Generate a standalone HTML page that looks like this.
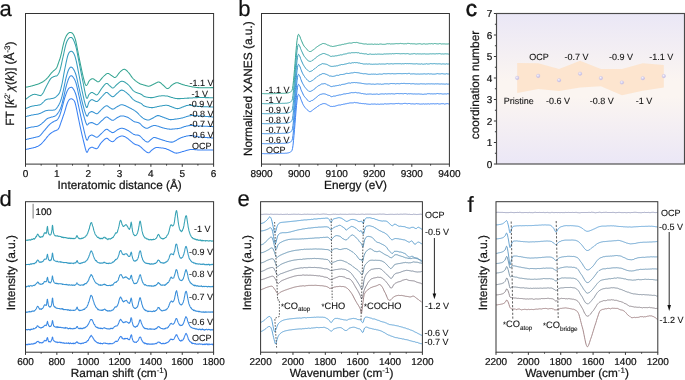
<!DOCTYPE html>
<html><head><meta charset="utf-8"><style>
html,body{margin:0;padding:0;background:#fff;overflow:hidden;}
svg{display:block;will-change:transform;filter:blur(0.3px);}
</style></head><body>
<svg width="685" height="380" viewBox="0 0 685 380" font-family='"Liberation Sans", sans-serif'>
<style>text{stroke:#111;stroke-width:0.22px;paint-order:stroke;text-rendering:geometricPrecision;} tspan[font-size]{stroke-width:0.12px;}</style>
<rect width="685" height="380" fill="#fff"/>
<polyline points="25.5,87.3 26.0,87.2 26.5,87.1 27.0,87.0 27.5,86.9 28.0,86.8 28.5,86.7 29.0,86.6 29.5,86.5 30.0,86.4 30.5,86.3 31.0,86.1 31.5,86.0 32.0,85.9 32.5,85.7 33.0,85.6 33.5,85.5 34.0,85.3 34.5,85.2 35.0,85.0 35.5,84.8 36.0,84.7 36.5,84.5 37.0,84.4 37.5,84.2 38.0,84.1 38.5,83.9 39.0,83.7 39.5,83.5 40.0,83.3 40.5,83.1 41.0,82.8 41.5,82.6 42.0,82.3 42.5,82.0 43.0,81.7 43.5,81.4 44.0,81.0 44.5,80.6 45.0,80.2 45.5,79.8 46.0,79.3 46.5,78.8 47.0,78.3 47.5,77.8 48.0,77.3 48.5,76.7 49.0,76.1 49.5,75.4 50.0,74.7 50.5,74.1 51.0,73.4 51.5,72.8 52.0,72.3 52.5,71.8 53.0,71.4 53.5,70.9 54.0,70.5 54.5,70.1 55.0,69.7 55.5,69.3 56.0,68.7 56.5,68.0 57.0,67.0 57.5,65.7 58.0,64.3 58.5,62.9 59.0,61.4 59.5,60.0 60.0,58.5 60.5,56.8 61.0,55.0 61.5,52.9 62.0,50.6 62.5,48.2 63.0,45.9 63.5,43.8 64.0,41.9 64.5,40.3 65.0,38.8 65.5,37.6 66.0,36.5 66.5,35.6 67.0,34.8 67.5,34.2 68.0,33.7 68.5,33.2 69.0,32.8 69.5,32.6 70.0,32.5 70.5,32.5 71.0,32.6 71.5,32.7 72.0,32.9 72.5,33.4 73.0,34.0 73.5,34.8 74.0,35.8 74.5,37.0 75.0,38.4 75.5,40.0 76.0,42.0 76.5,44.3 77.0,46.9 77.5,49.5 78.0,52.0 78.5,54.5 79.0,57.1 79.5,59.6 80.0,62.1 80.5,64.6 81.0,66.9 81.5,69.3 82.0,71.6 82.5,73.8 83.0,76.0 83.5,78.1 84.0,80.0 84.5,81.8 85.0,83.5 85.5,84.8 86.0,85.5 86.5,85.5 87.0,85.0 87.5,84.2 88.0,83.2 88.5,82.1 89.0,81.2 89.5,80.5 90.0,80.0 90.5,79.6 91.0,79.3 91.5,79.0 92.0,78.8 92.5,78.7 93.0,78.7 93.5,78.9 94.0,79.2 94.5,79.6 95.0,80.0 95.5,80.3 96.0,80.6 96.5,81.0 97.0,81.4 97.5,81.7 98.0,81.8 98.5,81.8 99.0,81.5 99.5,81.1 100.0,80.5 100.5,79.9 101.0,79.3 101.5,78.7 102.0,78.1 102.5,77.5 103.0,77.0 103.5,76.5 104.0,76.0 104.5,75.5 105.0,75.1 105.5,74.6 106.0,74.2 106.5,73.9 107.0,73.6 107.5,73.4 108.0,73.4 108.5,73.5 109.0,73.7 109.5,74.1 110.0,74.4 110.5,74.8 111.0,75.2 111.5,75.5 112.0,75.8 112.5,76.2 113.0,76.5 113.5,76.9 114.0,77.2 114.5,77.4 115.0,77.4 115.5,77.3 116.0,77.0 116.5,76.5 117.0,75.9 117.5,75.2 118.0,74.5 118.5,73.8 119.0,73.2 119.5,72.5 120.0,72.0 120.5,71.5 121.0,71.1 121.5,70.7 122.0,70.3 122.5,69.9 123.0,69.6 123.5,69.4 124.0,69.3 124.5,69.3 125.0,69.5 125.5,69.7 126.0,70.0 126.5,70.5 127.0,70.9 127.5,71.4 128.0,72.0 128.5,72.5 129.0,73.1 129.5,73.7 130.0,74.4 130.5,75.2 131.0,75.9 131.5,76.6 132.0,77.3 132.5,77.9 133.0,78.5 133.5,79.0 134.0,79.5 134.5,79.9 135.0,80.4 135.5,80.8 136.0,81.2 136.5,81.6 137.0,81.9 137.5,82.3 138.0,82.6 138.5,82.9 139.0,83.2 139.5,83.5 140.0,83.8 140.5,84.0 141.0,84.2 141.5,84.3 142.0,84.5 142.5,84.6 143.0,84.7 143.5,84.9 144.0,85.0 144.5,85.2 145.0,85.3 145.5,85.5 146.0,85.7 146.5,85.8 147.0,86.0 147.5,86.1 148.0,86.2 148.5,86.2 149.0,86.2 149.5,86.1 150.0,86.0 150.5,85.8 151.0,85.6 151.5,85.3 152.0,85.0 152.5,84.8 153.0,84.5 153.5,84.2 154.0,84.0 154.5,83.8 155.0,83.5 155.5,83.2 156.0,82.9 156.5,82.7 157.0,82.4 157.5,82.2 158.0,82.1 158.5,82.0 159.0,82.0 159.5,82.2 160.0,82.5 160.5,82.8 161.0,83.2 161.5,83.7 162.0,84.2 162.5,84.6 163.0,85.0 163.5,85.4 164.0,85.9 164.5,86.4 165.0,86.9 165.5,87.4 166.0,87.8 166.5,88.2 167.0,88.4 167.5,88.6 168.0,88.5 168.5,88.3 169.0,88.0 169.5,87.5 170.0,87.0 170.5,86.4 171.0,85.9 171.5,85.4 172.0,85.0 172.5,84.7 173.0,84.3 173.5,84.0 174.0,83.7 174.5,83.4 175.0,83.2 175.5,83.0 176.0,82.8 176.5,82.7 177.0,82.7 177.5,82.7 178.0,82.8 178.5,83.0 179.0,83.2 179.5,83.4 180.0,83.6 180.5,83.8 181.0,84.0 181.5,84.2 182.0,84.3 182.5,84.5 183.0,84.7 183.5,84.8 184.0,85.0 184.5,85.1 185.0,85.3 185.5,85.4 186.0,85.5 186.5,85.6 187.0,85.7 187.5,85.8 188.0,85.9 188.5,86.1 189.0,86.2 189.5,86.3 190.0,86.4 190.5,86.5 191.0,86.6 191.5,86.7 192.0,86.8 192.5,86.9 193.0,87.0 193.5,87.0 194.0,87.1 194.5,87.2 195.0,87.3 195.5,87.3 196.0,87.4 196.5,87.5 197.0,87.5 197.5,87.6 198.0,87.6 198.5,87.6 199.0,87.7 199.5,87.7 200.0,87.7 200.5,87.7 201.0,87.7 201.5,87.7 202.0,87.7 202.5,87.7 203.0,87.7 203.5,87.7 204.0,87.7 204.5,87.7 205.0,87.7 205.5,87.7 206.0,87.7 206.5,87.7 207.0,87.7 207.5,87.7 208.0,87.7 208.5,87.7 209.0,87.7 209.5,87.7 210.0,87.7 210.5,87.7 211.0,87.6 211.5,87.6 212.0,87.6 212.5,87.6 213.0,87.6 213.5,87.6" fill="none" stroke="#35a592" stroke-width="1.05" stroke-linejoin="round" />
<polyline points="25.5,99.4 26.0,99.0 26.5,98.6 27.0,98.2 27.5,97.9 28.0,97.5 28.5,97.1 29.0,96.7 29.5,96.4 30.0,96.1 30.5,95.8 31.0,95.5 31.5,95.3 32.0,95.0 32.5,94.8 33.0,94.6 33.5,94.5 34.0,94.4 34.5,94.3 35.0,94.3 35.5,94.4 36.0,94.4 36.5,94.6 37.0,94.7 37.5,94.9 38.0,95.0 38.5,95.2 39.0,95.3 39.5,95.4 40.0,95.6 40.5,95.6 41.0,95.4 41.5,95.0 42.0,94.5 42.5,93.8 43.0,93.1 43.5,92.2 44.0,91.2 44.5,90.0 45.0,89.0 45.5,88.0 46.0,87.0 46.5,86.0 47.0,85.1 47.5,84.1 48.0,83.2 48.5,82.3 49.0,81.3 49.5,80.4 50.0,79.6 50.5,78.9 51.0,78.3 51.5,77.9 52.0,77.5 52.5,77.3 53.0,77.0 53.5,76.8 54.0,76.6 54.5,76.4 55.0,76.2 55.5,76.0 56.0,75.9 56.5,75.9 57.0,75.7 57.5,75.2 58.0,74.5 58.5,73.7 59.0,72.8 59.5,71.5 60.0,70.0 60.5,68.2 61.0,66.1 61.5,63.8 62.0,61.5 62.5,59.2 63.0,57.0 63.5,54.8 64.0,52.5 64.5,50.2 65.0,47.9 65.5,45.8 66.0,44.0 66.5,42.5 67.0,41.3 67.5,40.3 68.0,39.5 68.5,38.8 69.0,38.2 69.5,37.8 70.0,37.6 70.5,37.5 71.0,37.5 71.5,37.6 72.0,37.8 72.5,38.3 73.0,39.0 73.5,40.0 74.0,41.1 74.5,42.3 75.0,43.7 75.5,45.2 76.0,47.0 76.5,49.1 77.0,51.5 77.5,54.1 78.0,56.8 78.5,59.4 79.0,62.0 79.5,64.5 80.0,67.0 80.5,69.6 81.0,72.1 81.5,74.6 82.0,77.1 82.5,79.6 83.0,82.0 83.5,84.5 84.0,87.1 84.5,89.7 85.0,92.2 85.5,94.6 86.0,96.5 86.5,98.0 87.0,98.5 87.5,98.0 88.0,96.8 88.5,95.4 89.0,94.5 89.5,94.0 90.0,93.5 90.5,93.1 91.0,92.7 91.5,92.5 92.0,92.4 92.5,92.5 93.0,92.8 93.5,93.2 94.0,93.5 94.5,93.8 95.0,94.1 95.5,94.5 96.0,94.8 96.5,94.9 97.0,94.8 97.5,94.5 98.0,94.0 98.5,93.3 99.0,92.6 99.5,91.8 100.0,91.0 100.5,90.2 101.0,89.4 101.5,88.7 102.0,88.0 102.5,87.4 103.0,86.7 103.5,86.1 104.0,85.4 104.5,84.9 105.0,84.3 105.5,83.9 106.0,83.6 106.5,83.4 107.0,83.4 107.5,83.7 108.0,84.0 108.5,84.5 109.0,85.1 109.5,85.6 110.0,86.0 110.5,86.4 111.0,86.9 111.5,87.4 112.0,87.7 112.5,87.9 113.0,87.9 113.5,87.7 114.0,87.4 114.5,87.0 115.0,86.5 115.5,85.9 116.0,85.4 116.5,84.9 117.0,84.4 117.5,84.0 118.0,83.6 118.5,83.2 119.0,82.7 119.5,82.3 120.0,81.9 120.5,81.6 121.0,81.4 121.5,81.2 122.0,81.2 122.5,81.3 123.0,81.4 123.5,81.6 124.0,81.8 124.5,82.0 125.0,82.3 125.5,82.6 126.0,83.0 126.5,83.3 127.0,83.7 127.5,84.1 128.0,84.5 128.5,85.0 129.0,85.5 129.5,86.0 130.0,86.7 130.5,87.3 131.0,87.9 131.5,88.6 132.0,89.2 132.5,89.8 133.0,90.3 133.5,90.8 134.0,91.2 134.5,91.6 135.0,91.9 135.5,92.1 136.0,92.4 136.5,92.6 137.0,92.8 137.5,93.0 138.0,93.1 138.5,93.3 139.0,93.4 139.5,93.6 140.0,93.8 140.5,94.0 141.0,94.2 141.5,94.5 142.0,94.8 142.5,95.2 143.0,95.7 143.5,96.0 144.0,96.3 144.5,96.5 145.0,96.7 145.5,96.8 146.0,96.9 146.5,97.1 147.0,97.2 147.5,97.2 148.0,97.3 148.5,97.4 149.0,97.5 149.5,97.5 150.0,97.6 150.5,97.6 151.0,97.6 151.5,97.6 152.0,97.6 152.5,97.6 153.0,97.5 153.5,97.4 154.0,97.3 154.5,97.2 155.0,97.1 155.5,96.9 156.0,96.8 156.5,96.7 157.0,96.5 157.5,96.4 158.0,96.3 158.5,96.2 159.0,96.1 159.5,96.0 160.0,96.0 160.5,95.9 161.0,95.9 161.5,95.8 162.0,95.8 162.5,95.8 163.0,95.8 163.5,95.8 164.0,95.8 164.5,95.8 165.0,95.9 165.5,95.9 166.0,95.9 166.5,96.0 167.0,96.0 167.5,96.1 168.0,96.2 168.5,96.4 169.0,96.5 169.5,96.7 170.0,96.9 170.5,97.0 171.0,97.2 171.5,97.4 172.0,97.5 172.5,97.6 173.0,97.8 173.5,97.9 174.0,98.0 174.5,98.2 175.0,98.3 175.5,98.4 176.0,98.5 176.5,98.5 177.0,98.6 177.5,98.6 178.0,98.6 178.5,98.6 179.0,98.6 179.5,98.6 180.0,98.6 180.5,98.6 181.0,98.5 181.5,98.5 182.0,98.5 182.5,98.5 183.0,98.4 183.5,98.4 184.0,98.4 184.5,98.3 185.0,98.3 185.5,98.3 186.0,98.2 186.5,98.2 187.0,98.2 187.5,98.1 188.0,98.1 188.5,98.1 189.0,98.1 189.5,98.0 190.0,98.0 190.5,98.0 191.0,97.9 191.5,97.9 192.0,97.9 192.5,97.9 193.0,97.8 193.5,97.8 194.0,97.8 194.5,97.7 195.0,97.7 195.5,97.7 196.0,97.6 196.5,97.6 197.0,97.6 197.5,97.6 198.0,97.5 198.5,97.5 199.0,97.5 199.5,97.5 200.0,97.5 200.5,97.5 201.0,97.5 201.5,97.5 202.0,97.5 202.5,97.5 203.0,97.5 203.5,97.5 204.0,97.5 204.5,97.5 205.0,97.6 205.5,97.6 206.0,97.6 206.5,97.6 207.0,97.6 207.5,97.6 208.0,97.6 208.5,97.6 209.0,97.7 209.5,97.7 210.0,97.7 210.5,97.7 211.0,97.7 211.5,97.7 212.0,97.8 212.5,97.8 213.0,97.8 213.5,97.8" fill="none" stroke="#36a2aa" stroke-width="1.05" stroke-linejoin="round" />
<polyline points="25.5,108.8 26.0,108.6 26.5,108.3 27.0,108.1 27.5,107.9 28.0,107.6 28.5,107.4 29.0,107.2 29.5,107.0 30.0,106.8 30.5,106.6 31.0,106.5 31.5,106.3 32.0,106.2 32.5,106.1 33.0,106.0 33.5,105.9 34.0,105.8 34.5,105.7 35.0,105.6 35.5,105.5 36.0,105.5 36.5,105.4 37.0,105.4 37.5,105.3 38.0,105.2 38.5,105.1 39.0,105.0 39.5,104.9 40.0,104.7 40.5,104.5 41.0,104.2 41.5,103.8 42.0,103.4 42.5,102.9 43.0,102.5 43.5,102.0 44.0,101.5 44.5,100.9 45.0,100.4 45.5,100.0 46.0,99.7 46.5,99.4 47.0,99.3 47.5,99.2 48.0,99.1 48.5,99.0 49.0,99.0 49.5,98.9 50.0,98.9 50.5,98.8 51.0,98.7 51.5,98.6 52.0,98.5 52.5,98.4 53.0,98.3 53.5,98.2 54.0,98.0 54.5,97.8 55.0,97.5 55.5,97.2 56.0,96.8 56.5,96.4 57.0,95.9 57.5,95.4 58.0,94.9 58.5,94.3 59.0,93.7 59.5,92.7 60.0,91.5 60.5,90.0 61.0,88.2 61.5,86.2 62.0,84.0 62.5,81.5 63.0,78.8 63.5,76.0 64.0,73.2 64.5,70.5 65.0,68.0 65.5,65.6 66.0,63.2 66.5,60.8 67.0,58.6 67.5,56.7 68.0,55.0 68.5,53.7 69.0,52.8 69.5,52.1 70.0,51.7 70.5,51.5 71.0,51.3 71.5,51.3 72.0,51.5 72.5,51.8 73.0,52.3 73.5,53.0 74.0,53.9 74.5,55.0 75.0,56.4 75.5,58.1 76.0,60.0 76.5,62.2 77.0,64.6 77.5,67.2 78.0,69.8 78.5,72.4 79.0,75.0 79.5,77.5 80.0,80.1 80.5,82.7 81.0,85.3 81.5,87.9 82.0,90.4 82.5,92.7 83.0,95.0 83.5,97.2 84.0,99.4 84.5,101.5 85.0,103.4 85.5,105.2 86.0,106.6 86.5,107.5 87.0,107.5 87.5,106.6 88.0,104.9 88.5,103.2 89.0,102.0 89.5,101.3 90.0,100.8 90.5,100.3 91.0,99.9 91.5,99.7 92.0,99.6 92.5,99.7 93.0,99.9 93.5,100.3 94.0,100.6 94.5,100.8 95.0,101.0 95.5,101.3 96.0,101.5 96.5,101.6 97.0,101.5 97.5,101.2 98.0,100.9 98.5,100.4 99.0,99.9 99.5,99.3 100.0,98.7 100.5,98.2 101.0,97.6 101.5,97.0 102.0,96.5 102.5,96.0 103.0,95.4 103.5,94.8 104.0,94.3 104.5,93.7 105.0,93.3 105.5,92.8 106.0,92.5 106.5,92.4 107.0,92.5 107.5,92.7 108.0,93.1 108.5,93.6 109.0,94.1 109.5,94.6 110.0,95.0 110.5,95.4 111.0,95.8 111.5,96.3 112.0,96.6 112.5,96.8 113.0,96.8 113.5,96.6 114.0,96.3 114.5,95.9 115.0,95.4 115.5,94.9 116.0,94.4 116.5,93.9 117.0,93.4 117.5,93.0 118.0,92.6 118.5,92.1 119.0,91.7 119.5,91.2 120.0,90.8 120.5,90.5 121.0,90.2 121.5,90.1 122.0,90.1 122.5,90.2 123.0,90.4 123.5,90.6 124.0,90.9 124.5,91.2 125.0,91.6 125.5,91.9 126.0,92.3 126.5,92.7 127.0,93.2 127.5,93.6 128.0,94.0 128.5,94.5 129.0,94.9 129.5,95.5 130.0,96.0 130.5,96.6 131.0,97.2 131.5,97.7 132.0,98.3 132.5,98.8 133.0,99.3 133.5,99.7 134.0,100.1 134.5,100.5 135.0,100.8 135.5,101.0 136.0,101.3 136.5,101.5 137.0,101.7 137.5,101.9 138.0,102.1 138.5,102.3 139.0,102.5 139.5,102.7 140.0,102.9 140.5,103.1 141.0,103.4 141.5,103.7 142.0,104.1 142.5,104.6 143.0,105.1 143.5,105.5 144.0,105.9 144.5,106.1 145.0,106.3 145.5,106.5 146.0,106.6 146.5,106.8 147.0,106.9 147.5,107.0 148.0,107.1 148.5,107.2 149.0,107.3 149.5,107.4 150.0,107.5 150.5,107.5 151.0,107.6 151.5,107.6 152.0,107.6 152.5,107.6 153.0,107.6 153.5,107.5 154.0,107.4 154.5,107.3 155.0,107.2 155.5,107.1 156.0,107.0 156.5,106.9 157.0,106.7 157.5,106.6 158.0,106.5 158.5,106.4 159.0,106.3 159.5,106.2 160.0,106.1 160.5,106.0 161.0,105.9 161.5,105.9 162.0,105.8 162.5,105.7 163.0,105.6 163.5,105.5 164.0,105.5 164.5,105.4 165.0,105.3 165.5,105.3 166.0,105.3 166.5,105.3 167.0,105.3 167.5,105.4 168.0,105.5 168.5,105.6 169.0,105.8 169.5,106.0 170.0,106.2 170.5,106.4 171.0,106.6 171.5,106.8 172.0,107.0 172.5,107.2 173.0,107.3 173.5,107.5 174.0,107.7 174.5,107.9 175.0,108.1 175.5,108.2 176.0,108.4 176.5,108.5 177.0,108.6 177.5,108.6 178.0,108.6 178.5,108.5 179.0,108.4 179.5,108.3 180.0,108.1 180.5,107.9 181.0,107.7 181.5,107.5 182.0,107.3 182.5,107.1 183.0,106.9 183.5,106.7 184.0,106.5 184.5,106.3 185.0,106.2 185.5,106.0 186.0,105.8 186.5,105.6 187.0,105.5 187.5,105.4 188.0,105.3 188.5,105.3 189.0,105.3 189.5,105.3 190.0,105.3 190.5,105.4 191.0,105.4 191.5,105.5 192.0,105.5 192.5,105.6 193.0,105.7 193.5,105.7 194.0,105.8 194.5,105.9 195.0,105.9 195.5,106.0 196.0,106.1 196.5,106.1 197.0,106.2 197.5,106.3 198.0,106.3 198.5,106.4 199.0,106.4 199.5,106.5 200.0,106.5 200.5,106.5 201.0,106.6 201.5,106.6 202.0,106.6 202.5,106.6 203.0,106.7 203.5,106.7 204.0,106.7 204.5,106.7 205.0,106.7 205.5,106.8 206.0,106.8 206.5,106.8 207.0,106.8 207.5,106.8 208.0,106.8 208.5,106.9 209.0,106.9 209.5,106.9 210.0,106.9 210.5,106.9 211.0,106.9 211.5,106.9 212.0,107.0 212.5,107.0 213.0,107.0 213.5,107.0" fill="none" stroke="#369cc0" stroke-width="1.05" stroke-linejoin="round" />
<polyline points="25.5,116.7 26.0,116.6 26.5,116.4 27.0,116.3 27.5,116.1 28.0,116.0 28.5,115.9 29.0,115.7 29.5,115.6 30.0,115.5 30.5,115.4 31.0,115.2 31.5,115.1 32.0,115.0 32.5,115.0 33.0,114.9 33.5,114.8 34.0,114.7 34.5,114.6 35.0,114.5 35.5,114.4 36.0,114.4 36.5,114.3 37.0,114.2 37.5,114.2 38.0,114.1 38.5,114.0 39.0,113.8 39.5,113.6 40.0,113.4 40.5,113.2 41.0,112.9 41.5,112.7 42.0,112.5 42.5,112.2 43.0,111.9 43.5,111.7 44.0,111.4 44.5,111.2 45.0,111.0 45.5,110.8 46.0,110.7 46.5,110.6 47.0,110.5 47.5,110.4 48.0,110.3 48.5,110.3 49.0,110.2 49.5,110.2 50.0,110.2 50.5,110.2 51.0,110.2 51.5,110.2 52.0,110.2 52.5,110.2 53.0,110.2 53.5,110.1 54.0,110.0 54.5,109.9 55.0,109.7 55.5,109.3 56.0,108.9 56.5,108.4 57.0,107.7 57.5,107.0 58.0,106.2 58.5,105.4 59.0,104.5 59.5,103.5 60.0,102.4 60.5,101.2 61.0,99.8 61.5,98.2 62.0,96.3 62.5,94.2 63.0,92.0 63.5,89.7 64.0,87.3 64.5,84.9 65.0,82.5 65.5,80.2 66.0,78.0 66.5,76.1 67.0,74.3 67.5,72.7 68.0,71.3 68.5,70.0 69.0,69.0 69.5,68.2 70.0,67.6 70.5,67.3 71.0,67.1 71.5,67.2 72.0,67.4 72.5,67.9 73.0,68.5 73.5,69.3 74.0,70.1 74.5,71.1 75.0,72.2 75.5,73.5 76.0,75.0 76.5,76.8 77.0,78.9 77.5,81.1 78.0,83.5 78.5,85.8 79.0,88.0 79.5,90.2 80.0,92.4 80.5,94.6 81.0,96.8 81.5,99.0 82.0,101.1 82.5,103.1 83.0,105.0 83.5,106.8 84.0,108.6 84.5,110.3 85.0,111.9 85.5,113.4 86.0,114.6 86.5,115.7 87.0,116.2 87.5,116.0 88.0,115.0 88.5,113.8 89.0,113.0 89.5,112.6 90.0,112.3 90.5,112.0 91.0,111.8 91.5,111.6 92.0,111.6 92.5,111.7 93.0,112.0 93.5,112.3 94.0,112.6 94.5,112.8 95.0,113.1 95.5,113.4 96.0,113.6 96.5,113.8 97.0,113.7 97.5,113.5 98.0,113.2 98.5,112.7 99.0,112.2 99.5,111.7 100.0,111.1 100.5,110.5 101.0,110.0 101.5,109.5 102.0,109.0 102.5,108.6 103.0,108.1 103.5,107.6 104.0,107.2 104.5,106.8 105.0,106.4 105.5,106.1 106.0,105.9 106.5,105.8 107.0,105.8 107.5,106.0 108.0,106.3 108.5,106.7 109.0,107.1 109.5,107.5 110.0,107.8 110.5,108.1 111.0,108.4 111.5,108.7 112.0,109.0 112.5,109.1 113.0,109.1 113.5,109.0 114.0,108.8 114.5,108.5 115.0,108.1 115.5,107.8 116.0,107.4 116.5,107.1 117.0,106.8 117.5,106.5 118.0,106.2 118.5,105.9 119.0,105.7 119.5,105.4 120.0,105.1 120.5,104.9 121.0,104.8 121.5,104.7 122.0,104.7 122.5,104.8 123.0,104.9 123.5,105.0 124.0,105.2 124.5,105.4 125.0,105.6 125.5,105.8 126.0,106.0 126.5,106.3 127.0,106.5 127.5,106.8 128.0,107.0 128.5,107.2 129.0,107.5 129.5,107.7 130.0,108.0 130.5,108.3 131.0,108.5 131.5,108.8 132.0,109.1 132.5,109.4 133.0,109.6 133.5,109.9 134.0,110.2 134.5,110.6 135.0,110.9 135.5,111.2 136.0,111.6 136.5,112.0 137.0,112.4 137.5,112.9 138.0,113.4 138.5,113.9 139.0,114.5 139.5,115.0 140.0,115.5 140.5,116.0 141.0,116.5 141.5,116.9 142.0,117.3 142.5,117.7 143.0,118.1 143.5,118.4 144.0,118.7 144.5,119.0 145.0,119.2 145.5,119.4 146.0,119.6 146.5,119.8 147.0,119.9 147.5,120.0 148.0,120.0 148.5,120.0 149.0,119.9 149.5,119.8 150.0,119.6 150.5,119.3 151.0,119.1 151.5,118.8 152.0,118.6 152.5,118.3 153.0,118.0 153.5,117.7 154.0,117.4 154.5,117.1 155.0,116.8 155.5,116.5 156.0,116.2 156.5,116.0 157.0,115.8 157.5,115.6 158.0,115.6 158.5,115.6 159.0,115.7 159.5,115.8 160.0,116.0 160.5,116.2 161.0,116.4 161.5,116.6 162.0,116.8 162.5,117.0 163.0,117.2 163.5,117.3 164.0,117.5 164.5,117.7 165.0,117.9 165.5,118.1 166.0,118.3 166.5,118.5 167.0,118.7 167.5,118.8 168.0,119.0 168.5,119.2 169.0,119.4 169.5,119.5 170.0,119.6 170.5,119.6 171.0,119.6 171.5,119.6 172.0,119.5 172.5,119.5 173.0,119.4 173.5,119.4 174.0,119.3 174.5,119.2 175.0,119.1 175.5,119.1 176.0,119.0 176.5,118.9 177.0,118.9 177.5,118.8 178.0,118.7 178.5,118.7 179.0,118.6 179.5,118.5 180.0,118.4 180.5,118.3 181.0,118.2 181.5,118.1 182.0,118.0 182.5,117.9 183.0,117.7 183.5,117.6 184.0,117.4 184.5,117.2 185.0,117.1 185.5,116.9 186.0,116.8 186.5,116.6 187.0,116.5 187.5,116.3 188.0,116.2 188.5,116.0 189.0,115.9 189.5,115.8 190.0,115.7 190.5,115.6 191.0,115.6 191.5,115.5 192.0,115.5 192.5,115.5 193.0,115.5 193.5,115.5 194.0,115.5 194.5,115.5 195.0,115.6 195.5,115.6 196.0,115.7 196.5,115.7 197.0,115.8 197.5,115.8 198.0,115.8 198.5,115.9 199.0,115.9 199.5,116.0 200.0,116.0 200.5,116.0 201.0,116.1 201.5,116.1 202.0,116.1 202.5,116.2 203.0,116.2 203.5,116.2 204.0,116.3 204.5,116.3 205.0,116.3 205.5,116.4 206.0,116.4 206.5,116.5 207.0,116.5 207.5,116.5 208.0,116.6 208.5,116.6 209.0,116.6 209.5,116.7 210.0,116.7 210.5,116.8 211.0,116.8 211.5,116.8 212.0,116.9 212.5,116.9 213.0,117.0 213.5,117.0" fill="none" stroke="#3794d3" stroke-width="1.05" stroke-linejoin="round" />
<polyline points="25.5,128.6 26.0,128.5 26.5,128.3 27.0,128.2 27.5,128.0 28.0,127.9 28.5,127.7 29.0,127.6 29.5,127.5 30.0,127.4 30.5,127.3 31.0,127.2 31.5,127.1 32.0,127.0 32.5,127.0 33.0,126.9 33.5,126.9 34.0,126.8 34.5,126.7 35.0,126.6 35.5,126.5 36.0,126.5 36.5,126.4 37.0,126.3 37.5,126.2 38.0,126.0 38.5,125.8 39.0,125.5 39.5,125.2 40.0,124.9 40.5,124.5 41.0,124.2 41.5,123.8 42.0,123.3 42.5,122.9 43.0,122.5 43.5,122.1 44.0,121.6 44.5,121.1 45.0,120.6 45.5,120.1 46.0,119.6 46.5,119.2 47.0,118.8 47.5,118.5 48.0,118.3 48.5,118.1 49.0,117.9 49.5,117.8 50.0,117.6 50.5,117.5 51.0,117.3 51.5,117.1 52.0,117.0 52.5,116.9 53.0,116.8 53.5,116.6 54.0,116.5 54.5,116.3 55.0,116.0 55.5,115.7 56.0,115.3 56.5,114.8 57.0,114.3 57.5,113.7 58.0,113.0 58.5,112.3 59.0,111.5 59.5,110.6 60.0,109.6 60.5,108.5 61.0,107.3 61.5,105.7 62.0,104.0 62.5,102.0 63.0,100.0 63.5,97.9 64.0,95.7 64.5,93.4 65.0,91.2 65.5,89.0 66.0,87.0 66.5,85.1 67.0,83.4 67.5,81.8 68.0,80.3 68.5,79.0 69.0,77.9 69.5,77.0 70.0,76.3 70.5,75.9 71.0,75.7 71.5,75.7 72.0,76.0 72.5,76.4 73.0,77.0 73.5,77.7 74.0,78.5 74.5,79.3 75.0,80.4 75.5,81.6 76.0,83.0 76.5,84.8 77.0,86.8 77.5,89.1 78.0,91.5 78.5,93.8 79.0,96.0 79.5,98.2 80.0,100.4 80.5,102.6 81.0,104.8 81.5,106.9 82.0,109.1 82.5,111.1 83.0,113.0 83.5,114.8 84.0,116.6 84.5,118.4 85.0,120.0 85.5,121.6 86.0,123.0 86.5,124.1 87.0,124.9 87.5,125.0 88.0,124.5 88.5,123.7 89.0,123.2 89.5,123.0 90.0,122.9 90.5,122.7 91.0,122.6 91.5,122.6 92.0,122.6 92.5,122.8 93.0,123.0 93.5,123.3 94.0,123.6 94.5,123.8 95.0,124.0 95.5,124.3 96.0,124.6 96.5,124.7 97.0,124.7 97.5,124.5 98.0,124.2 98.5,123.8 99.0,123.4 99.5,122.9 100.0,122.4 100.5,121.9 101.0,121.4 101.5,120.9 102.0,120.5 102.5,120.1 103.0,119.6 103.5,119.1 104.0,118.6 104.5,118.2 105.0,117.7 105.5,117.4 106.0,117.1 106.5,117.0 107.0,117.0 107.5,117.2 108.0,117.5 108.5,117.9 109.0,118.3 109.5,118.7 110.0,119.0 110.5,119.3 111.0,119.6 111.5,120.0 112.0,120.2 112.5,120.3 113.0,120.3 113.5,120.2 114.0,119.9 114.5,119.6 115.0,119.2 115.5,118.9 116.0,118.5 116.5,118.1 117.0,117.8 117.5,117.5 118.0,117.2 118.5,117.0 119.0,116.7 119.5,116.5 120.0,116.3 120.5,116.1 121.0,116.0 121.5,115.9 122.0,115.9 122.5,115.9 123.0,116.0 123.5,116.0 124.0,116.1 124.5,116.3 125.0,116.4 125.5,116.5 126.0,116.7 126.5,116.9 127.0,117.1 127.5,117.3 128.0,117.5 128.5,117.8 129.0,118.1 129.5,118.4 130.0,118.7 130.5,119.1 131.0,119.4 131.5,119.8 132.0,120.2 132.5,120.5 133.0,120.9 133.5,121.2 134.0,121.4 134.5,121.7 135.0,121.9 135.5,122.0 136.0,122.1 136.5,122.2 137.0,122.3 137.5,122.4 138.0,122.5 138.5,122.7 139.0,122.9 139.5,123.2 140.0,123.6 140.5,124.0 141.0,124.5 141.5,125.1 142.0,125.6 142.5,126.1 143.0,126.5 143.5,126.9 144.0,127.2 144.5,127.5 145.0,127.8 145.5,128.0 146.0,128.2 146.5,128.3 147.0,128.3 147.5,128.2 148.0,128.0 148.5,127.7 149.0,127.5 149.5,127.2 150.0,127.0 150.5,126.8 151.0,126.6 151.5,126.3 152.0,126.1 152.5,125.9 153.0,125.7 153.5,125.6 154.0,125.5 154.5,125.5 155.0,125.5 155.5,125.6 156.0,125.7 156.5,125.8 157.0,125.9 157.5,126.1 158.0,126.2 158.5,126.3 159.0,126.5 159.5,126.7 160.0,126.9 160.5,127.1 161.0,127.3 161.5,127.5 162.0,127.6 162.5,127.7 163.0,127.9 163.5,128.0 164.0,128.1 164.5,128.3 165.0,128.4 165.5,128.5 166.0,128.6 166.5,128.7 167.0,128.8 167.5,128.9 168.0,129.0 168.5,129.0 169.0,129.1 169.5,129.1 170.0,129.2 170.5,129.2 171.0,129.2 171.5,129.2 172.0,129.1 172.5,129.1 173.0,129.0 173.5,129.0 174.0,128.9 174.5,128.9 175.0,128.8 175.5,128.8 176.0,128.7 176.5,128.7 177.0,128.7 177.5,128.6 178.0,128.6 178.5,128.5 179.0,128.4 179.5,128.3 180.0,128.2 180.5,128.1 181.0,127.9 181.5,127.7 182.0,127.5 182.5,127.3 183.0,127.2 183.5,127.0 184.0,126.8 184.5,126.6 185.0,126.5 185.5,126.4 186.0,126.2 186.5,126.1 187.0,126.0 187.5,125.9 188.0,125.8 188.5,125.7 189.0,125.6 189.5,125.6 190.0,125.5 190.5,125.5 191.0,125.5 191.5,125.5 192.0,125.5 192.5,125.5 193.0,125.5 193.5,125.6 194.0,125.6 194.5,125.6 195.0,125.7 195.5,125.7 196.0,125.7 196.5,125.8 197.0,125.8 197.5,125.8 198.0,125.9 198.5,125.9 199.0,125.9 199.5,126.0 200.0,126.0 200.5,126.0 201.0,126.0 201.5,126.1 202.0,126.1 202.5,126.1 203.0,126.1 203.5,126.2 204.0,126.2 204.5,126.2 205.0,126.2 205.5,126.2 206.0,126.3 206.5,126.3 207.0,126.3 207.5,126.3 208.0,126.4 208.5,126.4 209.0,126.4 209.5,126.4 210.0,126.4 210.5,126.5 211.0,126.5 211.5,126.5 212.0,126.5 212.5,126.6 213.0,126.6 213.5,126.6" fill="none" stroke="#388ce2" stroke-width="1.05" stroke-linejoin="round" />
<polyline points="25.5,139.6 26.0,139.5 26.5,139.4 27.0,139.2 27.5,139.1 28.0,139.0 28.5,138.9 29.0,138.7 29.5,138.6 30.0,138.5 30.5,138.4 31.0,138.3 31.5,138.2 32.0,138.1 32.5,138.0 33.0,137.9 33.5,137.7 34.0,137.6 34.5,137.5 35.0,137.4 35.5,137.3 36.0,137.1 36.5,137.0 37.0,136.9 37.5,136.8 38.0,136.7 38.5,136.5 39.0,136.3 39.5,136.0 40.0,135.6 40.5,135.2 41.0,134.6 41.5,134.0 42.0,133.4 42.5,132.8 43.0,132.1 43.5,131.5 44.0,130.9 44.5,130.4 45.0,129.8 45.5,129.2 46.0,128.6 46.5,128.0 47.0,127.4 47.5,126.8 48.0,126.2 48.5,125.7 49.0,125.1 49.5,124.6 50.0,124.1 50.5,123.7 51.0,123.3 51.5,122.9 52.0,122.6 52.5,122.3 53.0,122.0 53.5,121.7 54.0,121.4 54.5,121.1 55.0,121.0 55.5,120.8 56.0,120.6 56.5,120.4 57.0,120.0 57.5,119.5 58.0,118.8 58.5,118.0 59.0,117.1 59.5,116.0 60.0,114.7 60.5,113.1 61.0,111.5 61.5,109.7 62.0,108.0 62.5,106.2 63.0,104.3 63.5,102.3 64.0,100.5 64.5,98.7 65.0,97.0 65.5,95.5 66.0,94.1 66.5,92.7 67.0,91.5 67.5,90.4 68.0,89.5 68.5,88.8 69.0,88.2 69.5,87.9 70.0,87.6 70.5,87.4 71.0,87.3 71.5,87.3 72.0,87.5 72.5,87.9 73.0,88.5 73.5,89.3 74.0,90.1 74.5,91.1 75.0,92.2 75.5,93.5 76.0,95.0 76.5,96.8 77.0,98.8 77.5,101.1 78.0,103.4 78.5,105.7 79.0,108.0 79.5,110.2 80.0,112.5 80.5,114.8 81.0,117.1 81.5,119.4 82.0,121.7 82.5,123.9 83.0,126.0 83.5,128.1 84.0,130.3 84.5,132.4 85.0,134.5 85.5,136.5 86.0,138.2 86.5,139.6 87.0,140.3 87.5,140.1 88.0,138.9 88.5,137.5 89.0,136.5 89.5,136.1 90.0,135.7 90.5,135.4 91.0,135.2 91.5,135.0 92.0,135.0 92.5,135.2 93.0,135.4 93.5,135.7 94.0,136.1 94.5,136.3 95.0,136.6 95.5,136.9 96.0,137.1 96.5,137.2 97.0,137.2 97.5,137.0 98.0,136.7 98.5,136.4 99.0,135.9 99.5,135.4 100.0,134.9 100.5,134.4 101.0,133.9 101.5,133.5 102.0,133.0 102.5,132.5 103.0,132.0 103.5,131.5 104.0,131.0 104.5,130.5 105.0,130.1 105.5,129.7 106.0,129.4 106.5,129.3 107.0,129.3 107.5,129.5 108.0,129.8 108.5,130.2 109.0,130.6 109.5,131.0 110.0,131.3 110.5,131.6 111.0,131.9 111.5,132.2 112.0,132.5 112.5,132.6 113.0,132.6 113.5,132.5 114.0,132.2 114.5,131.9 115.0,131.5 115.5,131.2 116.0,130.8 116.5,130.4 117.0,130.1 117.5,129.8 118.0,129.5 118.5,129.3 119.0,129.0 119.5,128.8 120.0,128.5 120.5,128.4 121.0,128.3 121.5,128.2 122.0,128.2 122.5,128.3 123.0,128.4 123.5,128.5 124.0,128.7 124.5,128.8 125.0,129.0 125.5,129.3 126.0,129.5 126.5,129.7 127.0,130.0 127.5,130.2 128.0,130.5 128.5,130.8 129.0,131.1 129.5,131.4 130.0,131.8 130.5,132.1 131.0,132.5 131.5,132.9 132.0,133.2 132.5,133.6 133.0,133.9 133.5,134.2 134.0,134.4 134.5,134.6 135.0,134.8 135.5,134.9 136.0,134.9 136.5,135.0 137.0,135.0 137.5,135.1 138.0,135.1 138.5,135.2 139.0,135.4 139.5,135.7 140.0,136.0 140.5,136.5 141.0,137.0 141.5,137.5 142.0,138.0 142.5,138.6 143.0,139.1 143.5,139.5 144.0,139.9 144.5,140.3 145.0,140.8 145.5,141.2 146.0,141.5 146.5,141.8 147.0,142.0 147.5,142.1 148.0,142.0 148.5,141.7 149.0,141.4 149.5,140.9 150.0,140.4 150.5,139.9 151.0,139.5 151.5,139.1 152.0,138.7 152.5,138.3 153.0,137.9 153.5,137.6 154.0,137.5 154.5,137.5 155.0,137.5 155.5,137.7 156.0,137.8 156.5,138.0 157.0,138.2 157.5,138.3 158.0,138.5 158.5,138.7 159.0,138.8 159.5,139.0 160.0,139.2 160.5,139.3 161.0,139.5 161.5,139.7 162.0,139.8 162.5,140.0 163.0,140.2 163.5,140.3 164.0,140.5 164.5,140.6 165.0,140.8 165.5,140.9 166.0,141.1 166.5,141.2 167.0,141.4 167.5,141.5 168.0,141.6 168.5,141.7 169.0,141.8 169.5,141.9 170.0,142.0 170.5,142.1 171.0,142.1 171.5,142.1 172.0,142.1 172.5,142.1 173.0,141.9 173.5,141.8 174.0,141.6 174.5,141.3 175.0,141.0 175.5,140.8 176.0,140.5 176.5,140.2 177.0,139.9 177.5,139.6 178.0,139.3 178.5,139.0 179.0,138.7 179.5,138.5 180.0,138.3 180.5,138.1 181.0,137.8 181.5,137.6 182.0,137.5 182.5,137.3 183.0,137.1 183.5,136.9 184.0,136.8 184.5,136.6 185.0,136.5 185.5,136.4 186.0,136.2 186.5,136.1 187.0,136.0 187.5,135.9 188.0,135.8 188.5,135.7 189.0,135.7 189.5,135.6 190.0,135.6 190.5,135.6 191.0,135.6 191.5,135.6 192.0,135.7 192.5,135.8 193.0,135.8 193.5,135.9 194.0,136.0 194.5,136.1 195.0,136.2 195.5,136.3 196.0,136.4 196.5,136.5 197.0,136.6 197.5,136.7 198.0,136.7 198.5,136.8 199.0,136.9 199.5,136.9 200.0,137.0 200.5,137.0 201.0,137.1 201.5,137.1 202.0,137.2 202.5,137.2 203.0,137.3 203.5,137.3 204.0,137.3 204.5,137.4 205.0,137.4 205.5,137.5 206.0,137.5 206.5,137.5 207.0,137.6 207.5,137.6 208.0,137.6 208.5,137.7 209.0,137.7 209.5,137.7 210.0,137.8 210.5,137.8 211.0,137.8 211.5,137.9 212.0,137.9 212.5,137.9 213.0,138.0 213.5,138.0" fill="none" stroke="#3986ec" stroke-width="1.05" stroke-linejoin="round" />
<polyline points="25.5,149.5 26.0,149.4 26.5,149.3 27.0,149.2 27.5,149.1 28.0,149.0 28.5,148.9 29.0,148.7 29.5,148.6 30.0,148.5 30.5,148.4 31.0,148.3 31.5,148.2 32.0,148.1 32.5,148.0 33.0,147.9 33.5,147.7 34.0,147.6 34.5,147.5 35.0,147.4 35.5,147.2 36.0,147.0 36.5,146.8 37.0,146.6 37.5,146.4 38.0,146.2 38.5,145.9 39.0,145.6 39.5,145.3 40.0,144.9 40.5,144.5 41.0,144.1 41.5,143.6 42.0,143.1 42.5,142.5 43.0,142.0 43.5,141.4 44.0,140.9 44.5,140.3 45.0,139.7 45.5,139.1 46.0,138.5 46.5,137.8 47.0,137.2 47.5,136.6 48.0,136.0 48.5,135.5 49.0,134.9 49.5,134.4 50.0,133.9 50.5,133.5 51.0,133.1 51.5,132.8 52.0,132.4 52.5,132.1 53.0,131.9 53.5,131.6 54.0,131.3 54.5,131.0 55.0,130.8 55.5,130.7 56.0,130.5 56.5,130.3 57.0,130.0 57.5,129.7 58.0,129.3 58.5,128.7 59.0,127.8 59.5,126.7 60.0,125.3 60.5,123.9 61.0,122.4 61.5,121.0 62.0,119.6 62.5,118.2 63.0,116.7 63.5,115.3 64.0,113.8 64.5,112.3 65.0,110.7 65.5,109.0 66.0,107.2 66.5,105.5 67.0,104.0 67.5,102.7 68.0,101.6 68.5,100.7 69.0,100.0 69.5,99.4 70.0,99.1 70.5,98.9 71.0,98.8 71.5,98.8 72.0,98.9 72.5,99.2 73.0,99.5 73.5,100.0 74.0,100.5 74.5,101.2 75.0,102.5 75.5,104.3 76.0,106.4 76.5,108.7 77.0,111.1 77.5,113.6 78.0,116.1 78.5,118.6 79.0,121.0 79.5,123.5 80.0,125.9 80.5,128.2 81.0,130.4 81.5,132.6 82.0,134.8 82.5,136.9 83.0,139.0 83.5,141.0 84.0,143.0 84.5,145.0 85.0,147.1 85.5,149.0 86.0,150.7 86.5,151.9 87.0,152.4 87.5,151.9 88.0,150.8 88.5,149.6 89.0,148.8 89.5,148.4 90.0,148.0 90.5,147.7 91.0,147.4 91.5,147.3 92.0,147.2 92.5,147.3 93.0,147.5 93.5,147.8 94.0,148.0 94.5,148.2 95.0,148.3 95.5,148.5 96.0,148.7 96.5,148.7 97.0,148.6 97.5,148.2 98.0,147.6 98.5,146.9 99.0,146.0 99.5,145.2 100.0,144.4 100.5,143.6 101.0,143.0 101.5,142.4 102.0,141.9 102.5,141.4 103.0,140.9 103.5,140.4 104.0,139.9 104.5,139.4 105.0,139.0 105.5,138.7 106.0,138.4 106.5,138.2 107.0,138.2 107.5,138.4 108.0,138.8 108.5,139.4 109.0,139.9 109.5,140.3 110.0,140.6 110.5,140.9 111.0,141.2 111.5,141.4 112.0,141.6 112.5,141.7 113.0,141.6 113.5,141.4 114.0,141.0 114.5,140.5 115.0,140.0 115.5,139.4 116.0,138.8 116.5,138.4 117.0,138.0 117.5,137.7 118.0,137.4 118.5,137.1 119.0,136.9 119.5,136.6 120.0,136.4 120.5,136.3 121.0,136.1 121.5,136.0 122.0,136.0 122.5,136.0 123.0,136.1 123.5,136.2 124.0,136.4 124.5,136.6 125.0,136.8 125.5,137.1 126.0,137.4 126.5,137.7 127.0,138.0 127.5,138.4 128.0,138.7 128.5,139.1 129.0,139.6 129.5,140.0 130.0,140.4 130.5,140.9 131.0,141.3 131.5,141.7 132.0,142.2 132.5,142.6 133.0,143.0 133.5,143.4 134.0,143.7 134.5,144.0 135.0,144.3 135.5,144.5 136.0,144.7 136.5,144.8 137.0,145.0 137.5,145.1 138.0,145.2 138.5,145.4 139.0,145.7 139.5,146.0 140.0,146.4 140.5,146.8 141.0,147.2 141.5,147.7 142.0,148.2 142.5,148.7 143.0,149.1 143.5,149.6 144.0,150.0 144.5,150.4 145.0,150.8 145.5,151.2 146.0,151.6 146.5,152.0 147.0,152.3 147.5,152.6 148.0,152.7 148.5,152.8 149.0,152.7 149.5,152.4 150.0,152.0 150.5,151.4 151.0,150.9 151.5,150.4 152.0,150.0 152.5,149.6 153.0,149.3 153.5,148.9 154.0,148.5 154.5,148.2 155.0,147.9 155.5,147.7 156.0,147.6 156.5,147.5 157.0,147.5 157.5,147.5 158.0,147.5 158.5,147.6 159.0,147.7 159.5,147.7 160.0,147.8 160.5,147.8 161.0,147.9 161.5,147.9 162.0,148.0 162.5,148.0 163.0,148.1 163.5,148.2 164.0,148.3 164.5,148.4 165.0,148.5 165.5,148.6 166.0,148.8 166.5,149.0 167.0,149.2 167.5,149.4 168.0,149.6 168.5,149.8 169.0,150.1 169.5,150.3 170.0,150.5 170.5,150.7 171.0,151.0 171.5,151.3 172.0,151.5 172.5,151.8 173.0,152.1 173.5,152.3 174.0,152.6 174.5,152.8 175.0,152.9 175.5,153.0 176.0,153.1 176.5,153.1 177.0,153.1 177.5,153.0 178.0,152.9 178.5,152.8 179.0,152.7 179.5,152.6 180.0,152.4 180.5,152.2 181.0,152.1 181.5,151.9 182.0,151.8 182.5,151.6 183.0,151.5 183.5,151.4 184.0,151.2 184.5,151.1 185.0,150.9 185.5,150.8 186.0,150.6 186.5,150.5 187.0,150.3 187.5,150.2 188.0,150.0 188.5,149.9 189.0,149.8 189.5,149.7 190.0,149.6 190.5,149.5 191.0,149.5 191.5,149.5 192.0,149.4 192.5,149.5 193.0,149.5 193.5,149.5 194.0,149.5 194.5,149.6 195.0,149.6 195.5,149.7 196.0,149.7 196.5,149.8 197.0,149.8 197.5,149.9 198.0,149.9 198.5,149.9 199.0,150.0 199.5,150.0 200.0,150.0 200.5,150.0 201.0,150.0 201.5,150.0 202.0,150.0 202.5,150.0 203.0,150.0 203.5,150.0 204.0,150.0 204.5,150.0 205.0,150.0 205.5,150.0 206.0,150.0 206.5,150.0 207.0,150.0 207.5,150.0 208.0,150.0 208.5,150.0 209.0,150.0 209.5,150.0 210.0,150.0 210.5,150.0 211.0,150.0 211.5,150.0 212.0,150.0 212.5,150.0 213.0,150.0 213.5,150.0" fill="none" stroke="#3a82f4" stroke-width="1.05" stroke-linejoin="round" />
<rect x="25.5" y="13.5" width="188.1" height="150.6" fill="none" stroke="#333" stroke-width="1.0"/>
<line x1="25.50" y1="164.1" x2="25.50" y2="166.79999999999998" stroke="#333" stroke-width="1"/>
<text x="25.50" y="176.8" font-size="10" text-anchor="middle" fill="#111" >0</text>
<line x1="41.17" y1="164.1" x2="41.17" y2="165.6" stroke="#333" stroke-width="1"/>
<line x1="56.85" y1="164.1" x2="56.85" y2="166.79999999999998" stroke="#333" stroke-width="1"/>
<text x="56.85" y="176.8" font-size="10" text-anchor="middle" fill="#111" >1</text>
<line x1="72.53" y1="164.1" x2="72.53" y2="165.6" stroke="#333" stroke-width="1"/>
<line x1="88.20" y1="164.1" x2="88.20" y2="166.79999999999998" stroke="#333" stroke-width="1"/>
<text x="88.20" y="176.8" font-size="10" text-anchor="middle" fill="#111" >2</text>
<line x1="103.88" y1="164.1" x2="103.88" y2="165.6" stroke="#333" stroke-width="1"/>
<line x1="119.55" y1="164.1" x2="119.55" y2="166.79999999999998" stroke="#333" stroke-width="1"/>
<text x="119.55" y="176.8" font-size="10" text-anchor="middle" fill="#111" >3</text>
<line x1="135.23" y1="164.1" x2="135.23" y2="165.6" stroke="#333" stroke-width="1"/>
<line x1="150.90" y1="164.1" x2="150.90" y2="166.79999999999998" stroke="#333" stroke-width="1"/>
<text x="150.90" y="176.8" font-size="10" text-anchor="middle" fill="#111" >4</text>
<line x1="166.57" y1="164.1" x2="166.57" y2="165.6" stroke="#333" stroke-width="1"/>
<line x1="182.25" y1="164.1" x2="182.25" y2="166.79999999999998" stroke="#333" stroke-width="1"/>
<text x="182.25" y="176.8" font-size="10" text-anchor="middle" fill="#111" >5</text>
<line x1="197.92" y1="164.1" x2="197.92" y2="165.6" stroke="#333" stroke-width="1"/>
<line x1="213.60" y1="164.1" x2="213.60" y2="166.79999999999998" stroke="#333" stroke-width="1"/>
<text x="213.60" y="176.8" font-size="10" text-anchor="middle" fill="#111" >6</text>
<text x="189.5" y="86.2" font-size="9" text-anchor="start" fill="#111"  style="stroke-width:0.1px">-1.1 V</text>
<text x="191.6" y="97.2" font-size="9" text-anchor="start" fill="#111"  style="stroke-width:0.1px">-1 V</text>
<text x="188.8" y="106.60000000000001" font-size="9" text-anchor="start" fill="#111"  style="stroke-width:0.1px">-0.9 V</text>
<text x="189.5" y="116.5" font-size="9" text-anchor="start" fill="#111"  style="stroke-width:0.1px">-0.8 V</text>
<text x="189.5" y="127.0" font-size="9" text-anchor="start" fill="#111"  style="stroke-width:0.1px">-0.7 V</text>
<text x="189.5" y="137.79999999999998" font-size="9" text-anchor="start" fill="#111"  style="stroke-width:0.1px">-0.6 V</text>
<text x="192.0" y="149.39999999999998" font-size="9" text-anchor="start" fill="#111"  style="stroke-width:0.1px">OCP</text>
<text x="57.6" y="188.6" font-size="11.75" text-anchor="start" fill="#111" >Interatomic distance (Å)</text>
<text transform="translate(14.4,83.6) rotate(-90)" font-size="11.9" text-anchor="middle" fill="#111">FT [<tspan font-style="italic">k</tspan><tspan font-size="8" dy="-4.6">2</tspan><tspan font-size="6" dy="-1">&#8217;</tspan><tspan dy="5.6" dx="1.6" font-style="italic">χ</tspan><tspan>(</tspan><tspan font-style="italic">k</tspan>)] (Å<tspan font-size="8" dy="-4.6">-3</tspan><tspan dy="4.6">)</tspan></text>
<text x="-0.5" y="15.9" font-size="22" text-anchor="start" fill="#111" >a</text>
<text x="238.3" y="15.6" font-size="22" text-anchor="start" fill="#111" >b</text>
<polyline points="261.5,93.6 262.0,93.6 262.5,93.6 263.0,93.6 263.5,93.6 264.0,93.6 264.5,93.7 265.0,93.7 265.5,93.7 266.0,93.7 266.5,93.7 267.0,93.7 267.5,93.7 268.0,93.7 268.5,93.7 269.0,93.7 269.5,93.7 270.0,93.7 270.5,93.7 271.0,93.7 271.5,93.7 272.0,93.7 272.5,93.7 273.0,93.6 273.5,93.6 274.0,93.6 274.5,93.6 275.0,93.6 275.5,93.6 276.0,93.5 276.5,93.5 277.0,93.5 277.5,93.5 278.0,93.5 278.5,93.5 279.0,93.4 279.5,93.4 280.0,93.4 280.5,93.4 281.0,93.4 281.5,93.4 282.0,93.3 282.5,93.3 283.0,93.3 283.5,93.3 284.0,93.3 284.5,93.3 285.0,93.3 285.5,93.2 286.0,93.2 286.5,93.2 287.0,93.1 287.5,93.0 288.0,93.0 288.5,92.8 289.0,92.7 289.5,92.5 290.0,92.3 290.5,92.1 291.0,91.6 291.5,91.1 292.0,90.3 292.5,88.6 293.0,85.3 293.5,80.6 294.0,75.4 294.5,69.6 295.0,63.6 295.5,57.4 296.0,51.1 296.5,45.5 297.0,40.8 297.5,37.4 298.0,35.1 298.5,34.3 299.0,34.7 299.5,35.6 300.0,36.8 300.5,38.3 301.0,39.5 301.5,40.8 302.0,41.9 302.5,43.1 303.0,44.2 303.5,45.1 304.0,46.0 304.5,46.7 305.0,47.1 305.5,47.6 306.0,48.2 306.5,48.9 307.0,49.5 307.5,50.1 308.0,50.5 308.5,51.0 309.0,51.3 309.5,51.5 310.0,51.5 310.5,51.5 311.0,51.5 311.5,51.1 312.0,50.7 312.5,50.3 313.0,50.2 313.5,49.8 314.0,49.3 314.5,48.8 315.0,48.4 315.5,48.0 316.0,47.6 316.5,47.2 317.0,46.8 317.5,46.5 318.0,46.0 318.5,45.8 319.0,45.4 319.5,45.2 320.0,44.8 320.5,44.6 321.0,44.3 321.5,44.2 322.0,43.9 322.5,43.6 323.0,43.5 323.5,43.5 324.0,43.6 324.5,43.7 325.0,43.7 325.5,43.9 326.0,44.0 326.5,44.4 327.0,44.8 327.5,45.0 328.0,45.1 328.5,45.2 329.0,45.4 329.5,45.7 330.0,46.0 330.5,46.1 331.0,46.1 331.5,46.2 332.0,46.3 332.5,46.5 333.0,46.4 333.5,46.4 334.0,46.2 334.5,46.2 335.0,46.1 335.5,46.0 336.0,45.9 336.5,45.8 337.0,45.6 337.5,45.5 338.0,45.3 338.5,45.3 339.0,45.2 339.5,45.1 340.0,44.9 340.5,45.0 341.0,44.8 341.5,44.7 342.0,44.5 342.5,44.4 343.0,44.5 343.5,44.4 344.0,44.2 344.5,44.0 345.0,43.9 345.5,43.9 346.0,43.8 346.5,43.7 347.0,43.5 347.5,43.4 348.0,43.3 348.5,43.2 349.0,43.0 349.5,43.0 350.0,43.1 350.5,43.1 351.0,43.2 351.5,43.1 352.0,43.0 352.5,42.8 353.0,42.5 353.5,42.5 354.0,42.3 354.5,42.5 355.0,42.6 355.5,42.6 356.0,42.6 356.5,42.4 357.0,42.5 357.5,42.6 358.0,42.8 358.5,42.9 359.0,43.1 359.5,43.2 360.0,43.4 360.5,43.3 361.0,43.3 361.5,43.4 362.0,43.5 362.5,43.7 363.0,43.8 363.5,43.9 364.0,44.0 364.5,44.0 365.0,44.0 365.5,43.9 366.0,43.9 366.5,44.0 367.0,44.1 367.5,44.3 368.0,44.1 368.5,44.2 369.0,44.2 369.5,44.2 370.0,44.2 370.5,44.2 371.0,44.1 371.5,44.1 372.0,44.1 372.5,44.2 373.0,44.2 373.5,44.4 374.0,44.1 374.5,44.1 375.0,44.0 375.5,44.2 376.0,44.3 376.5,44.3 377.0,44.3 377.5,44.2 378.0,44.4 378.5,44.4 379.0,44.4 379.5,44.1 380.0,44.1 380.5,44.0 381.0,44.0 381.5,44.1 382.0,44.3 382.5,44.3 383.0,44.2 383.5,44.3 384.0,44.2 384.5,44.3 385.0,44.2 385.5,44.2 386.0,44.1 386.5,43.9 387.0,43.8 387.5,43.7 388.0,43.8 388.5,43.8 389.0,43.7 389.5,43.7 390.0,43.9 390.5,44.0 391.0,44.0 391.5,43.9 392.0,43.8 392.5,43.9 393.0,43.8 393.5,43.9 394.0,43.8 394.5,43.8 395.0,43.7 395.5,43.7 396.0,43.7 396.5,43.6 397.0,43.8 397.5,43.7 398.0,43.8 398.5,43.7 399.0,43.8 399.5,43.6 400.0,43.6 400.5,43.4 401.0,43.6 401.5,43.6 402.0,43.7 402.5,43.6 403.0,43.7 403.5,43.8 404.0,43.9 404.5,43.8 405.0,43.6 405.5,43.7 406.0,43.9 406.5,43.8 407.0,43.6 407.5,43.4 408.0,43.4 408.5,43.4 409.0,43.5 409.5,43.5 410.0,43.8 410.5,43.8 411.0,43.8 411.5,43.7 412.0,43.6 412.5,43.8 413.0,43.8 413.5,43.8 414.0,43.7 414.5,43.8 415.0,43.9 415.5,44.0 416.0,44.0 416.5,44.1 417.0,43.9 417.5,43.9 418.0,43.9 418.5,43.8 419.0,43.8 419.5,43.7 420.0,43.9 420.5,43.8 421.0,44.0 421.5,44.1 422.0,44.2 422.5,44.1 423.0,44.0 423.5,43.8 424.0,43.7 424.5,43.8 425.0,44.0 425.5,44.1 426.0,44.1 426.5,44.0 427.0,43.9 427.5,44.0 428.0,44.0 428.5,43.8 429.0,43.7 429.5,43.7 430.0,43.8 430.5,43.8 431.0,43.8 431.5,43.6 432.0,43.7 432.5,43.8 433.0,44.1 433.5,43.9 434.0,43.8 434.5,43.5 435.0,43.6 435.5,43.6 436.0,43.7 436.5,43.8 437.0,43.8 437.5,43.9 438.0,43.9 438.5,43.9 439.0,43.7 439.5,43.6 440.0,43.6 440.5,43.7 441.0,43.8 441.5,44.0 442.0,43.9 442.5,43.9 443.0,43.8 443.5,43.9 444.0,43.9 444.5,43.9 445.0,44.0 445.5,44.0 446.0,44.1 446.5,44.0 447.0,44.1 447.5,44.0 448.0,44.0 448.5,43.9 449.0,44.0" fill="none" stroke="#35a592" stroke-width="1.0" stroke-linejoin="round" />
<polyline points="261.5,103.6 262.0,103.6 262.5,103.6 263.0,103.6 263.5,103.6 264.0,103.6 264.5,103.7 265.0,103.7 265.5,103.7 266.0,103.7 266.5,103.7 267.0,103.7 267.5,103.7 268.0,103.7 268.5,103.7 269.0,103.7 269.5,103.7 270.0,103.7 270.5,103.7 271.0,103.7 271.5,103.7 272.0,103.7 272.5,103.7 273.0,103.6 273.5,103.6 274.0,103.6 274.5,103.6 275.0,103.6 275.5,103.6 276.0,103.5 276.5,103.5 277.0,103.5 277.5,103.5 278.0,103.5 278.5,103.5 279.0,103.4 279.5,103.4 280.0,103.4 280.5,103.4 281.0,103.4 281.5,103.4 282.0,103.3 282.5,103.3 283.0,103.3 283.5,103.3 284.0,103.3 284.5,103.3 285.0,103.3 285.5,103.2 286.0,103.2 286.5,103.2 287.0,103.1 287.5,103.0 288.0,103.0 288.5,102.8 289.0,102.7 289.5,102.5 290.0,102.3 290.5,102.1 291.0,101.6 291.5,101.1 292.0,100.3 292.5,98.6 293.0,95.3 293.5,90.6 294.0,85.4 294.5,79.6 295.0,73.6 295.5,67.4 296.0,61.1 296.5,55.5 297.0,50.8 297.5,47.4 298.0,45.1 298.5,44.3 299.0,44.7 299.5,45.6 300.0,46.9 300.5,48.4 301.0,49.6 301.5,50.8 302.0,51.9 302.5,52.9 303.0,54.0 303.5,55.1 304.0,55.9 304.5,56.7 305.0,57.2 305.5,57.8 306.0,58.5 306.5,59.2 307.0,59.8 307.5,60.2 308.0,60.5 308.5,60.9 309.0,61.1 309.5,61.3 310.0,61.4 310.5,61.4 311.0,61.4 311.5,61.1 312.0,60.6 312.5,60.3 313.0,59.9 313.5,59.7 314.0,59.3 314.5,59.0 315.0,58.5 315.5,57.9 316.0,57.5 316.5,57.2 317.0,56.9 317.5,56.4 318.0,56.1 318.5,55.7 319.0,55.5 319.5,55.1 320.0,54.8 320.5,54.6 321.0,54.4 321.5,54.2 322.0,54.0 322.5,53.7 323.0,53.7 323.5,53.5 324.0,53.7 324.5,53.6 325.0,53.8 325.5,54.0 326.0,54.2 326.5,54.4 327.0,54.6 327.5,54.8 328.0,54.9 328.5,55.1 329.0,55.3 329.5,55.7 330.0,56.0 330.5,56.3 331.0,56.4 331.5,56.4 332.0,56.2 332.5,56.1 333.0,56.2 333.5,56.2 334.0,56.2 334.5,56.1 335.0,55.9 335.5,55.8 336.0,55.6 336.5,55.8 337.0,55.8 337.5,55.6 338.0,55.4 338.5,55.3 339.0,55.4 339.5,55.2 340.0,55.0 340.5,54.8 341.0,54.8 341.5,54.9 342.0,54.9 342.5,54.7 343.0,54.4 343.5,54.2 344.0,54.1 344.5,54.1 345.0,54.0 345.5,53.9 346.0,53.9 346.5,53.8 347.0,53.6 347.5,53.3 348.0,53.1 348.5,53.1 349.0,53.0 349.5,53.0 350.0,53.0 350.5,53.1 351.0,52.9 351.5,52.7 352.0,52.6 352.5,52.7 353.0,52.6 353.5,52.7 354.0,52.5 354.5,52.7 355.0,52.6 355.5,52.6 356.0,52.6 356.5,52.6 357.0,52.7 357.5,52.8 358.0,52.8 358.5,52.7 359.0,53.0 359.5,53.2 360.0,53.4 360.5,53.4 361.0,53.3 361.5,53.3 362.0,53.5 362.5,53.6 363.0,53.6 363.5,53.7 364.0,53.9 364.5,53.9 365.0,53.9 365.5,53.8 366.0,53.9 366.5,53.9 367.0,54.1 367.5,54.4 368.0,54.4 368.5,54.4 369.0,54.2 369.5,54.1 370.0,54.2 370.5,54.0 371.0,54.2 371.5,54.3 372.0,54.4 372.5,54.3 373.0,54.3 373.5,54.3 374.0,54.3 374.5,54.3 375.0,54.1 375.5,54.1 376.0,54.2 376.5,54.3 377.0,54.3 377.5,54.1 378.0,54.1 378.5,54.1 379.0,54.2 379.5,54.1 380.0,54.1 380.5,54.2 381.0,54.3 381.5,54.2 382.0,54.2 382.5,54.3 383.0,54.2 383.5,54.1 384.0,53.9 384.5,53.9 385.0,54.0 385.5,54.0 386.0,54.0 386.5,53.9 387.0,53.8 387.5,53.9 388.0,53.8 388.5,53.9 389.0,53.8 389.5,53.8 390.0,53.7 390.5,53.8 391.0,53.9 391.5,53.9 392.0,53.7 392.5,53.6 393.0,53.7 393.5,53.8 394.0,53.8 394.5,53.7 395.0,53.5 395.5,53.6 396.0,53.5 396.5,53.5 397.0,53.6 397.5,53.6 398.0,53.6 398.5,53.6 399.0,53.8 399.5,53.7 400.0,53.8 400.5,53.8 401.0,53.8 401.5,53.7 402.0,53.5 402.5,53.7 403.0,53.5 403.5,53.6 404.0,53.5 404.5,53.7 405.0,53.7 405.5,53.8 406.0,53.7 406.5,53.7 407.0,53.6 407.5,53.6 408.0,53.6 408.5,53.8 409.0,53.8 409.5,54.1 410.0,54.1 410.5,54.1 411.0,53.8 411.5,53.9 412.0,53.8 412.5,53.9 413.0,53.7 413.5,53.7 414.0,53.6 414.5,53.6 415.0,53.8 415.5,53.9 416.0,54.0 416.5,54.0 417.0,54.0 417.5,53.8 418.0,53.8 418.5,53.9 419.0,54.1 419.5,53.9 420.0,53.7 420.5,53.9 421.0,54.0 421.5,54.0 422.0,53.8 422.5,53.9 423.0,53.9 423.5,53.9 424.0,53.8 424.5,53.8 425.0,53.9 425.5,54.0 426.0,54.1 426.5,54.0 427.0,54.0 427.5,54.0 428.0,53.9 428.5,54.0 429.0,54.0 429.5,53.9 430.0,53.9 430.5,53.8 431.0,53.9 431.5,53.9 432.0,53.9 432.5,53.8 433.0,53.8 433.5,53.8 434.0,53.8 434.5,53.9 435.0,53.8 435.5,53.9 436.0,53.7 436.5,53.7 437.0,53.7 437.5,53.8 438.0,53.7 438.5,53.7 439.0,53.7 439.5,53.6 440.0,53.7 440.5,53.8 441.0,53.9 441.5,54.0 442.0,53.9 442.5,53.9 443.0,53.8 443.5,54.0 444.0,54.0 444.5,53.9 445.0,53.7 445.5,53.8 446.0,53.9 446.5,53.9 447.0,53.9 447.5,53.9 448.0,54.0 448.5,54.1 449.0,54.2" fill="none" stroke="#36a2aa" stroke-width="1.0" stroke-linejoin="round" />
<polyline points="261.5,113.6 262.0,113.6 262.5,113.6 263.0,113.6 263.5,113.6 264.0,113.6 264.5,113.7 265.0,113.7 265.5,113.7 266.0,113.7 266.5,113.7 267.0,113.7 267.5,113.7 268.0,113.7 268.5,113.7 269.0,113.7 269.5,113.7 270.0,113.7 270.5,113.7 271.0,113.7 271.5,113.7 272.0,113.7 272.5,113.7 273.0,113.6 273.5,113.6 274.0,113.6 274.5,113.6 275.0,113.6 275.5,113.6 276.0,113.5 276.5,113.5 277.0,113.5 277.5,113.5 278.0,113.5 278.5,113.5 279.0,113.4 279.5,113.4 280.0,113.4 280.5,113.4 281.0,113.4 281.5,113.4 282.0,113.3 282.5,113.3 283.0,113.3 283.5,113.3 284.0,113.3 284.5,113.3 285.0,113.3 285.5,113.2 286.0,113.2 286.5,113.2 287.0,113.1 287.5,113.0 288.0,113.0 288.5,112.8 289.0,112.7 289.5,112.5 290.0,112.3 290.5,112.1 291.0,111.6 291.5,111.1 292.0,110.3 292.5,108.6 293.0,105.3 293.5,100.6 294.0,95.4 294.5,89.6 295.0,83.6 295.5,77.4 296.0,71.1 296.5,65.5 297.0,60.8 297.5,57.4 298.0,55.1 298.5,54.3 299.0,54.7 299.5,55.6 300.0,56.8 300.5,58.4 301.0,59.7 301.5,60.9 302.0,62.0 302.5,63.1 303.0,64.2 303.5,65.1 304.0,65.9 304.5,66.7 305.0,67.4 305.5,68.3 306.0,68.7 306.5,69.2 307.0,69.6 307.5,70.1 308.0,70.5 308.5,71.0 309.0,71.3 309.5,71.6 310.0,71.5 310.5,71.4 311.0,71.0 311.5,71.0 312.0,70.7 312.5,70.5 313.0,70.0 313.5,69.5 314.0,69.0 314.5,68.8 315.0,68.4 315.5,68.2 316.0,67.7 316.5,67.4 317.0,66.9 317.5,66.4 318.0,65.8 318.5,65.6 319.0,65.4 319.5,65.1 320.0,64.8 320.5,64.6 321.0,64.4 321.5,64.1 322.0,63.7 322.5,63.6 323.0,63.6 323.5,63.8 324.0,63.8 324.5,63.9 325.0,63.9 325.5,64.1 326.0,64.1 326.5,64.3 327.0,64.5 327.5,64.7 328.0,65.0 328.5,65.3 329.0,65.6 329.5,65.8 330.0,65.9 330.5,66.2 331.0,66.3 331.5,66.4 332.0,66.3 332.5,66.4 333.0,66.4 333.5,66.3 334.0,66.1 334.5,66.1 335.0,66.1 335.5,66.1 336.0,65.9 336.5,65.8 337.0,65.8 337.5,65.8 338.0,65.6 338.5,65.4 339.0,65.2 339.5,65.1 340.0,65.1 340.5,64.9 341.0,64.6 341.5,64.5 342.0,64.5 342.5,64.6 343.0,64.6 343.5,64.5 344.0,64.3 344.5,64.2 345.0,64.0 345.5,64.0 346.0,63.9 346.5,63.8 347.0,63.6 347.5,63.5 348.0,63.3 348.5,63.2 349.0,63.0 349.5,63.0 350.0,63.0 350.5,63.3 351.0,63.2 351.5,63.0 352.0,62.7 352.5,62.7 353.0,62.6 353.5,62.8 354.0,62.4 354.5,62.5 355.0,62.5 355.5,62.7 356.0,62.7 356.5,62.6 357.0,62.5 357.5,62.7 358.0,62.8 358.5,63.0 359.0,63.0 359.5,63.0 360.0,63.2 360.5,63.4 361.0,63.5 361.5,63.5 362.0,63.6 362.5,63.7 363.0,63.9 363.5,64.0 364.0,64.0 364.5,64.0 365.0,64.1 365.5,64.0 366.0,64.0 366.5,63.9 367.0,64.0 367.5,64.1 368.0,64.1 368.5,64.0 369.0,63.9 369.5,63.9 370.0,64.1 370.5,64.2 371.0,64.2 371.5,64.2 372.0,64.3 372.5,64.3 373.0,64.3 373.5,64.2 374.0,64.2 374.5,64.2 375.0,64.2 375.5,64.1 376.0,64.1 376.5,64.2 377.0,64.0 377.5,64.2 378.0,64.1 378.5,64.1 379.0,64.0 379.5,63.9 380.0,64.0 380.5,64.1 381.0,64.1 381.5,64.0 382.0,64.0 382.5,64.0 383.0,64.0 383.5,64.0 384.0,64.1 384.5,64.1 385.0,64.0 385.5,64.0 386.0,63.8 386.5,63.8 387.0,63.5 387.5,63.6 388.0,63.7 388.5,63.9 389.0,64.1 389.5,63.9 390.0,63.9 390.5,63.8 391.0,63.7 391.5,63.7 392.0,63.7 392.5,63.9 393.0,63.8 393.5,63.9 394.0,63.7 394.5,63.7 395.0,63.6 395.5,63.7 396.0,63.6 396.5,63.7 397.0,63.6 397.5,63.7 398.0,63.7 398.5,63.7 399.0,63.7 399.5,63.7 400.0,63.7 400.5,63.7 401.0,63.8 401.5,63.9 402.0,63.9 402.5,63.7 403.0,63.7 403.5,63.8 404.0,63.9 404.5,63.7 405.0,63.4 405.5,63.5 406.0,63.4 406.5,63.7 407.0,63.5 407.5,63.6 408.0,63.5 408.5,63.7 409.0,63.6 409.5,63.6 410.0,63.6 410.5,63.7 411.0,63.7 411.5,63.7 412.0,63.7 412.5,63.8 413.0,63.8 413.5,63.9 414.0,63.8 414.5,63.9 415.0,63.8 415.5,63.9 416.0,63.7 416.5,63.7 417.0,63.5 417.5,63.9 418.0,63.9 418.5,64.0 419.0,63.9 419.5,64.0 420.0,64.1 420.5,64.1 421.0,63.9 421.5,63.8 422.0,63.8 422.5,64.1 423.0,64.2 423.5,64.2 424.0,63.9 424.5,64.0 425.0,63.9 425.5,64.0 426.0,63.7 426.5,63.7 427.0,63.8 427.5,64.0 428.0,63.9 428.5,64.0 429.0,63.8 429.5,63.9 430.0,63.7 430.5,63.6 431.0,63.6 431.5,63.7 432.0,63.8 432.5,63.8 433.0,63.8 433.5,63.7 434.0,63.8 434.5,63.6 435.0,63.8 435.5,63.8 436.0,63.9 436.5,63.8 437.0,63.8 437.5,63.9 438.0,63.9 438.5,63.8 439.0,63.6 439.5,63.8 440.0,63.7 440.5,63.9 441.0,63.9 441.5,64.1 442.0,64.0 442.5,63.9 443.0,63.8 443.5,63.9 444.0,63.9 444.5,64.0 445.0,64.1 445.5,64.1 446.0,64.0 446.5,63.8 447.0,63.9 447.5,64.0 448.0,64.0 448.5,64.0 449.0,64.0" fill="none" stroke="#369cc0" stroke-width="1.0" stroke-linejoin="round" />
<polyline points="261.5,123.6 262.0,123.6 262.5,123.6 263.0,123.6 263.5,123.6 264.0,123.6 264.5,123.7 265.0,123.7 265.5,123.7 266.0,123.7 266.5,123.7 267.0,123.7 267.5,123.7 268.0,123.7 268.5,123.7 269.0,123.7 269.5,123.7 270.0,123.7 270.5,123.7 271.0,123.7 271.5,123.7 272.0,123.7 272.5,123.7 273.0,123.6 273.5,123.6 274.0,123.6 274.5,123.6 275.0,123.6 275.5,123.6 276.0,123.5 276.5,123.5 277.0,123.5 277.5,123.5 278.0,123.5 278.5,123.5 279.0,123.4 279.5,123.4 280.0,123.4 280.5,123.4 281.0,123.4 281.5,123.4 282.0,123.3 282.5,123.3 283.0,123.3 283.5,123.3 284.0,123.3 284.5,123.3 285.0,123.3 285.5,123.2 286.0,123.2 286.5,123.2 287.0,123.1 287.5,123.0 288.0,123.0 288.5,122.8 289.0,122.7 289.5,122.5 290.0,122.3 290.5,122.1 291.0,121.6 291.5,121.1 292.0,120.3 292.5,118.6 293.0,115.3 293.5,110.6 294.0,105.4 294.5,99.6 295.0,93.6 295.5,87.4 296.0,81.1 296.5,75.5 297.0,70.8 297.5,67.4 298.0,65.1 298.5,64.3 299.0,64.7 299.5,65.6 300.0,66.8 300.5,68.2 301.0,69.6 301.5,70.9 302.0,72.1 302.5,73.2 303.0,74.2 303.5,75.0 304.0,75.8 304.5,76.5 305.0,77.3 305.5,77.9 306.0,78.6 306.5,79.0 307.0,79.6 307.5,80.2 308.0,80.7 308.5,81.0 309.0,81.3 309.5,81.6 310.0,81.6 310.5,81.5 311.0,81.2 311.5,80.9 312.0,80.6 312.5,80.4 313.0,80.0 313.5,79.8 314.0,79.3 314.5,78.9 315.0,78.4 315.5,77.9 316.0,77.5 316.5,77.0 317.0,76.7 317.5,76.4 318.0,76.2 318.5,75.9 319.0,75.4 319.5,75.0 320.0,74.8 320.5,74.6 321.0,74.6 321.5,74.2 322.0,74.0 322.5,73.6 323.0,73.5 323.5,73.6 324.0,73.6 324.5,73.7 325.0,73.8 325.5,74.1 326.0,74.2 326.5,74.4 327.0,74.7 327.5,74.9 328.0,75.1 328.5,75.3 329.0,75.7 329.5,76.0 330.0,75.9 330.5,76.0 331.0,76.0 331.5,76.2 332.0,76.3 332.5,76.4 333.0,76.3 333.5,76.3 334.0,76.1 334.5,76.1 335.0,75.9 335.5,75.8 336.0,75.5 336.5,75.3 337.0,75.3 337.5,75.3 338.0,75.4 338.5,75.4 339.0,75.2 339.5,74.9 340.0,74.7 340.5,74.6 341.0,74.6 341.5,74.5 342.0,74.7 342.5,74.5 343.0,74.4 343.5,74.3 344.0,74.3 344.5,74.1 345.0,74.0 345.5,73.7 346.0,73.6 346.5,73.3 347.0,73.3 347.5,73.4 348.0,73.4 348.5,73.5 349.0,73.4 349.5,73.3 350.0,73.0 350.5,73.1 351.0,73.0 351.5,72.9 352.0,72.9 352.5,72.9 353.0,73.0 353.5,72.7 354.0,72.5 354.5,72.4 355.0,72.5 355.5,72.5 356.0,72.5 356.5,72.6 357.0,72.6 357.5,72.7 358.0,72.7 358.5,72.8 359.0,72.9 359.5,73.0 360.0,73.2 360.5,73.3 361.0,73.3 361.5,73.4 362.0,73.6 362.5,73.6 363.0,73.8 363.5,73.8 364.0,73.8 364.5,73.7 365.0,73.6 365.5,73.7 366.0,73.8 366.5,73.9 367.0,73.9 367.5,74.1 368.0,74.3 368.5,74.3 369.0,74.4 369.5,74.3 370.0,74.4 370.5,74.3 371.0,74.1 371.5,74.1 372.0,74.2 372.5,74.2 373.0,74.2 373.5,74.1 374.0,74.3 374.5,74.2 375.0,74.1 375.5,74.1 376.0,74.4 376.5,74.4 377.0,74.4 377.5,74.3 378.0,74.3 378.5,74.2 379.0,74.1 379.5,74.0 380.0,74.1 380.5,74.1 381.0,74.2 381.5,74.2 382.0,74.1 382.5,74.1 383.0,73.8 383.5,73.7 384.0,73.6 384.5,73.7 385.0,73.8 385.5,73.8 386.0,73.9 386.5,73.8 387.0,73.7 387.5,73.7 388.0,73.6 388.5,73.6 389.0,73.8 389.5,73.7 390.0,73.9 390.5,73.8 391.0,73.9 391.5,73.7 392.0,73.7 392.5,73.6 393.0,73.7 393.5,73.8 394.0,73.8 394.5,73.8 395.0,73.7 395.5,73.8 396.0,73.8 396.5,73.7 397.0,73.6 397.5,73.6 398.0,73.6 398.5,73.6 399.0,73.6 399.5,73.6 400.0,73.6 400.5,73.6 401.0,73.6 401.5,73.7 402.0,73.7 402.5,73.7 403.0,73.7 403.5,73.6 404.0,73.6 404.5,73.6 405.0,73.5 405.5,73.5 406.0,73.5 406.5,73.7 407.0,73.7 407.5,73.7 408.0,73.5 408.5,73.4 409.0,73.2 409.5,73.4 410.0,73.6 410.5,74.0 411.0,73.9 411.5,73.9 412.0,73.8 412.5,73.9 413.0,73.7 413.5,73.8 414.0,73.8 414.5,73.9 415.0,74.0 415.5,74.0 416.0,74.1 416.5,74.1 417.0,74.1 417.5,74.0 418.0,73.9 418.5,74.0 419.0,74.1 419.5,74.1 420.0,74.0 420.5,74.0 421.0,73.9 421.5,74.0 422.0,74.0 422.5,74.0 423.0,74.0 423.5,73.9 424.0,74.0 424.5,73.8 425.0,74.1 425.5,74.0 426.0,74.1 426.5,74.0 427.0,74.0 427.5,73.9 428.0,73.7 428.5,73.7 429.0,73.8 429.5,74.0 430.0,74.0 430.5,73.9 431.0,73.9 431.5,73.9 432.0,73.9 432.5,74.1 433.0,74.0 433.5,74.1 434.0,74.0 434.5,74.1 435.0,74.0 435.5,74.0 436.0,74.0 436.5,73.8 437.0,73.8 437.5,73.6 438.0,73.8 438.5,73.8 439.0,73.8 439.5,73.9 440.0,73.9 440.5,73.9 441.0,73.7 441.5,73.7 442.0,73.6 442.5,73.7 443.0,73.8 443.5,73.9 444.0,73.9 444.5,74.0 445.0,74.0 445.5,74.0 446.0,73.8 446.5,73.7 447.0,73.6 447.5,73.9 448.0,74.0 448.5,74.0 449.0,74.0" fill="none" stroke="#3794d3" stroke-width="1.0" stroke-linejoin="round" />
<polyline points="261.5,133.6 262.0,133.6 262.5,133.6 263.0,133.6 263.5,133.6 264.0,133.6 264.5,133.7 265.0,133.7 265.5,133.7 266.0,133.7 266.5,133.7 267.0,133.7 267.5,133.7 268.0,133.7 268.5,133.7 269.0,133.7 269.5,133.7 270.0,133.7 270.5,133.7 271.0,133.7 271.5,133.7 272.0,133.7 272.5,133.7 273.0,133.6 273.5,133.6 274.0,133.6 274.5,133.6 275.0,133.6 275.5,133.6 276.0,133.5 276.5,133.5 277.0,133.5 277.5,133.5 278.0,133.5 278.5,133.5 279.0,133.4 279.5,133.4 280.0,133.4 280.5,133.4 281.0,133.4 281.5,133.4 282.0,133.3 282.5,133.3 283.0,133.3 283.5,133.3 284.0,133.3 284.5,133.3 285.0,133.3 285.5,133.2 286.0,133.2 286.5,133.2 287.0,133.1 287.5,133.0 288.0,133.0 288.5,132.8 289.0,132.7 289.5,132.5 290.0,132.3 290.5,132.1 291.0,131.6 291.5,131.1 292.0,130.3 292.5,128.6 293.0,125.3 293.5,120.6 294.0,115.4 294.5,109.6 295.0,103.6 295.5,97.4 296.0,91.1 296.5,85.5 297.0,80.8 297.5,77.4 298.0,75.1 298.5,74.3 299.0,74.7 299.5,75.6 300.0,76.7 300.5,78.3 301.0,79.7 301.5,81.0 302.0,82.1 302.5,83.2 303.0,84.1 303.5,84.9 304.0,85.8 304.5,86.7 305.0,87.3 305.5,88.0 306.0,88.5 306.5,89.2 307.0,89.7 307.5,90.2 308.0,90.6 308.5,91.1 309.0,91.2 309.5,91.4 310.0,91.5 310.5,91.4 311.0,91.3 311.5,90.9 312.0,90.8 312.5,90.4 313.0,90.2 313.5,89.8 314.0,89.3 314.5,88.9 315.0,88.5 315.5,88.1 316.0,87.7 316.5,87.2 317.0,86.9 317.5,86.4 318.0,86.1 318.5,85.7 319.0,85.5 319.5,85.3 320.0,85.1 320.5,84.7 321.0,84.4 321.5,84.0 322.0,83.9 322.5,83.9 323.0,83.8 323.5,83.8 324.0,83.5 324.5,83.6 325.0,83.7 325.5,83.8 326.0,83.9 326.5,84.2 327.0,84.7 327.5,85.0 328.0,85.0 328.5,85.2 329.0,85.4 329.5,85.7 330.0,85.9 330.5,86.3 331.0,86.4 331.5,86.6 332.0,86.4 332.5,86.4 333.0,86.2 333.5,86.1 334.0,86.1 334.5,86.1 335.0,86.0 335.5,85.8 336.0,85.8 336.5,85.7 337.0,85.6 337.5,85.5 338.0,85.5 338.5,85.4 339.0,85.2 339.5,85.0 340.0,85.1 340.5,85.2 341.0,85.0 341.5,84.6 342.0,84.5 342.5,84.4 343.0,84.5 343.5,84.3 344.0,84.3 344.5,84.2 345.0,84.1 345.5,83.9 346.0,83.7 346.5,83.6 347.0,83.5 347.5,83.3 348.0,83.2 348.5,83.0 349.0,83.0 349.5,83.0 350.0,83.1 350.5,83.2 351.0,83.0 351.5,82.7 352.0,82.6 352.5,82.7 353.0,82.7 353.5,82.6 354.0,82.4 354.5,82.5 355.0,82.6 355.5,82.7 356.0,82.5 356.5,82.6 357.0,82.7 357.5,82.8 358.0,82.8 358.5,82.9 359.0,83.1 359.5,83.0 360.0,83.2 360.5,83.1 361.0,83.3 361.5,83.3 362.0,83.5 362.5,83.5 363.0,83.6 363.5,83.6 364.0,83.8 364.5,83.8 365.0,83.8 365.5,83.9 366.0,83.9 366.5,84.0 367.0,83.9 367.5,84.0 368.0,84.0 368.5,83.9 369.0,83.9 369.5,83.9 370.0,84.0 370.5,84.0 371.0,84.1 371.5,84.2 372.0,84.2 372.5,84.1 373.0,84.1 373.5,84.1 374.0,84.2 374.5,84.3 375.0,84.3 375.5,84.2 376.0,84.1 376.5,84.0 377.0,84.0 377.5,83.9 378.0,83.9 378.5,84.0 379.0,84.1 379.5,84.1 380.0,84.1 380.5,84.0 381.0,84.1 381.5,84.3 382.0,84.4 382.5,84.2 383.0,84.0 383.5,84.1 384.0,84.0 384.5,83.8 385.0,83.8 385.5,83.8 386.0,83.9 386.5,83.8 387.0,83.8 387.5,83.8 388.0,84.0 388.5,84.0 389.0,83.9 389.5,83.8 390.0,83.7 390.5,83.6 391.0,83.6 391.5,83.5 392.0,83.6 392.5,83.6 393.0,83.7 393.5,83.6 394.0,83.6 394.5,83.6 395.0,83.8 395.5,83.9 396.0,83.9 396.5,83.7 397.0,83.6 397.5,83.6 398.0,83.7 398.5,83.7 399.0,83.6 399.5,83.8 400.0,83.6 400.5,83.6 401.0,83.5 401.5,83.4 402.0,83.4 402.5,83.5 403.0,83.4 403.5,83.4 404.0,83.3 404.5,83.4 405.0,83.5 405.5,83.6 406.0,83.6 406.5,83.6 407.0,83.5 407.5,83.6 408.0,83.5 408.5,83.6 409.0,83.5 409.5,83.5 410.0,83.6 410.5,83.8 411.0,83.9 411.5,83.8 412.0,83.7 412.5,83.7 413.0,83.6 413.5,83.7 414.0,83.8 414.5,83.9 415.0,83.9 415.5,84.0 416.0,84.0 416.5,83.9 417.0,83.9 417.5,84.0 418.0,83.9 418.5,84.0 419.0,84.1 419.5,84.0 420.0,83.8 420.5,83.8 421.0,83.8 421.5,83.8 422.0,84.0 422.5,83.9 423.0,84.0 423.5,83.9 424.0,83.8 424.5,83.9 425.0,83.9 425.5,84.1 426.0,84.0 426.5,83.9 427.0,83.8 427.5,83.9 428.0,83.8 428.5,83.8 429.0,83.8 429.5,83.9 430.0,83.8 430.5,83.9 431.0,83.8 431.5,83.8 432.0,83.8 432.5,83.9 433.0,83.9 433.5,83.9 434.0,83.9 434.5,84.0 435.0,83.8 435.5,83.8 436.0,83.8 436.5,83.9 437.0,83.9 437.5,83.8 438.0,83.9 438.5,83.9 439.0,83.9 439.5,84.0 440.0,83.9 440.5,84.0 441.0,83.9 441.5,83.9 442.0,83.9 442.5,84.0 443.0,83.9 443.5,84.0 444.0,83.9 444.5,84.1 445.0,84.0 445.5,84.1 446.0,83.9 446.5,83.9 447.0,84.0 447.5,84.1 448.0,84.2 448.5,84.1 449.0,84.1" fill="none" stroke="#388ce2" stroke-width="1.0" stroke-linejoin="round" />
<polyline points="261.5,143.6 262.0,143.6 262.5,143.6 263.0,143.6 263.5,143.6 264.0,143.6 264.5,143.7 265.0,143.7 265.5,143.7 266.0,143.7 266.5,143.7 267.0,143.7 267.5,143.7 268.0,143.7 268.5,143.7 269.0,143.7 269.5,143.7 270.0,143.7 270.5,143.7 271.0,143.7 271.5,143.7 272.0,143.7 272.5,143.7 273.0,143.6 273.5,143.6 274.0,143.6 274.5,143.6 275.0,143.6 275.5,143.6 276.0,143.5 276.5,143.5 277.0,143.5 277.5,143.5 278.0,143.5 278.5,143.5 279.0,143.4 279.5,143.4 280.0,143.4 280.5,143.4 281.0,143.4 281.5,143.4 282.0,143.3 282.5,143.3 283.0,143.3 283.5,143.3 284.0,143.3 284.5,143.3 285.0,143.3 285.5,143.2 286.0,143.2 286.5,143.2 287.0,143.1 287.5,143.0 288.0,143.0 288.5,142.8 289.0,142.7 289.5,142.5 290.0,142.3 290.5,142.1 291.0,141.6 291.5,141.1 292.0,140.3 292.5,138.6 293.0,135.3 293.5,130.6 294.0,125.4 294.5,119.6 295.0,113.6 295.5,107.4 296.0,101.1 296.5,95.5 297.0,90.8 297.5,87.4 298.0,85.1 298.5,84.3 299.0,84.7 299.5,85.6 300.0,86.5 300.5,88.1 301.0,89.7 301.5,90.9 302.0,91.9 302.5,92.9 303.0,94.0 303.5,95.2 304.0,95.9 304.5,96.7 305.0,97.1 305.5,97.7 306.0,98.3 306.5,98.9 307.0,99.6 307.5,100.2 308.0,100.6 308.5,101.1 309.0,101.3 309.5,101.5 310.0,101.5 310.5,101.3 311.0,101.1 311.5,100.6 312.0,100.5 312.5,100.4 313.0,100.2 313.5,99.8 314.0,99.3 314.5,98.8 315.0,98.5 315.5,98.0 316.0,97.8 316.5,97.2 317.0,96.9 317.5,96.3 318.0,96.0 318.5,95.5 319.0,95.3 319.5,94.9 320.0,94.7 320.5,94.4 321.0,94.3 321.5,94.2 322.0,94.0 322.5,93.9 323.0,93.8 323.5,93.8 324.0,93.8 324.5,93.9 325.0,93.9 325.5,94.1 326.0,94.1 326.5,94.5 327.0,94.7 327.5,95.0 328.0,95.1 328.5,95.3 329.0,95.5 329.5,95.5 330.0,95.8 330.5,96.2 331.0,96.4 331.5,96.7 332.0,96.6 332.5,96.5 333.0,96.3 333.5,96.1 334.0,96.1 334.5,96.1 335.0,96.1 335.5,96.0 336.0,95.9 336.5,95.6 337.0,95.5 337.5,95.4 338.0,95.4 338.5,95.2 339.0,95.0 339.5,94.9 340.0,94.9 340.5,94.9 341.0,94.7 341.5,94.6 342.0,94.4 342.5,94.4 343.0,94.1 343.5,94.0 344.0,93.9 344.5,93.9 345.0,93.9 345.5,93.9 346.0,93.8 346.5,93.6 347.0,93.5 347.5,93.5 348.0,93.6 348.5,93.4 349.0,93.2 349.5,93.1 350.0,92.9 350.5,92.9 351.0,92.7 351.5,92.6 352.0,92.6 352.5,92.7 353.0,92.8 353.5,92.7 354.0,92.7 354.5,92.6 355.0,92.6 355.5,92.4 356.0,92.6 356.5,92.7 357.0,93.0 357.5,92.9 358.0,92.8 358.5,92.8 359.0,92.9 359.5,93.0 360.0,93.0 360.5,93.2 361.0,93.5 361.5,93.6 362.0,93.7 362.5,93.5 363.0,93.7 363.5,93.8 364.0,94.0 364.5,93.9 365.0,93.8 365.5,94.0 366.0,94.1 366.5,94.3 367.0,94.1 367.5,94.1 368.0,94.1 368.5,94.1 369.0,94.1 369.5,94.0 370.0,93.9 370.5,94.0 371.0,94.1 371.5,94.1 372.0,94.2 372.5,94.3 373.0,94.5 373.5,94.2 374.0,94.2 374.5,94.2 375.0,94.2 375.5,94.2 376.0,94.0 376.5,94.0 377.0,94.0 377.5,94.1 378.0,94.3 378.5,94.4 379.0,94.3 379.5,94.2 380.0,94.1 380.5,94.0 381.0,93.9 381.5,93.9 382.0,93.9 382.5,93.9 383.0,94.0 383.5,94.0 384.0,94.0 384.5,94.0 385.0,93.8 385.5,93.7 386.0,93.8 386.5,94.0 387.0,94.0 387.5,93.9 388.0,93.8 388.5,93.8 389.0,93.8 389.5,93.8 390.0,94.0 390.5,93.9 391.0,93.8 391.5,93.7 392.0,93.7 392.5,93.8 393.0,93.8 393.5,93.9 394.0,93.9 394.5,94.0 395.0,93.8 395.5,93.7 396.0,93.5 396.5,93.6 397.0,93.5 397.5,93.5 398.0,93.4 398.5,93.6 399.0,93.6 399.5,93.7 400.0,93.7 400.5,93.6 401.0,93.6 401.5,93.6 402.0,93.7 402.5,93.7 403.0,93.8 403.5,93.8 404.0,93.7 404.5,93.5 405.0,93.4 405.5,93.5 406.0,93.5 406.5,93.7 407.0,93.8 407.5,94.0 408.0,93.7 408.5,93.7 409.0,93.7 409.5,93.8 410.0,93.8 410.5,93.7 411.0,93.8 411.5,93.8 412.0,93.8 412.5,93.9 413.0,93.9 413.5,94.0 414.0,93.9 414.5,93.9 415.0,93.9 415.5,94.0 416.0,93.9 416.5,94.0 417.0,94.0 417.5,94.0 418.0,93.9 418.5,93.9 419.0,94.0 419.5,94.0 420.0,94.1 420.5,94.1 421.0,94.1 421.5,94.1 422.0,94.1 422.5,94.3 423.0,94.3 423.5,94.3 424.0,94.1 424.5,94.1 425.0,94.0 425.5,94.1 426.0,94.1 426.5,94.1 427.0,93.9 427.5,93.7 428.0,93.7 428.5,93.7 429.0,93.8 429.5,93.7 430.0,93.8 430.5,93.9 431.0,93.8 431.5,93.8 432.0,93.7 432.5,93.9 433.0,93.9 433.5,93.9 434.0,93.7 434.5,93.8 435.0,93.8 435.5,93.9 436.0,93.8 436.5,93.7 437.0,93.7 437.5,93.5 438.0,93.5 438.5,93.7 439.0,93.8 439.5,93.8 440.0,93.8 440.5,93.7 441.0,93.8 441.5,93.8 442.0,94.0 442.5,94.0 443.0,94.0 443.5,94.0 444.0,94.0 444.5,93.9 445.0,93.9 445.5,93.9 446.0,94.0 446.5,94.0 447.0,94.0 447.5,93.7 448.0,93.7 448.5,93.8 449.0,93.9" fill="none" stroke="#3986ec" stroke-width="1.0" stroke-linejoin="round" />
<polyline points="261.5,153.6 262.0,153.6 262.5,153.6 263.0,153.6 263.5,153.6 264.0,153.6 264.5,153.7 265.0,153.7 265.5,153.7 266.0,153.7 266.5,153.7 267.0,153.7 267.5,153.7 268.0,153.7 268.5,153.7 269.0,153.7 269.5,153.7 270.0,153.7 270.5,153.7 271.0,153.7 271.5,153.7 272.0,153.7 272.5,153.7 273.0,153.6 273.5,153.6 274.0,153.6 274.5,153.6 275.0,153.6 275.5,153.6 276.0,153.5 276.5,153.5 277.0,153.5 277.5,153.5 278.0,153.5 278.5,153.5 279.0,153.4 279.5,153.4 280.0,153.4 280.5,153.4 281.0,153.4 281.5,153.4 282.0,153.3 282.5,153.3 283.0,153.3 283.5,153.3 284.0,153.3 284.5,153.3 285.0,153.3 285.5,153.2 286.0,153.2 286.5,153.2 287.0,153.1 287.5,153.0 288.0,153.0 288.5,152.8 289.0,152.7 289.5,152.5 290.0,152.3 290.5,152.1 291.0,151.6 291.5,151.1 292.0,150.3 292.5,148.6 293.0,145.3 293.5,140.6 294.0,135.4 294.5,129.6 295.0,123.6 295.5,117.4 296.0,111.1 296.5,105.5 297.0,100.8 297.5,97.4 298.0,95.1 298.5,94.3 299.0,94.7 299.5,95.6 300.0,96.6 300.5,98.2 301.0,99.5 301.5,100.8 302.0,101.9 302.5,103.3 303.0,104.3 303.5,105.3 304.0,106.0 304.5,106.8 305.0,107.5 305.5,108.0 306.0,108.6 306.5,109.1 307.0,109.7 307.5,110.1 308.0,110.5 308.5,110.9 309.0,111.2 309.5,111.6 310.0,111.7 310.5,111.6 311.0,111.3 311.5,111.0 312.0,110.6 312.5,110.3 313.0,109.7 313.5,109.4 314.0,108.9 314.5,108.7 315.0,108.4 315.5,108.0 316.0,107.7 316.5,107.4 317.0,107.0 317.5,106.5 318.0,106.2 318.5,105.9 319.0,105.6 319.5,105.1 320.0,104.8 320.5,104.6 321.0,104.4 321.5,104.3 322.0,103.9 322.5,103.8 323.0,103.7 323.5,103.6 324.0,103.6 324.5,103.6 325.0,103.8 325.5,103.8 326.0,104.0 326.5,104.2 327.0,104.6 327.5,104.9 328.0,105.1 328.5,105.3 329.0,105.5 329.5,105.8 330.0,106.2 330.5,106.4 331.0,106.4 331.5,106.4 332.0,106.5 332.5,106.5 333.0,106.5 333.5,106.3 334.0,106.3 334.5,106.3 335.0,106.1 335.5,106.0 336.0,105.7 336.5,105.7 337.0,105.6 337.5,105.4 338.0,105.3 338.5,105.1 339.0,105.0 339.5,105.0 340.0,105.1 340.5,105.0 341.0,104.9 341.5,104.6 342.0,104.7 342.5,104.5 343.0,104.5 343.5,104.2 344.0,104.2 344.5,104.1 345.0,103.8 345.5,103.8 346.0,103.7 346.5,103.7 347.0,103.5 347.5,103.4 348.0,103.4 348.5,103.3 349.0,103.1 349.5,103.0 350.0,103.0 350.5,102.9 351.0,102.9 351.5,102.9 352.0,102.9 352.5,102.9 353.0,102.9 353.5,102.8 354.0,102.5 354.5,102.4 355.0,102.5 355.5,102.7 356.0,102.6 356.5,102.7 357.0,102.6 357.5,102.8 358.0,102.8 358.5,103.0 359.0,103.2 359.5,103.3 360.0,103.3 360.5,103.3 361.0,103.4 361.5,103.5 362.0,103.7 362.5,103.6 363.0,103.6 363.5,103.6 364.0,103.7 364.5,103.8 365.0,103.7 365.5,103.7 366.0,103.9 366.5,104.0 367.0,104.1 367.5,104.1 368.0,104.1 368.5,104.2 369.0,104.2 369.5,104.3 370.0,104.2 370.5,104.3 371.0,104.0 371.5,104.0 372.0,104.0 372.5,104.1 373.0,104.1 373.5,104.1 374.0,104.2 374.5,104.0 375.0,104.0 375.5,104.1 376.0,104.3 376.5,104.3 377.0,104.2 377.5,104.1 378.0,104.1 378.5,104.2 379.0,104.4 379.5,104.3 380.0,104.3 380.5,104.1 381.0,104.2 381.5,104.1 382.0,104.1 382.5,104.1 383.0,104.1 383.5,104.2 384.0,103.9 384.5,103.8 385.0,103.7 385.5,103.8 386.0,104.0 386.5,104.0 387.0,104.0 387.5,103.9 388.0,103.9 388.5,103.9 389.0,103.8 389.5,103.8 390.0,103.8 390.5,103.7 391.0,103.6 391.5,103.7 392.0,103.7 392.5,103.8 393.0,103.7 393.5,103.8 394.0,103.8 394.5,103.8 395.0,103.8 395.5,103.6 396.0,103.6 396.5,103.5 397.0,103.6 397.5,103.6 398.0,103.6 398.5,103.4 399.0,103.5 399.5,103.7 400.0,103.9 400.5,103.8 401.0,103.8 401.5,103.8 402.0,103.9 402.5,103.8 403.0,103.7 403.5,103.5 404.0,103.6 404.5,103.4 405.0,103.5 405.5,103.4 406.0,103.5 406.5,103.6 407.0,103.8 407.5,103.8 408.0,103.6 408.5,103.5 409.0,103.4 409.5,103.5 410.0,103.5 410.5,103.8 411.0,103.9 411.5,103.9 412.0,103.9 412.5,103.8 413.0,103.8 413.5,103.9 414.0,104.0 414.5,104.0 415.0,103.9 415.5,103.9 416.0,103.8 416.5,103.6 417.0,103.8 417.5,103.8 418.0,103.9 418.5,103.8 419.0,103.9 419.5,104.0 420.0,104.1 420.5,104.1 421.0,104.1 421.5,104.0 422.0,104.1 422.5,104.0 423.0,103.9 423.5,103.8 424.0,103.9 424.5,104.1 425.0,104.0 425.5,103.9 426.0,103.8 426.5,104.0 427.0,104.0 427.5,103.9 428.0,103.8 428.5,103.8 429.0,104.1 429.5,104.1 430.0,104.0 430.5,103.8 431.0,103.8 431.5,103.8 432.0,103.9 432.5,103.8 433.0,103.7 433.5,103.7 434.0,103.8 434.5,103.9 435.0,103.9 435.5,103.8 436.0,103.9 436.5,103.8 437.0,103.7 437.5,103.6 438.0,103.6 438.5,103.9 439.0,104.0 439.5,104.0 440.0,104.0 440.5,103.9 441.0,103.8 441.5,103.7 442.0,103.7 442.5,103.7 443.0,103.7 443.5,103.7 444.0,104.0 444.5,104.1 445.0,104.1 445.5,103.9 446.0,103.8 446.5,103.7 447.0,103.7 447.5,103.6 448.0,103.8 448.5,103.9 449.0,104.1" fill="none" stroke="#3a82f4" stroke-width="1.0" stroke-linejoin="round" />
<text x="265.4" y="92.69999999999999" font-size="9" text-anchor="start" fill="#111"  style="stroke-width:0.1px">-1.1 V</text>
<text x="265.4" y="102.69999999999999" font-size="9" text-anchor="start" fill="#111"  style="stroke-width:0.1px">-1 V</text>
<text x="265.4" y="112.69999999999999" font-size="9" text-anchor="start" fill="#111"  style="stroke-width:0.1px">-0.9 V</text>
<text x="265.4" y="122.69999999999999" font-size="9" text-anchor="start" fill="#111"  style="stroke-width:0.1px">-0.8 V</text>
<text x="265.4" y="132.7" font-size="9" text-anchor="start" fill="#111"  style="stroke-width:0.1px">-0.7 V</text>
<text x="265.4" y="142.7" font-size="9" text-anchor="start" fill="#111"  style="stroke-width:0.1px">-0.6 V</text>
<text x="266" y="152.7" font-size="9" text-anchor="start" fill="#111"  style="stroke-width:0.1px">OCP</text>
<rect x="261.5" y="13.5" width="187.89999999999998" height="150.6" fill="none" stroke="#333" stroke-width="1.0"/>
<line x1="261.50" y1="164.1" x2="261.50" y2="166.79999999999998" stroke="#333" stroke-width="1"/>
<text x="261.50" y="176.8" font-size="10" text-anchor="middle" fill="#111" >8900</text>
<line x1="280.29" y1="164.1" x2="280.29" y2="165.6" stroke="#333" stroke-width="1"/>
<line x1="299.08" y1="164.1" x2="299.08" y2="166.79999999999998" stroke="#333" stroke-width="1"/>
<text x="299.08" y="176.8" font-size="10" text-anchor="middle" fill="#111" >9000</text>
<line x1="317.87" y1="164.1" x2="317.87" y2="165.6" stroke="#333" stroke-width="1"/>
<line x1="336.66" y1="164.1" x2="336.66" y2="166.79999999999998" stroke="#333" stroke-width="1"/>
<text x="336.66" y="176.8" font-size="10" text-anchor="middle" fill="#111" >9100</text>
<line x1="355.45" y1="164.1" x2="355.45" y2="165.6" stroke="#333" stroke-width="1"/>
<line x1="374.24" y1="164.1" x2="374.24" y2="166.79999999999998" stroke="#333" stroke-width="1"/>
<text x="374.24" y="176.8" font-size="10" text-anchor="middle" fill="#111" >9200</text>
<line x1="393.03" y1="164.1" x2="393.03" y2="165.6" stroke="#333" stroke-width="1"/>
<line x1="411.82" y1="164.1" x2="411.82" y2="166.79999999999998" stroke="#333" stroke-width="1"/>
<text x="411.82" y="176.8" font-size="10" text-anchor="middle" fill="#111" >9300</text>
<line x1="430.61" y1="164.1" x2="430.61" y2="165.6" stroke="#333" stroke-width="1"/>
<line x1="449.40" y1="164.1" x2="449.40" y2="166.79999999999998" stroke="#333" stroke-width="1"/>
<text x="449.40" y="176.8" font-size="10" text-anchor="middle" fill="#111" >9400</text>
<text x="355.6" y="188.6" font-size="11.8" text-anchor="middle" fill="#111" >Energy (eV)</text>
<text transform="translate(251.5,88.7) rotate(-90)" font-size="11.9" text-anchor="middle" fill="#111">Normalized XANES (a.u.)</text>
<text x="465.7" y="15.9" font-size="22.5" text-anchor="start" fill="#111" style="stroke-width:0.55px">c</text>
<defs><linearGradient id="cbg" x1="0" y1="0" x2="0" y2="1"><stop offset="0" stop-color="#eae7f6"/><stop offset="0.45" stop-color="#fbf5f1"/><stop offset="0.55" stop-color="#fbf5f1"/><stop offset="1" stop-color="#ebe7f6"/></linearGradient><radialGradient id="dot" cx="0.4" cy="0.35" r="0.65"><stop offset="0" stop-color="#f6f5fd"/><stop offset="1" stop-color="#bdb5e2"/></radialGradient></defs>
<rect x="496.5" y="13.5" width="188.0" height="150.5" fill="url(#cbg)"/>
<polygon points="517.2,63 538.2,63.3 559.1,69.1 580.1,60.8 600.9,68.9 621.9,68.9 642.8,63.3 663.8,65 663.8,87.6 642.8,90.8 621.9,95.2 600.9,86.2 580.1,87.6 559.1,91 538.2,89 517.2,93.1" fill="#fde3cb" fill-opacity="0.9"/>
<circle cx="517.2" cy="77.9" r="1.8" fill="url(#dot)" stroke="#c8c1e8" stroke-width="0.3"/>
<circle cx="538.2" cy="75.9" r="1.8" fill="url(#dot)" stroke="#c8c1e8" stroke-width="0.3"/>
<circle cx="559.1" cy="80.2" r="1.8" fill="url(#dot)" stroke="#c8c1e8" stroke-width="0.3"/>
<circle cx="580.1" cy="73.7" r="1.8" fill="url(#dot)" stroke="#c8c1e8" stroke-width="0.3"/>
<circle cx="600.9" cy="78.1" r="1.8" fill="url(#dot)" stroke="#c8c1e8" stroke-width="0.3"/>
<circle cx="621.9" cy="82.5" r="1.8" fill="url(#dot)" stroke="#c8c1e8" stroke-width="0.3"/>
<circle cx="642.8" cy="78.2" r="1.8" fill="url(#dot)" stroke="#c8c1e8" stroke-width="0.3"/>
<circle cx="663.8" cy="76.1" r="1.8" fill="url(#dot)" stroke="#c8c1e8" stroke-width="0.3"/>
<line x1="493.90" y1="164.00" x2="496.5" y2="164.00" stroke="#333" stroke-width="1"/>
<text x="492.3" y="167.60" font-size="10" text-anchor="end" fill="#111" >0</text>
<line x1="494.90" y1="153.25" x2="496.5" y2="153.25" stroke="#333" stroke-width="1"/>
<line x1="493.90" y1="142.50" x2="496.5" y2="142.50" stroke="#333" stroke-width="1"/>
<text x="492.3" y="146.10" font-size="10" text-anchor="end" fill="#111" >1</text>
<line x1="494.90" y1="131.75" x2="496.5" y2="131.75" stroke="#333" stroke-width="1"/>
<line x1="493.90" y1="121.00" x2="496.5" y2="121.00" stroke="#333" stroke-width="1"/>
<text x="492.3" y="124.60" font-size="10" text-anchor="end" fill="#111" >2</text>
<line x1="494.90" y1="110.25" x2="496.5" y2="110.25" stroke="#333" stroke-width="1"/>
<line x1="493.90" y1="99.50" x2="496.5" y2="99.50" stroke="#333" stroke-width="1"/>
<text x="492.3" y="103.10" font-size="10" text-anchor="end" fill="#111" >3</text>
<line x1="494.90" y1="88.75" x2="496.5" y2="88.75" stroke="#333" stroke-width="1"/>
<line x1="493.90" y1="78.00" x2="496.5" y2="78.00" stroke="#333" stroke-width="1"/>
<text x="492.3" y="81.60" font-size="10" text-anchor="end" fill="#111" >4</text>
<line x1="494.90" y1="67.25" x2="496.5" y2="67.25" stroke="#333" stroke-width="1"/>
<line x1="493.90" y1="56.50" x2="496.5" y2="56.50" stroke="#333" stroke-width="1"/>
<text x="492.3" y="60.10" font-size="10" text-anchor="end" fill="#111" >5</text>
<line x1="494.90" y1="45.75" x2="496.5" y2="45.75" stroke="#333" stroke-width="1"/>
<line x1="493.90" y1="35.00" x2="496.5" y2="35.00" stroke="#333" stroke-width="1"/>
<text x="492.3" y="38.60" font-size="10" text-anchor="end" fill="#111" >6</text>
<line x1="494.90" y1="24.25" x2="496.5" y2="24.25" stroke="#333" stroke-width="1"/>
<line x1="493.90" y1="13.50" x2="496.5" y2="13.50" stroke="#333" stroke-width="1"/>
<text x="492.3" y="17.10" font-size="10" text-anchor="end" fill="#111" >7</text>
<text x="539.0" y="60.1" font-size="9" text-anchor="middle" fill="#111"  style="stroke-width:0.1px">OCP</text>
<text x="576.4" y="60.1" font-size="9" text-anchor="middle" fill="#111"  style="stroke-width:0.1px">-0.7 V</text>
<text x="620.9" y="60.1" font-size="9" text-anchor="middle" fill="#111"  style="stroke-width:0.1px">-0.9 V</text>
<text x="661.3" y="60.1" font-size="9" text-anchor="middle" fill="#111"  style="stroke-width:0.1px">-1.1 V</text>
<text x="518.7" y="103.7" font-size="9" text-anchor="middle" fill="#111"  style="stroke-width:0.1px">Pristine</text>
<text x="557.9" y="103.7" font-size="9" text-anchor="middle" fill="#111"  style="stroke-width:0.1px">-0.6 V</text>
<text x="601.8" y="103.7" font-size="9" text-anchor="middle" fill="#111"  style="stroke-width:0.1px">-0.8 V</text>
<text x="644.0" y="103.7" font-size="9" text-anchor="middle" fill="#111"  style="stroke-width:0.1px">-1 V</text>
<rect x="496.5" y="13.5" width="188.0" height="150.5" fill="none" stroke="#4a4a4a" stroke-width="1.15"/>
<text transform="translate(478.6,85.0) rotate(-90)" font-size="11.9" text-anchor="middle" fill="#111">coordination number</text>
<text x="-0.5" y="205.6" font-size="22" text-anchor="start" fill="#111" >d</text>
<polyline points="25.4,240.7 25.6,240.6 25.9,240.3 26.1,240.4 26.3,240.2 26.6,240.2 26.8,240.3 27.0,240.0 27.3,240.1 27.5,240.4 27.8,240.1 28.0,240.0 28.2,240.1 28.5,240.1 28.7,240.0 28.9,239.7 29.2,239.8 29.4,240.0 29.6,240.0 29.9,239.7 30.1,239.9 30.3,240.1 30.6,239.7 30.8,240.0 31.0,240.0 31.3,239.4 31.5,239.3 31.7,239.1 32.0,239.3 32.2,239.5 32.5,239.2 32.7,239.4 32.9,239.2 33.2,239.0 33.4,238.9 33.6,238.6 33.9,238.6 34.1,238.9 34.3,239.2 34.6,238.8 34.8,238.5 35.0,238.3 35.3,238.1 35.5,237.8 35.7,237.1 36.0,236.6 36.2,236.5 36.5,236.7 36.7,236.1 36.9,235.1 37.2,234.8 37.4,234.6 37.6,234.1 37.9,234.3 38.1,234.6 38.3,234.9 38.6,235.2 38.8,235.7 39.0,236.3 39.3,236.7 39.5,236.9 39.7,236.6 40.0,236.7 40.2,237.4 40.4,237.4 40.7,237.0 40.9,236.9 41.2,236.8 41.4,236.9 41.6,236.8 41.9,237.0 42.1,237.0 42.3,236.6 42.6,236.7 42.8,236.7 43.0,236.2 43.3,235.6 43.5,235.4 43.7,234.8 44.0,233.8 44.2,233.3 44.4,233.2 44.7,232.9 44.9,232.6 45.2,232.6 45.4,233.0 45.6,233.2 45.9,233.5 46.1,233.6 46.3,233.1 46.6,232.1 46.8,230.7 47.0,228.7 47.3,226.8 47.5,226.4 47.7,228.0 48.0,230.5 48.2,232.3 48.4,233.1 48.7,233.7 48.9,234.1 49.1,234.5 49.4,234.9 49.6,234.8 49.9,234.8 50.1,234.9 50.3,235.0 50.6,234.9 50.8,234.7 51.0,234.2 51.3,233.3 51.5,232.5 51.7,231.3 52.0,229.4 52.2,226.8 52.4,225.2 52.7,225.9 52.9,227.9 53.1,230.0 53.4,232.1 53.6,233.3 53.9,233.7 54.1,234.4 54.3,234.9 54.6,235.1 54.8,235.4 55.0,235.7 55.3,235.7 55.5,235.9 55.7,236.0 56.0,235.8 56.2,235.8 56.4,235.9 56.7,236.0 56.9,236.0 57.1,235.7 57.4,236.0 57.6,236.1 57.8,235.8 58.1,236.1 58.3,236.3 58.6,236.4 58.8,236.5 59.0,236.3 59.3,236.2 59.5,236.3 59.7,236.5 60.0,236.5 60.2,236.6 60.4,236.5 60.7,236.6 60.9,236.6 61.1,236.6 61.4,237.0 61.6,237.3 61.8,237.5 62.1,237.1 62.3,237.0 62.5,237.5 62.8,237.5 63.0,237.3 63.3,237.2 63.5,237.7 63.7,237.4 64.0,237.3 64.2,237.7 64.4,237.6 64.7,237.5 64.9,237.5 65.1,237.4 65.4,237.4 65.6,237.6 65.8,237.8 66.1,237.9 66.3,237.8 66.5,237.7 66.8,238.0 67.0,238.2 67.3,237.9 67.5,237.9 67.7,238.1 68.0,238.1 68.2,238.2 68.4,238.4 68.7,238.4 68.9,238.0 69.1,237.8 69.4,238.2 69.6,238.4 69.8,238.5 70.1,238.6 70.3,238.3 70.5,238.5 70.8,238.5 71.0,238.1 71.2,238.5 71.5,238.5 71.7,238.4 72.0,238.8 72.2,238.7 72.4,238.4 72.7,238.5 72.9,238.5 73.1,238.2 73.4,238.4 73.6,238.7 73.8,238.8 74.1,238.8 74.3,238.6 74.5,238.4 74.8,238.3 75.0,238.2 75.2,238.3 75.5,238.2 75.7,238.0 76.0,237.6 76.2,237.0 76.4,236.5 76.7,235.9 76.9,235.5 77.1,235.7 77.4,236.4 77.6,237.0 77.8,237.2 78.1,237.5 78.3,237.8 78.5,238.3 78.8,238.3 79.0,238.3 79.2,238.6 79.5,238.6 79.7,238.4 79.9,238.6 80.2,238.7 80.4,238.6 80.7,238.8 80.9,238.9 81.1,238.6 81.4,238.3 81.6,238.4 81.8,238.4 82.1,238.0 82.3,238.2 82.5,238.4 82.8,238.2 83.0,238.0 83.2,238.0 83.5,238.0 83.7,237.6 83.9,237.4 84.2,237.3 84.4,237.3 84.7,237.1 84.9,237.1 85.1,236.9 85.4,236.8 85.6,236.5 85.8,236.0 86.1,235.8 86.3,235.7 86.5,235.6 86.8,235.2 87.0,234.4 87.2,233.9 87.5,233.9 87.7,233.3 87.9,232.4 88.2,231.8 88.4,231.2 88.6,230.5 88.9,229.8 89.1,229.1 89.4,228.3 89.6,227.1 89.8,226.2 90.1,225.6 90.3,224.7 90.5,223.8 90.8,223.0 91.0,222.8 91.2,222.9 91.5,222.5 91.7,222.6 91.9,223.4 92.2,224.3 92.4,225.1 92.6,225.9 92.9,226.6 93.1,227.2 93.4,228.4 93.6,229.5 93.8,230.2 94.1,231.1 94.3,231.7 94.5,232.1 94.8,233.0 95.0,233.9 95.2,234.3 95.5,234.7 95.7,235.0 95.9,235.2 96.2,235.6 96.4,235.7 96.6,236.0 96.9,236.7 97.1,236.9 97.3,236.9 97.6,237.4 97.8,237.4 98.1,237.1 98.3,237.3 98.5,237.5 98.8,238.0 99.0,238.3 99.2,238.1 99.5,238.0 99.7,238.7 99.9,238.7 100.2,238.2 100.4,238.4 100.6,238.7 100.9,238.7 101.1,238.5 101.3,238.3 101.6,238.5 101.8,238.7 102.1,238.3 102.3,238.4 102.5,238.7 102.8,238.4 103.0,238.1 103.2,238.0 103.5,237.8 103.7,237.4 103.9,237.3 104.2,237.2 104.4,237.2 104.6,237.2 104.9,237.3 105.1,237.7 105.3,238.2 105.6,238.2 105.8,237.9 106.0,238.2 106.3,238.3 106.5,238.5 106.8,238.8 107.0,239.1 107.2,239.3 107.5,239.1 107.7,239.3 107.9,239.7 108.2,239.3 108.4,238.7 108.6,238.7 108.9,239.0 109.1,238.7 109.3,238.7 109.6,238.9 109.8,238.8 110.0,238.9 110.3,239.1 110.5,238.8 110.8,238.7 111.0,238.6 111.2,238.3 111.5,238.3 111.7,238.4 111.9,238.2 112.2,237.6 112.4,237.7 112.6,237.6 112.9,237.3 113.1,237.5 113.3,237.2 113.6,236.5 113.8,235.9 114.0,235.9 114.3,235.6 114.5,235.1 114.7,234.7 115.0,234.2 115.2,233.7 115.5,233.4 115.7,232.8 115.9,232.7 116.2,233.0 116.4,233.1 116.6,233.0 116.9,232.8 117.1,232.4 117.3,232.0 117.6,231.3 117.8,230.5 118.0,229.6 118.3,228.9 118.5,228.2 118.7,227.1 119.0,226.2 119.2,225.1 119.4,223.7 119.7,222.6 119.9,221.5 120.2,220.8 120.4,220.6 120.6,220.2 120.9,220.6 121.1,221.2 121.3,221.8 121.6,222.6 121.8,223.4 122.0,224.4 122.3,224.8 122.5,224.9 122.7,225.5 123.0,226.2 123.2,226.4 123.4,226.3 123.7,226.5 123.9,226.1 124.2,225.8 124.4,225.8 124.6,225.8 124.9,225.6 125.1,225.2 125.3,225.0 125.6,224.8 125.8,224.7 126.0,224.8 126.3,224.8 126.5,224.9 126.7,225.4 127.0,225.8 127.2,226.1 127.4,226.6 127.7,226.8 127.9,227.3 128.1,227.9 128.4,228.3 128.6,228.5 128.9,228.7 129.1,229.1 129.3,229.5 129.6,229.1 129.8,228.5 130.0,228.0 130.3,227.1 130.5,226.0 130.7,224.6 131.0,222.9 131.2,222.1 131.4,222.9 131.7,224.4 131.9,226.4 132.1,228.2 132.4,230.0 132.6,231.7 132.9,232.3 133.1,232.8 133.3,233.9 133.6,234.4 133.8,234.7 134.0,234.8 134.3,235.0 134.5,235.4 134.7,235.8 135.0,235.8 135.2,235.5 135.4,235.5 135.7,235.5 135.9,235.5 136.1,235.3 136.4,234.9 136.6,234.6 136.8,234.2 137.1,233.8 137.3,233.6 137.6,232.7 137.8,231.8 138.0,231.0 138.3,230.0 138.5,229.1 138.7,227.6 139.0,226.2 139.2,224.8 139.4,223.2 139.7,222.0 139.9,221.3 140.1,221.1 140.4,221.5 140.6,222.3 140.8,223.6 141.1,225.3 141.3,226.6 141.6,227.7 141.8,229.3 142.0,230.9 142.3,231.9 142.5,232.5 142.7,233.5 143.0,234.6 143.2,234.9 143.4,235.3 143.7,236.1 143.9,236.3 144.1,236.8 144.4,237.0 144.6,237.3 144.8,237.9 145.1,238.1 145.3,238.0 145.5,237.9 145.8,238.0 146.0,238.1 146.3,238.7 146.5,239.0 146.7,238.8 147.0,238.7 147.2,238.8 147.4,239.0 147.7,239.0 147.9,239.4 148.1,239.5 148.4,239.2 148.6,239.4 148.8,239.8 149.1,240.0 149.3,239.7 149.5,239.6 149.8,239.7 150.0,239.8 150.3,239.8 150.5,239.6 150.7,239.4 151.0,239.6 151.2,239.6 151.4,239.8 151.7,240.0 151.9,239.6 152.1,239.5 152.4,239.6 152.6,239.6 152.8,239.8 153.1,239.6 153.3,239.1 153.5,239.4 153.8,239.6 154.0,239.5 154.2,239.5 154.5,239.4 154.7,239.4 155.0,239.2 155.2,239.0 155.4,238.8 155.7,238.5 155.9,238.5 156.1,238.5 156.4,237.9 156.6,237.3 156.8,237.2 157.1,237.1 157.3,236.4 157.5,235.6 157.8,235.0 158.0,234.9 158.2,234.8 158.5,234.4 158.7,234.6 159.0,234.9 159.2,235.4 159.4,235.7 159.7,236.3 159.9,236.8 160.1,237.3 160.4,237.5 160.6,237.5 160.8,238.0 161.1,238.4 161.3,238.5 161.5,238.3 161.8,238.3 162.0,238.4 162.2,238.8 162.5,239.0 162.7,238.9 162.9,238.8 163.2,238.5 163.4,238.6 163.7,238.9 163.9,238.7 164.1,238.4 164.4,238.4 164.6,238.2 164.8,238.1 165.1,237.9 165.3,237.5 165.5,237.5 165.8,237.5 166.0,237.5 166.2,237.2 166.5,236.6 166.7,236.2 166.9,235.6 167.2,235.2 167.4,235.1 167.7,234.7 167.9,234.3 168.1,234.2 168.4,233.3 168.6,232.7 168.8,232.0 169.1,231.1 169.3,230.1 169.5,229.1 169.8,228.1 170.0,227.1 170.2,226.4 170.5,225.6 170.7,225.2 170.9,224.9 171.2,224.7 171.4,224.9 171.6,225.2 171.9,225.2 172.1,225.4 172.4,226.0 172.6,225.9 172.8,225.9 173.1,225.7 173.3,225.6 173.5,225.3 173.8,224.5 174.0,223.9 174.2,222.8 174.5,221.5 174.7,219.9 174.9,218.2 175.2,216.4 175.4,214.8 175.6,213.5 175.9,212.2 176.1,211.3 176.4,210.6 176.6,210.6 176.8,211.4 177.1,212.9 177.3,214.6 177.5,216.3 177.8,218.3 178.0,220.1 178.2,221.8 178.5,223.6 178.7,224.9 178.9,226.0 179.2,227.4 179.4,228.4 179.6,229.0 179.9,229.6 180.1,230.3 180.3,230.5 180.6,230.4 180.8,230.8 181.1,231.4 181.3,231.7 181.5,231.4 181.8,231.0 182.0,230.9 182.2,230.9 182.5,230.3 182.7,229.6 182.9,229.0 183.2,228.6 183.4,228.0 183.6,227.0 183.9,225.9 184.1,224.4 184.3,223.1 184.6,221.9 184.8,220.4 185.0,219.2 185.3,217.8 185.5,216.5 185.8,216.0 186.0,215.9 186.2,215.8 186.5,215.8 186.7,216.9 186.9,218.7 187.2,220.4 187.4,221.7 187.6,223.1 187.9,224.7 188.1,226.3 188.3,227.6 188.6,228.7 188.8,229.8 189.0,230.9 189.3,231.7 189.5,232.5 189.8,233.3 190.0,233.9 190.2,234.6 190.5,235.3 190.7,235.4 190.9,235.8 191.2,236.5 191.4,236.6 191.6,237.1 191.9,237.4 192.1,237.6 192.3,237.8 192.6,237.6 192.8,238.1 193.0,238.7 193.3,238.8 193.5,238.8 193.7,238.7 194.0,238.5 194.2,238.7 194.5,239.2 194.7,239.1 194.9,238.9 195.2,238.9 195.4,239.1 195.6,239.6 195.9,239.5 196.1,239.4 196.3,239.8 196.6,239.9 196.8,239.6 197.0,239.5 197.3,239.4 197.5,239.8 197.7,240.0 198.0,240.1 198.2,240.4 198.5,240.1 198.7,240.0 198.9,240.2 199.2,240.4 199.4,240.3 199.6,240.1 199.9,240.2 200.1,240.3 200.3,239.9 200.6,240.0 200.8,240.4 201.0,240.8 201.3,240.7 201.5,240.2 201.7,240.6 202.0,240.9 202.2,240.5 202.4,240.4 202.7,240.3 202.9,240.7 203.2,240.8 203.4,240.5 203.6,240.5 203.9,240.8 204.1,240.8 204.3,240.7 204.6,240.8 204.8,240.8 205.0,240.6 205.3,240.7 205.5,241.1 205.7,241.0 206.0,240.6 206.2,240.5 206.4,240.6 206.7,240.8 206.9,240.8 207.2,240.8 207.4,240.6 207.6,240.7 207.9,241.0 208.1,240.9 208.3,240.9 208.6,241.1 208.8,241.0 209.0,240.8 209.3,240.9 209.5,241.0 209.7,240.7 210.0,240.6 210.2,240.7 210.4,240.8 210.7,240.7 210.9,240.9 211.1,241.0 211.4,241.1 211.6,241.2 211.9,241.0 212.1,240.9 212.3,240.9 212.6,241.0 212.8,241.1 213.0,240.9 213.3,241.1 213.5,241.1" fill="none" stroke="#35a2b4" stroke-width="1.05" stroke-linejoin="round" />
<text x="194.0" y="232.2" font-size="9" text-anchor="start" fill="#111"  style="stroke-width:0.1px">-1 V</text>
<polyline points="25.4,264.6 25.6,264.4 25.9,264.5 26.1,264.7 26.3,264.7 26.6,264.6 26.8,264.4 27.0,264.4 27.3,264.5 27.5,264.5 27.8,264.5 28.0,264.4 28.2,264.4 28.5,264.5 28.7,264.3 28.9,264.4 29.2,264.6 29.4,264.6 29.6,264.4 29.9,264.2 30.1,264.1 30.3,264.2 30.6,264.0 30.8,263.8 31.0,264.0 31.3,264.2 31.5,264.2 31.7,263.9 32.0,263.6 32.2,263.6 32.5,263.8 32.7,263.9 32.9,263.8 33.2,263.6 33.4,263.6 33.6,263.8 33.9,263.6 34.1,263.3 34.3,263.6 34.6,263.6 34.8,263.2 35.0,263.1 35.3,262.9 35.5,262.6 35.7,262.7 36.0,262.8 36.2,262.0 36.5,261.4 36.7,261.6 36.9,260.9 37.2,260.3 37.4,260.3 37.6,260.1 37.9,260.0 38.1,260.3 38.3,260.3 38.6,260.7 38.8,261.3 39.0,261.7 39.3,262.2 39.5,262.3 39.7,262.1 40.0,262.1 40.2,262.3 40.4,262.4 40.7,262.2 40.9,261.8 41.2,261.7 41.4,262.0 41.6,262.2 41.9,262.0 42.1,261.8 42.3,261.7 42.6,261.5 42.8,261.4 43.0,261.2 43.3,261.2 43.5,261.0 43.7,260.3 44.0,259.7 44.2,259.6 44.4,259.3 44.7,259.0 44.9,259.0 45.2,259.3 45.4,259.2 45.6,259.0 45.9,259.0 46.1,259.1 46.3,258.9 46.6,258.1 46.8,257.0 47.0,255.8 47.3,254.6 47.5,254.2 47.7,255.5 48.0,257.0 48.2,257.9 48.4,259.3 48.7,260.0 48.9,259.9 49.1,260.1 49.4,260.3 49.6,260.6 49.9,260.8 50.1,260.7 50.3,260.5 50.6,260.1 50.8,259.9 51.0,260.1 51.3,259.8 51.5,258.8 51.7,257.8 52.0,256.3 52.2,254.4 52.4,253.1 52.7,253.5 52.9,255.3 53.1,257.0 53.4,258.3 53.6,259.5 53.9,260.2 54.1,260.3 54.3,260.2 54.6,260.4 54.8,260.5 55.0,260.8 55.3,261.1 55.5,261.2 55.7,261.2 56.0,261.3 56.2,261.3 56.4,261.2 56.7,261.5 56.9,261.8 57.1,261.5 57.4,261.2 57.6,261.3 57.8,261.5 58.1,261.8 58.3,261.9 58.6,261.9 58.8,262.0 59.0,262.0 59.3,262.0 59.5,261.9 59.7,261.8 60.0,261.5 60.2,261.6 60.4,262.1 60.7,262.1 60.9,261.8 61.1,262.0 61.4,262.2 61.6,262.0 61.8,262.2 62.1,262.4 62.3,262.3 62.5,262.2 62.8,262.2 63.0,262.4 63.3,262.4 63.5,262.6 63.7,262.7 64.0,262.6 64.2,262.5 64.4,262.4 64.7,262.4 64.9,262.7 65.1,262.6 65.4,262.4 65.6,262.4 65.8,262.4 66.1,262.5 66.3,262.8 66.5,262.6 66.8,262.6 67.0,262.9 67.3,263.1 67.5,263.1 67.7,263.0 68.0,262.8 68.2,262.8 68.4,262.9 68.7,263.4 68.9,263.5 69.1,263.4 69.4,263.4 69.6,263.0 69.8,262.8 70.1,263.0 70.3,263.2 70.5,263.5 70.8,263.3 71.0,263.0 71.2,263.2 71.5,263.2 71.7,263.0 72.0,263.0 72.2,263.2 72.4,263.2 72.7,263.2 72.9,263.4 73.1,263.3 73.4,263.6 73.6,263.4 73.8,263.0 74.1,263.1 74.3,263.1 74.5,262.9 74.8,263.0 75.0,263.1 75.2,262.8 75.5,262.6 75.7,262.7 76.0,262.8 76.2,262.1 76.4,261.6 76.7,261.5 76.9,260.8 77.1,260.5 77.4,261.2 77.6,261.8 77.8,262.2 78.1,262.7 78.3,262.8 78.5,262.9 78.8,263.1 79.0,263.3 79.2,263.5 79.5,263.6 79.7,263.4 79.9,263.2 80.2,263.5 80.4,263.6 80.7,263.3 80.9,263.0 81.1,263.1 81.4,263.1 81.6,262.9 81.8,262.7 82.1,262.7 82.3,262.9 82.5,262.7 82.8,262.5 83.0,262.6 83.2,262.5 83.5,262.3 83.7,262.2 83.9,262.1 84.2,262.2 84.4,262.2 84.7,262.1 84.9,262.3 85.1,261.8 85.4,261.5 85.6,261.5 85.8,261.1 86.1,260.9 86.3,260.8 86.5,260.8 86.8,260.7 87.0,260.1 87.2,259.6 87.5,259.4 87.7,259.3 87.9,258.4 88.2,258.0 88.4,257.8 88.6,257.3 88.9,256.6 89.1,255.7 89.4,255.1 89.6,254.7 89.8,254.1 90.1,252.9 90.3,252.4 90.5,252.0 90.8,251.4 91.0,251.2 91.2,250.9 91.5,251.0 91.7,251.3 91.9,251.7 92.2,252.3 92.4,252.9 92.6,253.3 92.9,254.0 93.1,255.0 93.4,255.9 93.6,256.4 93.8,256.9 94.1,257.6 94.3,258.3 94.5,258.9 94.8,259.1 95.0,259.2 95.2,259.9 95.5,260.5 95.7,260.8 95.9,260.5 96.2,260.5 96.4,260.6 96.6,261.0 96.9,261.7 97.1,261.8 97.3,261.9 97.6,262.3 97.8,262.4 98.1,262.5 98.3,262.7 98.5,262.7 98.8,262.8 99.0,262.8 99.2,262.7 99.5,262.8 99.7,263.2 99.9,263.1 100.2,263.1 100.4,263.3 100.6,263.1 100.9,262.9 101.1,263.1 101.3,263.0 101.6,263.1 101.8,263.1 102.1,262.9 102.3,263.0 102.5,263.1 102.8,263.0 103.0,263.2 103.2,263.0 103.5,262.5 103.7,262.3 103.9,262.2 104.2,262.5 104.4,262.6 104.6,262.3 104.9,262.2 105.1,262.6 105.3,262.8 105.6,262.9 105.8,262.9 106.0,263.1 106.3,263.5 106.5,263.5 106.8,263.3 107.0,263.2 107.2,263.4 107.5,263.5 107.7,263.5 107.9,263.4 108.2,263.5 108.4,263.7 108.6,263.4 108.9,263.0 109.1,263.1 109.3,263.1 109.6,263.1 109.8,263.2 110.0,263.5 110.3,263.3 110.5,263.2 110.8,263.2 111.0,263.3 111.2,263.2 111.5,263.0 111.7,263.0 111.9,262.8 112.2,262.8 112.4,262.4 112.6,262.0 112.9,262.2 113.1,262.2 113.3,262.0 113.6,261.9 113.8,261.6 114.0,261.4 114.3,261.4 114.5,260.7 114.7,260.4 115.0,260.4 115.2,260.3 115.5,259.5 115.7,259.4 115.9,259.7 116.2,259.3 116.4,259.3 116.6,259.2 116.9,258.9 117.1,258.9 117.3,258.4 117.6,258.1 117.8,257.6 118.0,257.0 118.3,256.4 118.5,255.7 118.7,255.3 119.0,254.6 119.2,253.3 119.4,252.5 119.7,251.8 119.9,251.2 120.2,250.8 120.4,250.6 120.6,250.5 120.9,250.6 121.1,251.0 121.3,251.7 121.6,252.0 121.8,252.4 122.0,253.0 122.3,253.7 122.5,254.2 122.7,254.2 123.0,254.3 123.2,254.4 123.4,254.3 123.7,254.6 123.9,254.8 124.2,254.8 124.4,254.6 124.6,254.1 124.9,254.0 125.1,254.0 125.3,253.9 125.6,253.8 125.8,253.8 126.0,253.8 126.3,253.9 126.5,253.8 126.7,254.0 127.0,254.2 127.2,254.3 127.4,255.0 127.7,255.3 127.9,255.2 128.1,255.7 128.4,256.3 128.6,256.5 128.9,256.5 129.1,256.5 129.3,256.5 129.6,256.3 129.8,256.3 130.0,255.9 130.3,255.0 130.5,254.1 130.7,253.5 131.0,252.8 131.2,252.1 131.4,252.3 131.7,253.4 131.9,254.9 132.1,255.9 132.4,257.1 132.6,258.2 132.9,258.7 133.1,259.2 133.3,259.9 133.6,260.6 133.8,260.8 134.0,260.8 134.3,260.8 134.5,260.9 134.7,261.2 135.0,261.0 135.2,260.8 135.4,261.1 135.7,260.9 135.9,260.6 136.1,260.8 136.4,260.5 136.6,260.1 136.8,260.1 137.1,260.0 137.3,259.4 137.6,259.0 137.8,258.7 138.0,258.1 138.3,257.5 138.5,256.5 138.7,255.5 139.0,254.2 139.2,252.9 139.4,252.1 139.7,251.5 139.9,251.2 140.1,250.8 140.4,250.9 140.6,251.5 140.8,252.2 141.1,253.6 141.3,254.9 141.6,256.0 141.8,257.1 142.0,257.6 142.3,257.9 142.5,259.1 142.7,259.9 143.0,259.9 143.2,260.5 143.4,261.1 143.7,261.3 143.9,261.5 144.1,261.9 144.4,262.2 144.6,262.4 144.8,262.6 145.1,262.6 145.3,262.8 145.5,263.1 145.8,263.2 146.0,263.3 146.3,263.2 146.5,263.1 146.7,263.4 147.0,263.5 147.2,263.3 147.4,263.4 147.7,263.5 147.9,263.8 148.1,263.5 148.4,263.4 148.6,263.5 148.8,263.7 149.1,264.0 149.3,263.5 149.5,263.5 149.8,264.0 150.0,264.3 150.3,264.3 150.5,264.0 150.7,263.8 151.0,264.1 151.2,264.1 151.4,263.8 151.7,263.7 151.9,263.6 152.1,263.9 152.4,264.2 152.6,264.1 152.8,264.0 153.1,264.1 153.3,264.2 153.5,264.0 153.8,263.7 154.0,263.5 154.2,263.7 154.5,263.7 154.7,263.3 155.0,263.3 155.2,263.4 155.4,263.5 155.7,263.5 155.9,263.1 156.1,262.7 156.4,262.6 156.6,262.3 156.8,262.0 157.1,261.9 157.3,261.6 157.5,260.9 157.8,260.3 158.0,260.4 158.2,260.2 158.5,260.0 158.7,260.3 159.0,260.4 159.2,260.5 159.4,260.9 159.7,261.3 159.9,261.6 160.1,262.0 160.4,262.2 160.6,262.3 160.8,262.6 161.1,262.5 161.3,262.7 161.5,262.8 161.8,262.6 162.0,262.7 162.2,263.0 162.5,263.0 162.7,262.7 162.9,262.9 163.2,263.3 163.4,263.2 163.7,263.2 163.9,262.8 164.1,262.7 164.4,262.7 164.6,263.0 164.8,263.0 165.1,262.6 165.3,262.4 165.5,262.0 165.8,262.0 166.0,262.2 166.2,262.2 166.5,261.9 166.7,261.4 166.9,261.3 167.2,261.2 167.4,261.0 167.7,261.1 167.9,260.6 168.1,260.1 168.4,259.3 168.6,259.1 168.8,258.8 169.1,258.0 169.3,257.2 169.5,256.4 169.8,255.8 170.0,255.1 170.2,254.7 170.5,254.3 170.7,254.2 170.9,254.0 171.2,253.7 171.4,253.7 171.6,254.1 171.9,254.2 172.1,254.3 172.4,254.2 172.6,254.0 172.8,254.4 173.1,254.4 173.3,254.6 173.5,254.8 173.8,253.6 174.0,252.5 174.2,252.0 174.5,251.6 174.7,250.8 174.9,249.6 175.2,248.0 175.4,246.7 175.6,245.4 175.9,244.4 176.1,244.2 176.4,244.2 176.6,244.1 176.8,244.5 177.1,245.8 177.3,246.9 177.5,247.8 177.8,249.2 178.0,250.6 178.2,251.7 178.5,252.6 178.7,253.5 178.9,254.4 179.2,255.1 179.4,256.0 179.6,256.7 179.9,257.1 180.1,257.6 180.3,258.0 180.6,258.1 180.8,258.1 181.1,258.0 181.3,258.3 181.5,258.2 181.8,257.7 182.0,257.5 182.2,257.4 182.5,257.3 182.7,257.1 182.9,256.6 183.2,255.7 183.4,255.2 183.6,254.9 183.9,254.1 184.1,253.0 184.3,252.2 184.6,251.4 184.8,250.3 185.0,248.8 185.3,247.8 185.5,247.2 185.8,246.5 186.0,246.4 186.2,246.6 186.5,247.0 186.7,247.8 186.9,248.6 187.2,249.9 187.4,251.0 187.6,251.8 187.9,253.0 188.1,254.3 188.3,255.2 188.6,255.8 188.8,256.7 189.0,257.7 189.3,258.5 189.5,259.0 189.8,259.2 190.0,259.6 190.2,259.7 190.5,260.2 190.7,260.9 190.9,261.0 191.2,261.0 191.4,261.3 191.6,261.8 191.9,262.0 192.1,262.1 192.3,262.2 192.6,262.3 192.8,262.5 193.0,262.2 193.3,262.5 193.5,263.0 193.7,262.8 194.0,262.8 194.2,263.1 194.5,263.0 194.7,263.1 194.9,263.1 195.2,263.2 195.4,263.7 195.6,263.6 195.9,263.4 196.1,263.9 196.3,263.9 196.6,263.7 196.8,263.6 197.0,263.7 197.3,263.9 197.5,264.0 197.7,263.8 198.0,263.9 198.2,264.1 198.5,264.1 198.7,264.0 198.9,263.8 199.2,263.8 199.4,263.9 199.6,263.9 199.9,264.2 200.1,264.4 200.3,264.4 200.6,264.2 200.8,264.1 201.0,264.3 201.3,264.5 201.5,264.4 201.7,264.2 202.0,264.2 202.2,264.2 202.4,264.5 202.7,264.0 202.9,264.0 203.2,264.3 203.4,263.9 203.6,264.1 203.9,264.4 204.1,264.4 204.3,264.3 204.6,264.5 204.8,264.8 205.0,264.4 205.3,264.6 205.5,264.8 205.7,264.7 206.0,264.8 206.2,264.3 206.4,264.4 206.7,264.7 206.9,264.5 207.2,264.7 207.4,264.5 207.6,264.4 207.9,264.7 208.1,264.6 208.3,264.6 208.6,264.4 208.8,264.1 209.0,264.2 209.3,264.4 209.5,265.2 209.7,265.2 210.0,264.6 210.2,264.5 210.4,264.7 210.7,264.8 210.9,264.5 211.1,264.6 211.4,264.7 211.6,264.7 211.9,264.4 212.1,264.1 212.3,264.4 212.6,264.4 212.8,264.4 213.0,264.7 213.3,264.7 213.5,264.7" fill="none" stroke="#369bc4" stroke-width="1.05" stroke-linejoin="round" />
<text x="189.0" y="255.2" font-size="9" text-anchor="start" fill="#111"  style="stroke-width:0.1px">-0.9 V</text>
<polyline points="25.4,286.4 25.6,286.5 25.9,286.4 26.1,286.3 26.3,286.8 26.6,286.9 26.8,286.6 27.0,286.4 27.3,286.2 27.5,286.2 27.8,286.2 28.0,286.3 28.2,286.2 28.5,285.7 28.7,285.7 28.9,286.2 29.2,286.6 29.4,286.6 29.6,286.1 29.9,285.9 30.1,285.8 30.3,285.8 30.6,285.8 30.8,285.6 31.0,285.7 31.3,286.0 31.5,285.9 31.7,285.8 32.0,286.1 32.2,286.1 32.5,285.7 32.7,285.7 32.9,285.5 33.2,285.5 33.4,285.5 33.6,285.2 33.9,285.3 34.1,285.6 34.3,285.4 34.6,285.2 34.8,285.3 35.0,284.8 35.3,284.8 35.5,284.7 35.7,284.1 36.0,283.9 36.2,283.8 36.5,283.6 36.7,283.3 36.9,283.0 37.2,282.8 37.4,282.3 37.6,282.0 37.9,282.2 38.1,282.3 38.3,282.2 38.6,282.7 38.8,283.4 39.0,283.8 39.3,283.9 39.5,283.9 39.7,283.7 40.0,283.8 40.2,283.9 40.4,284.1 40.7,284.4 40.9,284.2 41.2,284.3 41.4,284.3 41.6,284.2 41.9,284.2 42.1,284.0 42.3,283.6 42.6,283.7 42.8,283.9 43.0,283.8 43.3,283.4 43.5,283.0 43.7,282.6 44.0,282.2 44.2,281.8 44.4,281.4 44.7,281.6 44.9,281.7 45.2,281.7 45.4,281.7 45.6,281.5 45.9,281.6 46.1,281.7 46.3,281.4 46.6,280.9 46.8,279.9 47.0,278.7 47.3,277.8 47.5,277.2 47.7,278.2 48.0,279.7 48.2,280.8 48.4,281.6 48.7,282.0 48.9,282.5 49.1,282.2 49.4,282.0 49.6,282.5 49.9,282.8 50.1,282.9 50.3,282.9 50.6,282.4 50.8,282.3 51.0,282.1 51.3,281.6 51.5,281.0 51.7,280.2 52.0,278.8 52.2,277.1 52.4,275.9 52.7,276.8 52.9,278.4 53.1,279.4 53.4,280.5 53.6,281.3 53.9,281.9 54.1,282.4 54.3,282.8 54.6,282.9 54.8,283.0 55.0,283.0 55.3,283.4 55.5,283.5 55.7,283.4 56.0,283.1 56.2,283.2 56.4,283.6 56.7,283.7 56.9,283.3 57.1,283.2 57.4,283.6 57.6,283.6 57.8,283.6 58.1,283.6 58.3,283.9 58.6,283.9 58.8,283.7 59.0,283.7 59.3,283.7 59.5,283.8 59.7,283.8 60.0,283.5 60.2,283.8 60.4,283.9 60.7,283.7 60.9,283.8 61.1,283.8 61.4,283.9 61.6,284.0 61.8,284.0 62.1,283.8 62.3,284.0 62.5,284.5 62.8,284.5 63.0,284.3 63.3,284.2 63.5,284.2 63.7,284.4 64.0,284.4 64.2,284.5 64.4,284.6 64.7,284.5 64.9,284.5 65.1,284.4 65.4,284.5 65.6,284.7 65.8,284.7 66.1,284.5 66.3,284.4 66.5,284.6 66.8,284.4 67.0,284.6 67.3,285.0 67.5,284.8 67.7,284.7 68.0,284.8 68.2,284.9 68.4,285.1 68.7,285.2 68.9,284.7 69.1,284.8 69.4,285.0 69.6,284.8 69.8,284.9 70.1,285.0 70.3,285.0 70.5,285.2 70.8,285.2 71.0,285.0 71.2,284.8 71.5,284.8 71.7,285.0 72.0,285.3 72.2,285.5 72.4,285.2 72.7,285.0 72.9,285.1 73.1,285.1 73.4,285.1 73.6,285.1 73.8,285.1 74.1,285.0 74.3,285.1 74.5,285.3 74.8,285.5 75.0,285.2 75.2,284.7 75.5,284.7 75.7,284.5 76.0,284.5 76.2,284.3 76.4,283.7 76.7,283.2 76.9,282.8 77.1,283.1 77.4,283.7 77.6,284.0 77.8,284.2 78.1,284.3 78.3,284.2 78.5,284.6 78.8,284.8 79.0,285.0 79.2,285.2 79.5,284.9 79.7,284.9 79.9,285.0 80.2,285.2 80.4,285.4 80.7,285.2 80.9,285.1 81.1,285.0 81.4,285.0 81.6,284.9 81.8,285.0 82.1,285.1 82.3,285.1 82.5,285.0 82.8,284.9 83.0,284.8 83.2,285.1 83.5,285.1 83.7,284.4 83.9,284.6 84.2,284.7 84.4,284.4 84.7,283.9 84.9,283.6 85.1,283.6 85.4,283.6 85.6,283.6 85.8,283.7 86.1,283.7 86.3,283.2 86.5,282.9 86.8,282.9 87.0,282.8 87.2,282.3 87.5,281.7 87.7,281.5 87.9,281.5 88.2,280.8 88.4,280.5 88.6,280.3 88.9,279.5 89.1,278.4 89.4,277.8 89.6,277.4 89.8,277.0 90.1,276.2 90.3,276.0 90.5,276.2 90.8,275.3 91.0,274.5 91.2,274.5 91.5,274.8 91.7,275.2 91.9,275.6 92.2,275.8 92.4,275.8 92.6,276.5 92.9,277.5 93.1,277.9 93.4,278.4 93.6,279.1 93.8,279.6 94.1,279.9 94.3,280.4 94.5,280.8 94.8,281.4 95.0,281.8 95.2,282.0 95.5,282.4 95.7,282.6 95.9,283.0 96.2,283.2 96.4,283.3 96.6,283.2 96.9,283.5 97.1,283.8 97.3,283.8 97.6,283.9 97.8,284.0 98.1,284.2 98.3,284.5 98.5,284.6 98.8,285.1 99.0,285.2 99.2,284.9 99.5,285.0 99.7,285.0 99.9,284.9 100.2,285.1 100.4,285.4 100.6,284.8 100.9,284.7 101.1,285.1 101.3,285.0 101.6,285.2 101.8,285.2 102.1,285.2 102.3,285.1 102.5,284.9 102.8,285.0 103.0,284.9 103.2,284.6 103.5,284.5 103.7,284.2 103.9,284.4 104.2,284.5 104.4,284.2 104.6,284.0 104.9,284.7 105.1,284.9 105.3,284.5 105.6,284.8 105.8,284.9 106.0,284.9 106.3,285.2 106.5,285.5 106.8,285.4 107.0,285.5 107.2,285.6 107.5,285.4 107.7,285.4 107.9,285.4 108.2,285.5 108.4,285.6 108.6,285.4 108.9,285.4 109.1,285.4 109.3,285.3 109.6,285.3 109.8,285.5 110.0,285.6 110.3,285.6 110.5,285.7 110.8,285.5 111.0,285.1 111.2,285.0 111.5,285.0 111.7,285.2 111.9,285.4 112.2,284.9 112.4,284.7 112.6,285.0 112.9,285.1 113.1,284.8 113.3,284.3 113.6,283.8 113.8,283.5 114.0,283.3 114.3,283.0 114.5,282.8 114.7,282.4 115.0,282.3 115.2,282.4 115.5,282.4 115.7,282.2 115.9,282.2 116.2,282.4 116.4,281.9 116.6,281.6 116.9,281.5 117.1,281.2 117.3,281.1 117.6,280.9 117.8,280.7 118.0,280.5 118.3,279.9 118.5,278.9 118.7,278.2 119.0,277.6 119.2,277.0 119.4,276.2 119.7,275.5 119.9,275.1 120.2,274.7 120.4,274.8 120.6,274.8 120.9,274.7 121.1,274.5 121.3,274.7 121.6,275.3 121.8,275.8 122.0,276.0 122.3,276.6 122.5,277.0 122.7,277.5 123.0,278.1 123.2,278.1 123.4,278.0 123.7,277.8 123.9,277.7 124.2,277.8 124.4,277.5 124.6,277.2 124.9,277.4 125.1,277.3 125.3,276.8 125.6,276.9 125.8,277.1 126.0,277.1 126.3,277.1 126.5,277.0 126.7,277.2 127.0,277.6 127.2,277.5 127.4,277.9 127.7,278.4 127.9,278.5 128.1,278.6 128.4,278.5 128.6,278.9 128.9,279.1 129.1,279.4 129.3,279.3 129.6,279.0 129.8,278.9 130.0,278.5 130.3,278.1 130.5,277.1 130.7,276.5 131.0,275.7 131.2,275.2 131.4,275.3 131.7,276.1 131.9,277.5 132.1,278.8 132.4,279.8 132.6,280.5 132.9,280.7 133.1,281.3 133.3,282.0 133.6,282.4 133.8,282.9 134.0,283.5 134.3,283.6 134.5,283.5 134.7,283.6 135.0,283.6 135.2,283.6 135.4,283.5 135.7,283.3 135.9,283.3 136.1,283.5 136.4,283.4 136.6,283.2 136.8,282.7 137.1,282.2 137.3,282.2 137.6,281.8 137.8,281.1 138.0,280.2 138.3,279.5 138.5,279.0 138.7,278.9 139.0,278.1 139.2,276.7 139.4,275.9 139.7,275.4 139.9,274.9 140.1,274.8 140.4,274.7 140.6,275.2 140.8,276.2 141.1,277.2 141.3,278.2 141.6,278.9 141.8,279.7 142.0,280.6 142.3,281.2 142.5,282.0 142.7,282.4 143.0,282.7 143.2,283.2 143.4,283.6 143.7,283.9 143.9,284.3 144.1,284.5 144.4,284.4 144.6,284.9 144.8,285.1 145.1,284.9 145.3,284.9 145.5,284.6 145.8,284.7 146.0,285.1 146.3,285.4 146.5,285.5 146.7,285.6 147.0,285.8 147.2,285.9 147.4,285.8 147.7,285.7 147.9,285.7 148.1,285.6 148.4,285.9 148.6,285.8 148.8,285.6 149.1,285.9 149.3,285.6 149.5,285.7 149.8,286.0 150.0,285.9 150.3,285.9 150.5,285.7 150.7,285.7 151.0,286.0 151.2,286.1 151.4,286.2 151.7,285.8 151.9,285.9 152.1,286.2 152.4,286.2 152.6,286.1 152.8,285.9 153.1,285.9 153.3,285.9 153.5,286.2 153.8,286.2 154.0,285.6 154.2,285.6 154.5,285.9 154.7,285.8 155.0,285.2 155.2,285.4 155.4,285.7 155.7,285.3 155.9,285.3 156.1,285.1 156.4,284.6 156.6,284.7 156.8,284.6 157.1,284.2 157.3,284.0 157.5,283.7 157.8,283.4 158.0,282.6 158.2,282.5 158.5,282.7 158.7,282.8 159.0,283.1 159.2,283.4 159.4,283.7 159.7,283.5 159.9,283.8 160.1,284.4 160.4,284.6 160.6,284.6 160.8,285.0 161.1,285.2 161.3,285.2 161.5,285.3 161.8,285.0 162.0,284.9 162.2,285.1 162.5,285.3 162.7,285.2 162.9,284.9 163.2,284.9 163.4,285.0 163.7,285.0 163.9,285.0 164.1,285.3 164.4,285.4 164.6,284.9 164.8,284.8 165.1,285.1 165.3,285.1 165.5,284.8 165.8,284.4 166.0,284.0 166.2,284.1 166.5,284.2 166.7,283.8 166.9,283.4 167.2,283.5 167.4,283.1 167.7,282.6 167.9,282.6 168.1,282.7 168.4,282.4 168.6,282.0 168.8,281.8 169.1,281.3 169.3,280.5 169.5,280.2 169.8,280.0 170.0,279.3 170.2,278.4 170.5,278.0 170.7,277.5 170.9,277.2 171.2,277.1 171.4,277.1 171.6,277.7 171.9,277.9 172.1,278.2 172.4,278.3 172.6,278.2 172.8,278.1 173.1,278.1 173.3,278.0 173.5,277.9 173.8,277.8 174.0,277.2 174.2,276.2 174.5,275.5 174.7,275.1 174.9,274.2 175.2,273.1 175.4,272.2 175.6,271.4 175.9,270.1 176.1,269.6 176.4,269.9 176.6,269.8 176.8,270.0 177.1,270.7 177.3,271.8 177.5,272.5 177.8,273.6 178.0,274.9 178.2,275.9 178.5,276.9 178.7,277.4 178.9,278.0 179.2,278.8 179.4,279.3 179.6,279.7 179.9,279.9 180.1,279.9 180.3,280.2 180.6,280.3 180.8,280.4 181.1,280.7 181.3,280.6 181.5,280.3 181.8,280.5 182.0,280.5 182.2,280.2 182.5,279.8 182.7,279.3 182.9,279.0 183.2,278.9 183.4,278.5 183.6,277.4 183.9,276.6 184.1,276.2 184.3,275.3 184.6,274.1 184.8,273.0 185.0,272.5 185.3,271.5 185.5,270.5 185.8,270.0 186.0,269.6 186.2,269.7 186.5,270.4 186.7,271.3 186.9,271.8 187.2,272.6 187.4,273.6 187.6,274.5 187.9,275.7 188.1,277.2 188.3,278.3 188.6,278.8 188.8,279.5 189.0,280.4 189.3,280.7 189.5,281.1 189.8,281.5 190.0,282.0 190.2,282.7 190.5,282.9 190.7,282.7 190.9,283.3 191.2,283.7 191.4,283.5 191.6,283.5 191.9,283.9 192.1,284.1 192.3,284.4 192.6,284.8 192.8,284.8 193.0,284.8 193.3,284.9 193.5,285.1 193.7,285.5 194.0,285.4 194.2,285.1 194.5,285.6 194.7,285.9 194.9,285.5 195.2,285.2 195.4,285.3 195.6,285.8 195.9,285.8 196.1,285.6 196.3,285.7 196.6,285.9 196.8,286.2 197.0,285.9 197.3,285.7 197.5,285.9 197.7,285.9 198.0,285.7 198.2,286.0 198.5,286.2 198.7,286.2 198.9,286.5 199.2,286.3 199.4,286.2 199.6,286.2 199.9,286.1 200.1,286.3 200.3,286.3 200.6,286.0 200.8,286.3 201.0,286.5 201.3,286.2 201.5,285.8 201.7,286.0 202.0,286.4 202.2,286.6 202.4,286.7 202.7,286.5 202.9,286.4 203.2,286.3 203.4,286.2 203.6,286.6 203.9,286.5 204.1,286.3 204.3,286.4 204.6,286.5 204.8,286.7 205.0,286.5 205.3,286.5 205.5,286.5 205.7,286.2 206.0,286.3 206.2,286.4 206.4,286.4 206.7,286.5 206.9,286.6 207.2,286.9 207.4,286.9 207.6,286.6 207.9,286.6 208.1,286.7 208.3,286.6 208.6,286.4 208.8,286.3 209.0,286.5 209.3,286.7 209.5,286.8 209.7,286.6 210.0,286.7 210.2,286.6 210.4,286.6 210.7,286.8 210.9,287.0 211.1,287.0 211.4,286.7 211.6,286.6 211.9,286.5 212.1,286.6 212.3,286.7 212.6,286.4 212.8,286.3 213.0,286.6 213.3,286.3 213.5,286.1" fill="none" stroke="#3794d0" stroke-width="1.05" stroke-linejoin="round" />
<text x="189.0" y="277.2" font-size="9" text-anchor="start" fill="#111"  style="stroke-width:0.1px">-0.8 V</text>
<polyline points="25.4,312.4 25.6,312.4 25.9,312.2 26.1,311.9 26.3,312.1 26.6,312.5 26.8,312.3 27.0,312.0 27.3,312.0 27.5,312.3 27.8,312.1 28.0,311.9 28.2,311.8 28.5,311.9 28.7,311.9 28.9,311.8 29.2,311.5 29.4,311.3 29.6,311.6 29.9,312.1 30.1,312.0 30.3,312.0 30.6,311.7 30.8,311.5 31.0,311.6 31.3,311.5 31.5,311.7 31.7,311.4 32.0,311.0 32.2,311.1 32.5,311.1 32.7,311.2 32.9,310.9 33.2,310.9 33.4,311.3 33.6,311.1 33.9,311.1 34.1,311.3 34.3,311.0 34.6,310.6 34.8,310.5 35.0,310.3 35.3,310.0 35.5,309.5 35.7,309.4 36.0,309.1 36.2,308.8 36.5,308.5 36.7,307.8 36.9,307.2 37.2,306.8 37.4,306.3 37.6,306.4 37.9,306.5 38.1,306.7 38.3,306.8 38.6,307.3 38.8,307.8 39.0,308.0 39.3,308.7 39.5,309.2 39.7,309.1 40.0,308.7 40.2,308.9 40.4,309.1 40.7,309.1 40.9,309.0 41.2,309.1 41.4,309.4 41.6,309.0 41.9,308.6 42.1,308.6 42.3,308.6 42.6,308.3 42.8,308.0 43.0,308.0 43.3,307.5 43.5,307.2 43.7,306.6 44.0,305.7 44.2,305.3 44.4,305.1 44.7,304.9 44.9,304.6 45.2,304.9 45.4,305.2 45.6,305.2 45.9,305.3 46.1,305.3 46.3,305.4 46.6,304.3 46.8,302.6 47.0,301.0 47.3,299.2 47.5,299.2 47.7,300.8 48.0,302.6 48.2,304.1 48.4,304.9 48.7,305.8 48.9,306.4 49.1,306.5 49.4,306.9 49.6,306.9 49.9,306.7 50.1,307.0 50.3,307.0 50.6,306.8 50.8,306.4 51.0,306.1 51.3,305.5 51.5,304.7 51.7,303.7 52.0,301.7 52.2,299.6 52.4,298.1 52.7,298.3 52.9,300.5 53.1,302.8 53.4,304.3 53.6,305.4 53.9,306.1 54.1,306.5 54.3,306.5 54.6,306.7 54.8,307.2 55.0,307.3 55.3,307.0 55.5,307.2 55.7,307.6 56.0,308.0 56.2,307.9 56.4,308.0 56.7,308.2 56.9,308.3 57.1,308.5 57.4,308.2 57.6,308.2 57.8,308.3 58.1,308.4 58.3,308.4 58.6,308.4 58.8,308.5 59.0,308.6 59.3,308.6 59.5,308.7 59.7,308.6 60.0,308.7 60.2,308.9 60.4,309.0 60.7,309.0 60.9,308.8 61.1,308.8 61.4,308.9 61.6,308.7 61.8,308.5 62.1,309.0 62.3,309.2 62.5,308.6 62.8,308.7 63.0,309.2 63.3,309.0 63.5,309.4 63.7,309.8 64.0,309.6 64.2,309.4 64.4,309.4 64.7,309.6 64.9,309.7 65.1,309.5 65.4,309.5 65.6,309.6 65.8,309.7 66.1,309.5 66.3,309.6 66.5,309.8 66.8,309.8 67.0,309.9 67.3,309.6 67.5,309.8 67.7,310.1 68.0,309.8 68.2,309.8 68.4,309.9 68.7,309.8 68.9,310.1 69.1,310.3 69.4,310.5 69.6,310.5 69.8,310.0 70.1,310.0 70.3,309.9 70.5,310.1 70.8,310.6 71.0,310.4 71.2,310.4 71.5,310.2 71.7,310.2 72.0,310.2 72.2,310.2 72.4,310.3 72.7,310.3 72.9,310.5 73.1,310.5 73.4,310.4 73.6,310.4 73.8,310.1 74.1,310.2 74.3,310.4 74.5,310.3 74.8,310.2 75.0,310.1 75.2,310.0 75.5,309.9 75.7,309.7 76.0,309.6 76.2,309.0 76.4,308.2 76.7,307.7 76.9,307.2 77.1,307.1 77.4,307.7 77.6,308.6 77.8,309.1 78.1,309.2 78.3,309.6 78.5,310.2 78.8,310.2 79.0,310.0 79.2,309.9 79.5,310.4 79.7,310.8 79.9,310.6 80.2,310.2 80.4,310.3 80.7,310.5 80.9,310.5 81.1,310.4 81.4,310.2 81.6,310.2 81.8,310.2 82.1,310.1 82.3,310.1 82.5,310.0 82.8,309.7 83.0,309.8 83.2,309.8 83.5,309.3 83.7,309.2 83.9,309.4 84.2,309.3 84.4,309.5 84.7,309.2 84.9,308.8 85.1,308.4 85.4,308.0 85.6,308.0 85.8,307.9 86.1,307.7 86.3,307.6 86.5,307.4 86.8,307.1 87.0,306.6 87.2,306.1 87.5,305.6 87.7,305.0 87.9,304.7 88.2,303.9 88.4,302.7 88.6,302.0 88.9,302.1 89.1,301.4 89.4,300.1 89.6,299.3 89.8,298.8 90.1,298.0 90.3,297.1 90.5,296.2 90.8,295.6 91.0,295.3 91.2,295.3 91.5,295.7 91.7,296.1 91.9,296.2 92.2,296.5 92.4,297.1 92.6,298.1 92.9,299.2 93.1,300.1 93.4,300.9 93.6,301.4 93.8,301.8 94.1,302.9 94.3,303.8 94.5,304.5 94.8,304.9 95.0,305.0 95.2,305.6 95.5,306.3 95.7,306.9 95.9,307.2 96.2,307.5 96.4,307.7 96.6,307.8 96.9,308.1 97.1,308.3 97.3,308.6 97.6,308.9 97.8,309.7 98.1,309.6 98.3,309.2 98.5,309.7 98.8,309.8 99.0,310.0 99.2,310.0 99.5,310.0 99.7,310.1 99.9,310.1 100.2,310.3 100.4,310.3 100.6,310.2 100.9,310.0 101.1,309.9 101.3,310.3 101.6,310.4 101.8,310.4 102.1,310.2 102.3,310.1 102.5,310.4 102.8,309.9 103.0,309.7 103.2,310.2 103.5,309.8 103.7,309.5 103.9,309.5 104.2,309.4 104.4,309.3 104.6,309.1 104.9,309.2 105.1,309.4 105.3,309.6 105.6,309.7 105.8,310.2 106.0,310.4 106.3,310.2 106.5,310.2 106.8,310.6 107.0,310.5 107.2,310.5 107.5,311.0 107.7,311.2 107.9,311.0 108.2,310.7 108.4,310.8 108.6,311.0 108.9,311.1 109.1,311.1 109.3,310.8 109.6,310.6 109.8,310.6 110.0,310.8 110.3,311.0 110.5,310.9 110.8,310.9 111.0,311.0 111.2,310.7 111.5,310.2 111.7,310.2 111.9,310.2 112.2,310.1 112.4,310.1 112.6,310.2 112.9,310.1 113.1,309.9 113.3,309.4 113.6,309.2 113.8,308.9 114.0,308.5 114.3,308.2 114.5,308.0 114.7,307.4 115.0,307.0 115.2,307.3 115.5,307.0 115.7,306.8 115.9,306.8 116.2,306.9 116.4,307.0 116.6,306.7 116.9,306.5 117.1,306.1 117.3,305.6 117.6,305.4 117.8,304.6 118.0,304.0 118.3,303.4 118.5,302.8 118.7,302.0 119.0,300.7 119.2,299.8 119.4,299.2 119.7,298.6 119.9,298.0 120.2,297.4 120.4,297.1 120.6,297.1 120.9,297.1 121.1,297.7 121.3,298.2 121.6,298.3 121.8,299.0 122.0,299.9 122.3,300.2 122.5,300.8 122.7,301.1 123.0,301.3 123.2,301.6 123.4,302.0 123.7,301.7 123.9,301.3 124.2,301.5 124.4,301.5 124.6,301.3 124.9,300.8 125.1,300.9 125.3,300.8 125.6,300.5 125.8,300.5 126.0,300.4 126.3,300.3 126.5,300.2 126.7,300.6 127.0,300.9 127.2,301.4 127.4,301.8 127.7,302.0 127.9,302.3 128.1,302.7 128.4,302.9 128.6,303.0 128.9,303.0 129.1,303.0 129.3,303.3 129.6,303.4 129.8,302.6 130.0,302.1 130.3,301.6 130.5,300.5 130.7,299.4 131.0,298.5 131.2,298.0 131.4,298.6 131.7,299.7 131.9,301.2 132.1,302.8 132.4,303.9 132.6,305.1 132.9,306.1 133.1,306.5 133.3,306.9 133.6,307.4 133.8,307.5 134.0,307.8 134.3,308.2 134.5,308.1 134.7,308.0 135.0,308.4 135.2,308.4 135.4,308.5 135.7,308.5 135.9,308.1 136.1,307.8 136.4,307.5 136.6,307.6 136.8,307.4 137.1,307.2 137.3,306.7 137.6,306.5 137.8,306.1 138.0,305.0 138.3,304.2 138.5,302.9 138.7,301.8 139.0,301.4 139.2,300.3 139.4,299.1 139.7,298.2 139.9,297.7 140.1,297.7 140.4,297.9 140.6,298.6 140.8,299.7 141.1,300.8 141.3,301.4 141.6,302.5 141.8,303.8 142.0,304.5 142.3,305.1 142.5,305.9 142.7,306.8 143.0,307.4 143.2,307.8 143.4,308.3 143.7,308.8 143.9,309.0 144.1,309.3 144.4,309.5 144.6,309.4 144.8,309.7 145.1,310.3 145.3,310.8 145.5,310.5 145.8,310.1 146.0,310.4 146.3,310.6 146.5,310.7 146.7,310.8 147.0,311.1 147.2,311.1 147.4,311.0 147.7,311.4 147.9,311.6 148.1,311.1 148.4,311.3 148.6,311.5 148.8,311.3 149.1,311.3 149.3,311.3 149.5,311.2 149.8,311.4 150.0,311.4 150.3,311.2 150.5,311.2 150.7,311.4 151.0,311.2 151.2,311.3 151.4,311.5 151.7,311.5 151.9,311.8 152.1,311.7 152.4,311.6 152.6,311.5 152.8,311.3 153.1,311.0 153.3,311.1 153.5,311.3 153.8,310.9 154.0,311.0 154.2,311.5 154.5,311.5 154.7,311.4 155.0,311.2 155.2,310.8 155.4,310.7 155.7,310.7 155.9,310.4 156.1,310.4 156.4,310.4 156.6,309.9 156.8,309.6 157.1,309.3 157.3,309.0 157.5,308.8 157.8,308.2 158.0,307.4 158.2,307.5 158.5,307.9 158.7,307.7 159.0,307.5 159.2,307.7 159.4,308.3 159.7,308.9 159.9,309.2 160.1,309.6 160.4,309.8 160.6,309.8 160.8,309.9 161.1,310.3 161.3,310.8 161.5,310.8 161.8,310.6 162.0,310.7 162.2,310.9 162.5,310.8 162.7,310.8 162.9,310.7 163.2,310.5 163.4,310.3 163.7,310.3 163.9,310.4 164.1,310.3 164.4,310.3 164.6,310.5 164.8,310.4 165.1,310.0 165.3,309.8 165.5,309.9 165.8,310.1 166.0,310.0 166.2,309.6 166.5,309.2 166.7,309.0 166.9,309.1 167.2,308.7 167.4,308.3 167.7,308.0 167.9,307.7 168.1,307.6 168.4,307.1 168.6,306.5 168.8,306.0 169.1,305.2 169.3,304.5 169.5,303.9 169.8,303.3 170.0,302.8 170.2,302.3 170.5,302.0 170.7,301.7 170.9,301.4 171.2,301.1 171.4,301.1 171.6,301.0 171.9,301.4 172.1,301.7 172.4,301.6 172.6,302.1 172.8,302.0 173.1,301.5 173.3,301.5 173.5,301.2 173.8,300.8 174.0,300.3 174.2,299.7 174.5,298.8 174.7,297.8 174.9,296.7 175.2,295.5 175.4,294.5 175.6,293.1 175.9,291.9 176.1,291.5 176.4,291.0 176.6,290.6 176.8,291.4 177.1,292.6 177.3,293.8 177.5,295.2 177.8,296.3 178.0,297.5 178.2,298.7 178.5,299.7 178.7,300.6 178.9,301.7 179.2,302.5 179.4,303.1 179.6,303.6 179.9,303.9 180.1,304.1 180.3,304.6 180.6,304.8 180.8,304.8 181.1,304.8 181.3,304.7 181.5,305.0 181.8,304.7 182.0,304.2 182.2,304.0 182.5,303.9 182.7,303.4 182.9,302.8 183.2,302.4 183.4,301.7 183.6,300.7 183.9,299.9 184.1,299.0 184.3,297.6 184.6,296.5 184.8,295.3 185.0,294.1 185.3,293.0 185.5,291.9 185.8,291.6 186.0,291.3 186.2,291.3 186.5,291.7 186.7,292.6 186.9,293.6 187.2,294.8 187.4,296.1 187.6,297.7 187.9,298.9 188.1,299.9 188.3,301.1 188.6,302.0 188.8,303.3 189.0,303.9 189.3,304.7 189.5,305.4 189.8,305.6 190.0,306.4 190.2,306.8 190.5,307.3 190.7,307.9 190.9,307.7 191.2,307.7 191.4,308.3 191.6,308.8 191.9,309.0 192.1,309.1 192.3,309.5 192.6,309.6 192.8,309.7 193.0,309.8 193.3,310.1 193.5,310.6 193.7,310.4 194.0,309.9 194.2,310.0 194.5,310.5 194.7,310.8 194.9,310.9 195.2,310.8 195.4,310.6 195.6,310.9 195.9,311.2 196.1,311.2 196.3,311.0 196.6,311.1 196.8,311.3 197.0,311.4 197.3,311.4 197.5,311.3 197.7,311.3 198.0,311.1 198.2,311.2 198.5,311.8 198.7,311.8 198.9,311.5 199.2,311.2 199.4,311.6 199.6,311.8 199.9,311.6 200.1,311.7 200.3,311.7 200.6,311.7 200.8,312.0 201.0,311.9 201.3,312.0 201.5,312.2 201.7,311.9 202.0,312.0 202.2,312.1 202.4,312.2 202.7,312.1 202.9,311.9 203.2,312.1 203.4,312.2 203.6,311.8 203.9,312.0 204.1,312.2 204.3,312.1 204.6,312.0 204.8,312.1 205.0,312.4 205.3,312.3 205.5,311.8 205.7,311.8 206.0,312.0 206.2,312.1 206.4,311.9 206.7,312.1 206.9,312.3 207.2,312.2 207.4,312.1 207.6,312.0 207.9,311.9 208.1,312.0 208.3,311.9 208.6,312.0 208.8,312.2 209.0,312.0 209.3,312.1 209.5,312.2 209.7,312.0 210.0,311.9 210.2,311.9 210.4,312.2 210.7,312.1 210.9,311.9 211.1,312.3 211.4,312.1 211.6,311.9 211.9,311.9 212.1,311.8 212.3,312.1 212.6,312.3 212.8,312.0 213.0,311.9 213.3,312.1 213.5,312.1" fill="none" stroke="#388dda" stroke-width="1.05" stroke-linejoin="round" />
<text x="189.0" y="300.2" font-size="9" text-anchor="start" fill="#111"  style="stroke-width:0.1px">-0.7 V</text>
<polyline points="25.4,329.6 25.6,329.7 25.9,329.7 26.1,329.5 26.3,329.7 26.6,329.6 26.8,329.6 27.0,329.6 27.3,329.9 27.5,329.9 27.8,329.6 28.0,329.6 28.2,329.3 28.5,329.4 28.7,329.5 28.9,329.4 29.2,329.4 29.4,329.6 29.6,329.9 29.9,330.0 30.1,329.7 30.3,329.6 30.6,329.9 30.8,329.5 31.0,329.1 31.3,329.2 31.5,329.5 31.7,329.5 32.0,329.1 32.2,329.3 32.5,329.3 32.7,329.0 32.9,329.1 33.2,329.1 33.4,328.6 33.6,328.3 33.9,328.7 34.1,328.7 34.3,328.7 34.6,328.8 34.8,328.5 35.0,328.5 35.3,328.1 35.5,327.8 35.7,327.7 36.0,327.6 36.2,327.8 36.5,327.4 36.7,326.9 36.9,326.3 37.2,325.9 37.4,325.9 37.6,325.8 37.9,326.0 38.1,326.5 38.3,326.7 38.6,326.8 38.8,326.8 39.0,327.1 39.3,327.5 39.5,327.2 39.7,327.4 40.0,327.6 40.2,327.8 40.4,328.0 40.7,327.8 40.9,328.0 41.2,328.0 41.4,327.6 41.6,327.6 41.9,327.6 42.1,327.4 42.3,327.4 42.6,327.5 42.8,327.2 43.0,326.7 43.3,326.8 43.5,326.9 43.7,326.6 44.0,326.2 44.2,326.0 44.4,325.6 44.7,325.4 44.9,325.3 45.2,325.0 45.4,325.2 45.6,325.4 45.9,325.5 46.1,325.7 46.3,325.4 46.6,324.8 46.8,324.2 47.0,323.2 47.3,321.9 47.5,321.3 47.7,322.5 48.0,323.7 48.2,324.1 48.4,324.7 48.7,325.6 48.9,326.0 49.1,326.0 49.4,326.3 49.6,326.6 49.9,326.4 50.1,326.2 50.3,326.4 50.6,326.5 50.8,326.3 51.0,325.9 51.3,325.5 51.5,325.1 51.7,324.4 52.0,323.0 52.2,321.6 52.4,320.5 52.7,320.8 52.9,322.1 53.1,323.4 53.4,324.7 53.6,325.8 53.9,326.1 54.1,326.1 54.3,326.3 54.6,326.6 54.8,326.7 55.0,326.9 55.3,327.2 55.5,327.2 55.7,327.0 56.0,327.0 56.2,327.0 56.4,326.7 56.7,327.0 56.9,327.6 57.1,327.6 57.4,327.3 57.6,326.7 57.8,326.6 58.1,327.2 58.3,327.3 58.6,327.5 58.8,327.4 59.0,327.3 59.3,327.5 59.5,327.5 59.7,327.3 60.0,327.2 60.2,327.5 60.4,327.5 60.7,327.3 60.9,327.3 61.1,327.4 61.4,327.5 61.6,327.8 61.8,327.8 62.1,327.8 62.3,327.7 62.5,327.7 62.8,327.5 63.0,327.5 63.3,327.9 63.5,327.9 63.7,327.9 64.0,327.8 64.2,327.7 64.4,327.9 64.7,328.0 64.9,328.1 65.1,328.4 65.4,327.9 65.6,327.4 65.8,327.8 66.1,328.0 66.3,328.0 66.5,327.9 66.8,327.8 67.0,327.7 67.3,327.9 67.5,328.3 67.7,328.4 68.0,328.6 68.2,328.9 68.4,328.4 68.7,328.4 68.9,328.6 69.1,328.3 69.4,328.0 69.6,328.4 69.8,328.5 70.1,328.4 70.3,328.7 70.5,328.3 70.8,328.3 71.0,328.7 71.2,328.8 71.5,328.7 71.7,328.6 72.0,328.7 72.2,328.6 72.4,328.8 72.7,328.9 72.9,328.9 73.1,328.8 73.4,328.8 73.6,328.6 73.8,328.3 74.1,328.6 74.3,328.6 74.5,328.4 74.8,328.4 75.0,328.2 75.2,328.2 75.5,328.4 75.7,328.2 76.0,327.8 76.2,327.8 76.4,327.7 76.7,326.9 76.9,326.4 77.1,326.4 77.4,326.5 77.6,326.9 77.8,327.4 78.1,327.9 78.3,328.3 78.5,328.4 78.8,328.5 79.0,328.7 79.2,328.4 79.5,328.2 79.7,328.4 79.9,328.7 80.2,328.8 80.4,328.5 80.7,328.0 80.9,328.5 81.1,328.7 81.4,328.6 81.6,328.6 81.8,328.2 82.1,328.4 82.3,328.6 82.5,328.6 82.8,328.6 83.0,328.1 83.2,328.0 83.5,328.2 83.7,328.1 83.9,327.9 84.2,328.1 84.4,327.8 84.7,327.5 84.9,327.6 85.1,327.7 85.4,327.5 85.6,327.1 85.8,327.1 86.1,326.9 86.3,326.7 86.5,326.7 86.8,326.3 87.0,326.2 87.2,326.1 87.5,325.5 87.7,325.1 87.9,324.9 88.2,324.4 88.4,324.1 88.6,323.8 88.9,323.3 89.1,322.6 89.4,321.9 89.6,321.4 89.8,321.1 90.1,320.5 90.3,319.9 90.5,319.8 90.8,319.7 91.0,319.4 91.2,319.4 91.5,319.6 91.7,319.6 91.9,319.8 92.2,320.0 92.4,320.3 92.6,320.8 92.9,321.4 93.1,322.0 93.4,322.7 93.6,323.5 93.8,323.9 94.1,324.2 94.3,324.4 94.5,324.4 94.8,324.8 95.0,325.5 95.2,326.0 95.5,326.6 95.7,326.7 95.9,326.8 96.2,327.1 96.4,327.1 96.6,327.3 96.9,327.5 97.1,327.7 97.3,327.6 97.6,327.2 97.8,327.5 98.1,328.1 98.3,328.3 98.5,328.1 98.8,328.1 99.0,328.2 99.2,328.3 99.5,328.3 99.7,328.1 99.9,328.4 100.2,328.4 100.4,328.1 100.6,328.4 100.9,328.7 101.1,328.2 101.3,328.4 101.6,328.5 101.8,328.3 102.1,328.4 102.3,328.8 102.5,328.7 102.8,328.5 103.0,328.4 103.2,328.3 103.5,328.0 103.7,327.8 103.9,327.8 104.2,327.6 104.4,327.7 104.6,328.1 104.9,328.2 105.1,328.1 105.3,328.2 105.6,328.2 105.8,328.3 106.0,328.6 106.3,328.7 106.5,328.6 106.8,328.7 107.0,328.7 107.2,328.7 107.5,328.9 107.7,328.7 107.9,328.8 108.2,329.1 108.4,329.0 108.6,328.8 108.9,328.7 109.1,328.7 109.3,328.9 109.6,329.0 109.8,329.1 110.0,329.0 110.3,328.5 110.5,328.3 110.8,328.5 111.0,328.7 111.2,328.5 111.5,328.3 111.7,328.5 111.9,328.4 112.2,328.3 112.4,328.6 112.6,328.6 112.9,328.4 113.1,328.3 113.3,327.8 113.6,327.7 113.8,327.5 114.0,327.2 114.3,326.7 114.5,326.6 114.7,326.6 115.0,326.5 115.2,326.4 115.5,326.1 115.7,325.9 115.9,325.9 116.2,326.0 116.4,325.8 116.6,326.0 116.9,326.0 117.1,325.7 117.3,325.7 117.6,325.3 117.8,324.9 118.0,324.5 118.3,324.1 118.5,323.6 118.7,323.0 119.0,322.4 119.2,321.6 119.4,321.0 119.7,320.4 119.9,320.1 120.2,320.0 120.4,319.7 120.6,319.3 120.9,319.4 121.1,319.8 121.3,320.4 121.6,320.7 121.8,321.0 122.0,321.0 122.3,321.3 122.5,322.0 122.7,322.2 123.0,322.0 123.2,322.3 123.4,322.6 123.7,322.8 123.9,322.7 124.2,322.4 124.4,322.3 124.6,322.2 124.9,321.9 125.1,321.9 125.3,322.2 125.6,321.9 125.8,321.6 126.0,321.7 126.3,321.8 126.5,321.8 126.7,321.8 127.0,322.0 127.2,322.1 127.4,322.2 127.7,322.4 127.9,322.6 128.1,322.7 128.4,322.7 128.6,323.1 128.9,323.4 129.1,323.3 129.3,322.6 129.6,322.2 129.8,322.4 130.0,322.3 130.3,321.6 130.5,320.3 130.7,318.9 131.0,317.9 131.2,317.7 131.4,318.2 131.7,318.8 131.9,320.3 132.1,321.9 132.4,322.6 132.6,323.4 132.9,324.6 133.1,325.4 133.3,325.5 133.6,325.8 133.8,326.4 134.0,326.6 134.3,326.5 134.5,326.6 134.7,326.9 135.0,327.1 135.2,326.9 135.4,327.2 135.7,327.3 135.9,326.7 136.1,326.6 136.4,326.3 136.6,326.1 136.8,326.3 137.1,326.5 137.3,326.3 137.6,325.7 137.8,325.4 138.0,324.9 138.3,324.2 138.5,323.8 138.7,323.3 139.0,322.7 139.2,322.0 139.4,321.0 139.7,320.2 139.9,319.9 140.1,319.8 140.4,320.1 140.6,320.5 140.8,321.0 141.1,321.9 141.3,323.0 141.6,323.5 141.8,323.9 142.0,324.4 142.3,325.0 142.5,325.5 142.7,325.9 143.0,326.4 143.2,326.9 143.4,327.2 143.7,327.3 143.9,327.5 144.1,328.1 144.4,328.2 144.6,328.0 144.8,328.5 145.1,328.7 145.3,328.4 145.5,328.5 145.8,328.6 146.0,328.5 146.3,328.8 146.5,328.8 146.7,328.5 147.0,328.7 147.2,329.1 147.4,328.9 147.7,328.7 147.9,329.1 148.1,329.2 148.4,329.2 148.6,329.2 148.8,329.0 149.1,329.0 149.3,329.0 149.5,329.2 149.8,328.8 150.0,328.5 150.3,328.9 150.5,329.3 150.7,329.2 151.0,329.1 151.2,329.1 151.4,328.9 151.7,329.1 151.9,329.2 152.1,329.1 152.4,329.0 152.6,329.0 152.8,329.2 153.1,329.2 153.3,329.1 153.5,329.1 153.8,329.2 154.0,329.3 154.2,329.4 154.5,329.5 154.7,329.2 155.0,328.8 155.2,328.8 155.4,328.8 155.7,328.9 155.9,328.7 156.1,328.3 156.4,328.6 156.6,328.5 156.8,328.1 157.1,328.0 157.3,327.6 157.5,327.3 157.8,327.0 158.0,326.6 158.2,326.8 158.5,326.8 158.7,326.6 159.0,326.6 159.2,327.0 159.4,327.3 159.7,327.3 159.9,327.6 160.1,327.7 160.4,327.8 160.6,328.0 160.8,328.3 161.1,328.4 161.3,328.4 161.5,328.4 161.8,328.5 162.0,328.7 162.2,328.6 162.5,328.6 162.7,328.7 162.9,328.9 163.2,329.0 163.4,328.9 163.7,329.0 163.9,328.8 164.1,328.8 164.4,328.9 164.6,328.6 164.8,328.6 165.1,328.5 165.3,328.6 165.5,328.7 165.8,328.2 166.0,327.9 166.2,328.0 166.5,328.0 166.7,328.0 166.9,328.1 167.2,328.1 167.4,327.9 167.7,327.4 167.9,327.3 168.1,327.4 168.4,326.8 168.6,326.2 168.8,326.2 169.1,325.9 169.3,325.7 169.5,325.6 169.8,325.1 170.0,324.5 170.2,323.9 170.5,323.7 170.7,323.7 170.9,323.6 171.2,323.3 171.4,323.3 171.6,323.6 171.9,324.0 172.1,324.0 172.4,324.0 172.6,324.2 172.8,324.2 173.1,324.3 173.3,324.1 173.5,323.8 173.8,323.5 174.0,323.4 174.2,323.3 174.5,322.8 174.7,322.2 174.9,321.5 175.2,320.6 175.4,320.1 175.6,319.9 175.9,318.9 176.1,318.6 176.4,318.7 176.6,318.6 176.8,318.9 177.1,319.2 177.3,320.0 177.5,320.7 177.8,321.5 178.0,322.2 178.2,322.6 178.5,323.1 178.7,323.4 178.9,323.9 179.2,324.4 179.4,325.0 179.6,325.2 179.9,324.9 180.1,325.0 180.3,325.1 180.6,325.4 180.8,325.6 181.1,325.4 181.3,325.3 181.5,325.5 181.8,325.5 182.0,325.2 182.2,325.0 182.5,324.9 182.7,324.5 182.9,324.1 183.2,324.1 183.4,323.4 183.6,322.8 183.9,322.4 184.1,321.7 184.3,321.0 184.6,320.3 184.8,319.4 185.0,318.6 185.3,318.0 185.5,317.5 185.8,316.8 186.0,316.6 186.2,317.1 186.5,317.4 186.7,317.8 186.9,318.0 187.2,318.8 187.4,320.0 187.6,321.0 187.9,321.5 188.1,322.0 188.3,322.8 188.6,323.4 188.8,323.8 189.0,324.3 189.3,324.9 189.5,325.3 189.8,326.0 190.0,326.3 190.2,326.3 190.5,326.8 190.7,327.0 190.9,327.2 191.2,327.6 191.4,327.5 191.6,327.4 191.9,327.7 192.1,327.9 192.3,328.0 192.6,328.0 192.8,328.2 193.0,328.3 193.3,328.2 193.5,328.4 193.7,328.3 194.0,328.4 194.2,328.6 194.5,328.5 194.7,328.3 194.9,328.7 195.2,329.0 195.4,328.8 195.6,328.8 195.9,329.1 196.1,329.2 196.3,328.7 196.6,328.8 196.8,329.0 197.0,329.0 197.3,329.2 197.5,329.3 197.7,329.4 198.0,329.2 198.2,329.4 198.5,329.8 198.7,329.6 198.9,329.3 199.2,329.5 199.4,329.4 199.6,329.2 199.9,329.0 200.1,329.4 200.3,329.6 200.6,329.3 200.8,329.6 201.0,329.8 201.3,329.7 201.5,329.4 201.7,329.3 202.0,329.6 202.2,329.3 202.4,328.9 202.7,329.1 202.9,329.5 203.2,329.6 203.4,329.6 203.6,329.6 203.9,329.5 204.1,329.7 204.3,330.2 204.6,330.1 204.8,329.8 205.0,329.6 205.3,329.7 205.5,329.8 205.7,329.6 206.0,329.5 206.2,329.3 206.4,329.3 206.7,329.3 206.9,329.2 207.2,329.6 207.4,329.9 207.6,329.8 207.9,329.8 208.1,329.4 208.3,329.4 208.6,329.4 208.8,329.3 209.0,329.4 209.3,329.6 209.5,329.6 209.7,329.6 210.0,329.6 210.2,329.5 210.4,329.8 210.7,330.1 210.9,330.1 211.1,329.7 211.4,329.6 211.6,329.8 211.9,329.9 212.1,329.9 212.3,330.0 212.6,329.8 212.8,329.6 213.0,329.3 213.3,329.5 213.5,329.9" fill="none" stroke="#3988e4" stroke-width="1.05" stroke-linejoin="round" />
<text x="189.0" y="324.8" font-size="9" text-anchor="start" fill="#111"  style="stroke-width:0.1px">-0.6 V</text>
<polyline points="25.4,344.4 25.6,344.4 25.9,344.4 26.1,344.3 26.3,344.6 26.6,344.6 26.8,344.7 27.0,344.8 27.3,344.3 27.5,344.3 27.8,344.8 28.0,344.7 28.2,344.4 28.5,344.1 28.7,344.1 28.9,344.2 29.2,344.1 29.4,344.4 29.6,344.4 29.9,344.3 30.1,344.3 30.3,344.1 30.6,344.2 30.8,344.4 31.0,344.3 31.3,344.1 31.5,343.9 31.7,343.7 32.0,343.8 32.2,344.0 32.5,344.0 32.7,344.1 32.9,344.2 33.2,343.9 33.4,343.7 33.6,343.9 33.9,343.7 34.1,343.3 34.3,343.2 34.6,343.4 34.8,343.6 35.0,343.5 35.3,343.0 35.5,343.2 35.7,343.2 36.0,342.8 36.2,342.7 36.5,342.6 36.7,342.2 36.9,341.8 37.2,341.4 37.4,341.4 37.6,341.4 37.9,341.4 38.1,341.3 38.3,341.4 38.6,341.9 38.8,342.1 39.0,342.0 39.3,342.2 39.5,342.8 39.7,343.0 40.0,342.7 40.2,342.6 40.4,342.5 40.7,342.7 40.9,342.8 41.2,342.7 41.4,342.9 41.6,343.0 41.9,343.0 42.1,342.5 42.3,342.3 42.6,342.6 42.8,342.4 43.0,342.3 43.3,342.3 43.5,342.0 43.7,341.7 44.0,341.1 44.2,340.7 44.4,340.8 44.7,340.8 44.9,340.3 45.2,340.6 45.4,340.7 45.6,340.6 45.9,340.9 46.1,340.9 46.3,340.7 46.6,340.2 46.8,339.1 47.0,338.2 47.3,337.7 47.5,337.5 47.7,338.3 48.0,339.5 48.2,340.3 48.4,341.0 48.7,341.7 48.9,341.8 49.1,341.5 49.4,341.4 49.6,341.6 49.9,341.5 50.1,341.7 50.3,342.1 50.6,341.6 50.8,341.5 51.0,341.2 51.3,340.6 51.5,340.4 51.7,339.7 52.0,338.7 52.2,337.7 52.4,337.1 52.7,337.4 52.9,338.5 53.1,339.7 53.4,340.2 53.6,340.5 53.9,340.7 54.1,341.1 54.3,341.2 54.6,341.2 54.8,341.4 55.0,341.5 55.3,342.0 55.5,342.0 55.7,341.9 56.0,342.0 56.2,342.2 56.4,342.0 56.7,342.0 56.9,342.3 57.1,342.1 57.4,342.0 57.6,342.4 57.8,342.7 58.1,342.6 58.3,342.4 58.6,342.3 58.8,342.2 59.0,342.0 59.3,342.2 59.5,342.4 59.7,342.3 60.0,342.2 60.2,342.4 60.4,342.6 60.7,342.3 60.9,342.7 61.1,342.7 61.4,342.4 61.6,342.6 61.8,342.7 62.1,342.9 62.3,342.9 62.5,342.9 62.8,342.7 63.0,342.9 63.3,343.1 63.5,342.8 63.7,342.8 64.0,342.8 64.2,342.9 64.4,343.3 64.7,343.4 64.9,343.3 65.1,343.2 65.4,343.2 65.6,343.1 65.8,343.2 66.1,343.4 66.3,342.9 66.5,343.0 66.8,343.1 67.0,343.1 67.3,343.3 67.5,343.3 67.7,343.2 68.0,343.5 68.2,343.2 68.4,342.8 68.7,343.0 68.9,343.2 69.1,343.6 69.4,343.8 69.6,343.6 69.8,343.4 70.1,343.1 70.3,342.9 70.5,343.1 70.8,343.4 71.0,343.4 71.2,343.4 71.5,343.6 71.7,343.4 72.0,343.3 72.2,343.3 72.4,343.5 72.7,343.4 72.9,343.3 73.1,343.7 73.4,343.3 73.6,343.1 73.8,343.6 74.1,343.5 74.3,343.2 74.5,343.3 74.8,343.6 75.0,343.7 75.2,343.3 75.5,342.9 75.7,342.7 76.0,342.8 76.2,342.5 76.4,342.1 76.7,342.1 76.9,341.8 77.1,341.7 77.4,342.1 77.6,342.6 77.8,342.7 78.1,342.8 78.3,343.2 78.5,343.3 78.8,343.1 79.0,343.2 79.2,343.3 79.5,343.3 79.7,343.3 79.9,343.6 80.2,343.7 80.4,343.8 80.7,343.7 80.9,343.3 81.1,343.6 81.4,343.5 81.6,343.4 81.8,343.6 82.1,343.4 82.3,343.1 82.5,343.1 82.8,343.3 83.0,343.4 83.2,343.4 83.5,343.2 83.7,342.9 83.9,342.7 84.2,342.7 84.4,342.7 84.7,342.6 84.9,342.5 85.1,342.3 85.4,342.3 85.6,342.5 85.8,342.3 86.1,342.0 86.3,342.0 86.5,342.1 86.8,341.8 87.0,341.3 87.2,340.9 87.5,340.4 87.7,340.4 87.9,340.6 88.2,340.6 88.4,340.1 88.6,339.4 88.9,339.0 89.1,338.4 89.4,337.9 89.6,337.5 89.8,337.1 90.1,337.1 90.3,337.0 90.5,336.5 90.8,335.9 91.0,335.5 91.2,335.2 91.5,335.7 91.7,336.1 91.9,336.3 92.2,336.5 92.4,337.0 92.6,337.3 92.9,337.4 93.1,338.3 93.4,338.7 93.6,338.8 93.8,339.2 94.1,339.8 94.3,340.2 94.5,340.2 94.8,340.5 95.0,341.0 95.2,341.1 95.5,341.0 95.7,341.3 95.9,341.7 96.2,342.0 96.4,342.1 96.6,342.1 96.9,342.4 97.1,342.6 97.3,342.8 97.6,342.9 97.8,342.6 98.1,342.6 98.3,343.0 98.5,343.0 98.8,343.2 99.0,343.2 99.2,343.4 99.5,343.4 99.7,343.5 99.9,343.4 100.2,342.9 100.4,342.9 100.6,343.7 100.9,343.8 101.1,343.4 101.3,343.5 101.6,343.4 101.8,343.4 102.1,343.5 102.3,343.7 102.5,343.9 102.8,343.5 103.0,343.4 103.2,343.4 103.5,343.0 103.7,343.0 103.9,343.0 104.2,342.9 104.4,343.0 104.6,343.0 104.9,343.3 105.1,343.4 105.3,343.2 105.6,343.1 105.8,343.4 106.0,343.5 106.3,343.4 106.5,343.5 106.8,343.5 107.0,343.7 107.2,343.7 107.5,343.7 107.7,343.6 107.9,343.4 108.2,343.6 108.4,344.0 108.6,343.8 108.9,343.8 109.1,343.9 109.3,343.6 109.6,343.7 109.8,343.6 110.0,343.4 110.3,343.8 110.5,343.6 110.8,343.7 111.0,343.8 111.2,343.7 111.5,343.7 111.7,343.6 111.9,343.6 112.2,343.8 112.4,343.8 112.6,343.5 112.9,343.5 113.1,343.2 113.3,343.0 113.6,342.9 113.8,342.9 114.0,342.9 114.3,342.6 114.5,342.3 114.7,342.1 115.0,341.8 115.2,341.6 115.5,341.4 115.7,341.2 115.9,341.5 116.2,341.3 116.4,341.1 116.6,341.4 116.9,341.6 117.1,341.5 117.3,341.4 117.6,341.1 117.8,340.8 118.0,340.4 118.3,340.2 118.5,339.5 118.7,338.9 119.0,338.8 119.2,338.5 119.4,337.9 119.7,337.3 119.9,337.1 120.2,336.8 120.4,336.4 120.6,336.6 120.9,336.8 121.1,336.8 121.3,336.9 121.6,336.7 121.8,337.4 122.0,338.3 122.3,338.1 122.5,338.0 122.7,338.6 123.0,338.9 123.2,338.9 123.4,338.9 123.7,338.7 123.9,338.9 124.2,339.1 124.4,338.9 124.6,338.4 124.9,338.5 125.1,338.7 125.3,338.4 125.6,338.7 125.8,338.7 126.0,338.4 126.3,338.4 126.5,338.5 126.7,338.4 127.0,338.4 127.2,338.3 127.4,338.2 127.7,338.7 127.9,339.3 128.1,339.2 128.4,339.3 128.6,339.6 128.9,339.7 129.1,339.6 129.3,339.7 129.6,339.7 129.8,338.9 130.0,338.4 130.3,337.5 130.5,336.8 130.7,336.1 131.0,335.3 131.2,335.0 131.4,334.7 131.7,335.2 131.9,336.6 132.1,337.9 132.4,339.0 132.6,339.8 132.9,340.3 133.1,340.9 133.3,341.5 133.6,341.8 133.8,341.8 134.0,341.8 134.3,342.0 134.5,342.3 134.7,342.3 135.0,342.4 135.2,342.3 135.4,342.1 135.7,342.3 135.9,342.3 136.1,342.4 136.4,342.4 136.6,342.0 136.8,341.7 137.1,341.6 137.3,341.4 137.6,341.1 137.8,340.8 138.0,340.6 138.3,340.4 138.5,339.9 138.7,339.4 139.0,338.5 139.2,337.8 139.4,337.6 139.7,337.3 139.9,337.1 140.1,337.0 140.4,337.2 140.6,337.2 140.8,337.3 141.1,338.3 141.3,339.3 141.6,339.6 141.8,340.1 142.0,340.8 142.3,340.9 142.5,341.0 142.7,341.6 143.0,342.0 143.2,342.5 143.4,342.8 143.7,342.9 143.9,342.8 144.1,342.7 144.4,342.8 144.6,343.3 144.8,343.8 145.1,343.5 145.3,343.3 145.5,343.1 145.8,343.4 146.0,343.6 146.3,343.6 146.5,344.1 146.7,343.8 147.0,343.5 147.2,343.8 147.4,344.2 147.7,344.0 147.9,343.7 148.1,343.8 148.4,344.2 148.6,344.0 148.8,343.7 149.1,344.1 149.3,344.2 149.5,343.9 149.8,343.9 150.0,344.1 150.3,344.3 150.5,344.3 150.7,344.1 151.0,343.8 151.2,343.9 151.4,344.2 151.7,344.2 151.9,344.1 152.1,344.1 152.4,344.2 152.6,344.2 152.8,343.8 153.1,344.0 153.3,344.1 153.5,343.9 153.8,344.0 154.0,344.0 154.2,343.9 154.5,343.8 154.7,343.9 155.0,343.9 155.2,343.8 155.4,343.8 155.7,343.4 155.9,343.5 156.1,343.6 156.4,343.6 156.6,343.3 156.8,342.9 157.1,342.9 157.3,342.9 157.5,342.6 157.8,342.3 158.0,342.0 158.2,342.0 158.5,342.1 158.7,342.2 159.0,342.3 159.2,342.1 159.4,342.4 159.7,342.8 159.9,342.9 160.1,342.6 160.4,342.6 160.6,343.2 160.8,343.3 161.1,343.4 161.3,343.7 161.5,343.7 161.8,343.5 162.0,343.6 162.2,343.8 162.5,343.7 162.7,343.4 162.9,343.2 163.2,343.6 163.4,343.7 163.7,343.3 163.9,343.3 164.1,343.6 164.4,343.7 164.6,343.7 164.8,343.6 165.1,343.4 165.3,343.1 165.5,343.0 165.8,343.4 166.0,343.2 166.2,343.1 166.5,343.0 166.7,342.6 166.9,342.7 167.2,342.7 167.4,342.5 167.7,342.3 167.9,342.2 168.1,342.3 168.4,341.9 168.6,341.6 168.8,341.6 169.1,341.4 169.3,340.7 169.5,340.4 169.8,340.3 170.0,339.8 170.2,339.7 170.5,339.3 170.7,339.1 170.9,339.0 171.2,339.1 171.4,339.4 171.6,339.4 171.9,339.5 172.1,339.6 172.4,339.7 172.6,339.6 172.8,339.4 173.1,339.6 173.3,339.5 173.5,339.4 173.8,339.3 174.0,339.0 174.2,338.6 174.5,338.2 174.7,337.6 174.9,337.0 175.2,336.7 175.4,336.3 175.6,335.8 175.9,335.2 176.1,334.7 176.4,335.0 176.6,335.2 176.8,334.9 177.1,335.2 177.3,336.0 177.5,336.4 177.8,336.9 178.0,337.4 178.2,337.9 178.5,338.4 178.7,338.8 178.9,339.2 179.2,339.6 179.4,340.0 179.6,340.5 179.9,340.6 180.1,340.5 180.3,340.8 180.6,340.9 180.8,341.1 181.1,340.8 181.3,340.1 181.5,340.3 181.8,340.6 182.0,340.8 182.2,340.5 182.5,340.2 182.7,340.0 182.9,339.8 183.2,339.8 183.4,339.0 183.6,338.6 183.9,338.6 184.1,337.7 184.3,337.0 184.6,336.4 184.8,335.8 185.0,335.2 185.3,334.7 185.5,334.0 185.8,333.6 186.0,333.5 186.2,333.4 186.5,333.9 186.7,334.3 186.9,334.7 187.2,335.5 187.4,336.2 187.6,336.6 187.9,337.4 188.1,338.2 188.3,339.1 188.6,339.4 188.8,339.7 189.0,340.2 189.3,340.4 189.5,341.1 189.8,341.4 190.0,341.6 190.2,341.8 190.5,341.8 190.7,341.9 190.9,342.2 191.2,342.3 191.4,342.8 191.6,343.1 191.9,342.6 192.1,343.0 192.3,343.4 192.6,343.3 192.8,343.6 193.0,343.4 193.3,343.3 193.5,343.4 193.7,343.4 194.0,343.4 194.2,343.5 194.5,343.8 194.7,344.0 194.9,343.9 195.2,344.0 195.4,343.6 195.6,343.5 195.9,343.9 196.1,344.0 196.3,344.2 196.6,344.2 196.8,344.2 197.0,344.1 197.3,344.1 197.5,344.1 197.7,344.0 198.0,344.1 198.2,344.2 198.5,344.0 198.7,344.1 198.9,344.2 199.2,344.1 199.4,343.7 199.6,343.7 199.9,343.9 200.1,344.0 200.3,344.2 200.6,344.0 200.8,344.1 201.0,344.0 201.3,344.0 201.5,344.0 201.7,344.0 202.0,344.3 202.2,344.6 202.4,344.7 202.7,344.4 202.9,344.1 203.2,344.2 203.4,344.6 203.6,344.4 203.9,344.4 204.1,344.5 204.3,343.9 204.6,343.9 204.8,344.6 205.0,344.7 205.3,344.6 205.5,344.5 205.7,344.1 206.0,343.7 206.2,343.8 206.4,344.1 206.7,344.1 206.9,344.1 207.2,344.3 207.4,344.7 207.6,344.3 207.9,343.9 208.1,344.2 208.3,344.3 208.6,344.0 208.8,344.5 209.0,344.9 209.3,344.5 209.5,344.1 209.7,344.1 210.0,344.2 210.2,344.3 210.4,344.5 210.7,344.4 210.9,344.5 211.1,344.4 211.4,344.3 211.6,344.1 211.9,344.1 212.1,344.5 212.3,344.7 212.6,344.8 212.8,344.1 213.0,344.3 213.3,344.5 213.5,344.1" fill="none" stroke="#3a84ec" stroke-width="1.05" stroke-linejoin="round" />
<text x="192.0" y="340.8" font-size="9" text-anchor="start" fill="#111"  style="stroke-width:0.1px">OCP</text>
<line x1="33.1" y1="203.8" x2="33.1" y2="218.5" stroke="#777" stroke-width="1"/>
<text x="35.6" y="214.8" font-size="9.6" text-anchor="start" fill="#111" >100</text>
<rect x="25.5" y="201.7" width="188.1" height="150.5" fill="none" stroke="#333" stroke-width="1.0"/>
<line x1="25.50" y1="352.2" x2="25.50" y2="354.9" stroke="#333" stroke-width="1"/>
<text x="25.50" y="365" font-size="10" text-anchor="middle" fill="#111" >600</text>
<line x1="41.17" y1="352.2" x2="41.17" y2="353.7" stroke="#333" stroke-width="1"/>
<line x1="56.85" y1="352.2" x2="56.85" y2="354.9" stroke="#333" stroke-width="1"/>
<text x="56.85" y="365" font-size="10" text-anchor="middle" fill="#111" >800</text>
<line x1="72.53" y1="352.2" x2="72.53" y2="353.7" stroke="#333" stroke-width="1"/>
<line x1="88.20" y1="352.2" x2="88.20" y2="354.9" stroke="#333" stroke-width="1"/>
<text x="88.20" y="365" font-size="10" text-anchor="middle" fill="#111" >1000</text>
<line x1="103.88" y1="352.2" x2="103.88" y2="353.7" stroke="#333" stroke-width="1"/>
<line x1="119.55" y1="352.2" x2="119.55" y2="354.9" stroke="#333" stroke-width="1"/>
<text x="119.55" y="365" font-size="10" text-anchor="middle" fill="#111" >1200</text>
<line x1="135.23" y1="352.2" x2="135.23" y2="353.7" stroke="#333" stroke-width="1"/>
<line x1="150.90" y1="352.2" x2="150.90" y2="354.9" stroke="#333" stroke-width="1"/>
<text x="150.90" y="365" font-size="10" text-anchor="middle" fill="#111" >1400</text>
<line x1="166.57" y1="352.2" x2="166.57" y2="353.7" stroke="#333" stroke-width="1"/>
<line x1="182.25" y1="352.2" x2="182.25" y2="354.9" stroke="#333" stroke-width="1"/>
<text x="182.25" y="365" font-size="10" text-anchor="middle" fill="#111" >1600</text>
<line x1="197.92" y1="352.2" x2="197.92" y2="353.7" stroke="#333" stroke-width="1"/>
<line x1="213.60" y1="352.2" x2="213.60" y2="354.9" stroke="#333" stroke-width="1"/>
<text x="213.60" y="365" font-size="10" text-anchor="middle" fill="#111" >1800</text>
<text x="119.3" y="377.3" font-size="11.8" text-anchor="middle" fill="#111" >Raman shift (cm<tspan font-size="8" dy="-4.6">-1</tspan><tspan dy="4.6">)</tspan></text>
<text transform="translate(15.3,272.7) rotate(-90)" font-size="11.9" text-anchor="middle" fill="#111">Intensity (a.u.)</text>
<text x="237.5" y="206.2" font-size="22" text-anchor="start" fill="#111" >e</text>
<polyline points="260.6,214.4 261.1,214.4 261.6,214.4 262.1,214.5 262.6,214.4 263.1,214.3 263.6,214.3 264.1,214.3 264.6,214.2 265.1,214.2 265.6,214.2 266.1,214.2 266.6,214.2 267.1,214.2 267.6,214.3 268.1,214.4 268.6,214.3 269.1,214.4 269.6,214.4 270.1,214.3 270.6,214.1 271.1,214.2 271.6,214.2 272.1,214.3 272.6,214.3 273.1,214.3 273.6,214.4 274.1,214.3 274.6,214.3 275.1,214.3 275.6,214.3 276.1,214.3 276.6,214.3 277.1,214.3 277.6,214.3 278.1,214.4 278.6,214.4 279.1,214.5 279.6,214.4 280.1,214.4 280.6,214.3 281.1,214.4 281.6,214.3 282.1,214.4 282.6,214.5 283.1,214.5 283.6,214.4 284.1,214.4 284.6,214.4 285.1,214.4 285.6,214.3 286.1,214.3 286.6,214.3 287.1,214.2 287.6,214.2 288.1,214.4 288.6,214.5 289.1,214.5 289.6,214.4 290.1,214.5 290.6,214.4 291.1,214.3 291.6,214.3 292.1,214.3 292.6,214.3 293.1,214.3 293.6,214.2 294.1,214.3 294.6,214.2 295.1,214.2 295.6,214.3 296.1,214.4 296.6,214.3 297.1,214.3 297.6,214.3 298.1,214.2 298.6,214.2 299.1,214.2 299.6,214.4 300.1,214.4 300.6,214.4 301.1,214.5 301.6,214.5 302.1,214.5 302.6,214.4 303.1,214.4 303.6,214.3 304.1,214.2 304.6,214.2 305.1,214.2 305.6,214.3 306.1,214.3 306.6,214.3 307.1,214.2 307.6,214.2 308.1,214.2 308.6,214.3 309.1,214.3 309.6,214.3 310.1,214.4 310.6,214.3 311.1,214.3 311.6,214.3 312.1,214.3 312.6,214.3 313.1,214.5 313.6,214.4 314.1,214.4 314.6,214.4 315.1,214.4 315.6,214.3 316.1,214.3 316.6,214.2 317.1,214.1 317.6,214.2 318.1,214.2 318.6,214.2 319.1,214.3 319.6,214.4 320.1,214.4 320.6,214.3 321.1,214.3 321.6,214.2 322.1,214.1 322.6,214.1 323.1,214.0 323.6,214.0 324.1,214.1 324.6,214.1 325.1,214.1 325.6,214.2 326.1,214.2 326.6,214.2 327.1,214.3 327.6,214.5 328.1,214.5 328.6,214.6 329.1,214.6 329.6,214.6 330.1,214.6 330.6,214.6 331.1,214.6 331.6,214.4 332.1,214.4 332.6,214.3 333.1,214.2 333.6,214.2 334.1,214.2 334.6,214.3 335.1,214.3 335.6,214.2 336.1,214.3 336.6,214.4 337.1,214.3 337.6,214.4 338.1,214.5 338.6,214.4 339.1,214.4 339.6,214.3 340.1,214.2 340.6,214.2 341.1,214.3 341.6,214.3 342.1,214.3 342.6,214.3 343.1,214.3 343.6,214.3 344.1,214.3 344.6,214.3 345.1,214.2 345.6,214.3 346.1,214.3 346.6,214.4 347.1,214.4 347.6,214.4 348.1,214.2 348.6,214.3 349.1,214.2 349.6,214.2 350.1,214.2 350.6,214.3 351.1,214.3 351.6,214.2 352.1,214.2 352.6,214.2 353.1,214.2 353.6,214.2 354.1,214.2 354.6,214.2 355.1,214.3 355.6,214.3 356.1,214.4 356.6,214.4 357.1,214.4 357.6,214.4 358.1,214.3 358.6,214.3 359.1,214.4 359.6,214.4 360.1,214.3 360.6,214.3 361.1,214.2 361.6,214.2 362.1,214.1 362.6,214.2 363.1,214.3 363.6,214.3 364.1,214.4 364.6,214.4 365.1,214.3 365.6,214.2 366.1,214.3 366.6,214.2 367.1,214.2 367.6,214.2 368.1,214.3 368.6,214.2 369.1,214.2 369.6,214.2 370.1,214.2 370.6,214.2 371.1,214.3 371.6,214.3 372.1,214.3 372.6,214.3 373.1,214.3 373.6,214.3 374.1,214.3 374.6,214.3 375.1,214.3 375.6,214.3 376.1,214.3 376.6,214.3 377.1,214.3 377.6,214.2 378.1,214.3 378.6,214.2 379.1,214.1 379.6,214.1 380.1,214.2 380.6,214.1 381.1,214.2 381.6,214.2 382.1,214.2 382.6,214.1 383.1,214.1 383.6,214.1 384.1,214.2 384.6,214.2 385.1,214.3 385.6,214.4 386.1,214.4 386.6,214.5 387.1,214.5 387.6,214.5 388.1,214.5 388.6,214.4 389.1,214.3 389.6,214.4 390.1,214.3 390.6,214.3 391.1,214.3 391.6,214.3 392.1,214.3 392.6,214.3 393.1,214.4 393.6,214.4 394.1,214.4 394.6,214.4 395.1,214.4 395.6,214.3 396.1,214.3 396.6,214.3 397.1,214.2 397.6,214.2 398.1,214.3 398.6,214.4 399.1,214.3 399.6,214.3 400.1,214.2 400.6,214.2 401.1,214.2 401.6,214.2 402.1,214.2 402.6,214.3 403.1,214.3 403.6,214.1 404.1,214.2 404.6,214.1 405.1,214.1 405.6,214.1 406.1,214.2 406.6,214.2 407.1,214.2 407.6,214.3 408.1,214.3 408.6,214.4 409.1,214.3 409.6,214.3 410.1,214.4 410.6,214.5 411.1,214.5 411.6,214.5 412.1,214.5 412.6,214.5 413.1,214.3 413.6,214.2 414.1,214.4 414.6,214.3 415.1,214.3 415.6,214.4 416.1,214.5 416.6,214.5 417.1,214.4 417.6,214.5 418.1,214.5 418.6,214.4 419.1,214.3 419.6,214.3 420.1,214.2 420.6,214.2 421.1,214.3 421.6,214.3 422.1,214.3" fill="none" stroke="#9ca1bf" stroke-width="1.0" stroke-linejoin="round" />
<polyline points="260.6,223.6 261.1,223.5 261.6,223.4 262.1,223.2 262.6,223.1 263.1,222.9 263.6,222.7 264.1,222.4 264.6,222.1 265.1,221.7 265.6,221.3 266.1,220.8 266.6,220.4 267.1,219.9 267.6,219.4 268.1,218.8 268.6,218.0 269.1,217.3 269.6,216.9 270.1,216.9 270.6,217.4 271.1,218.4 271.6,219.8 272.1,221.8 272.6,224.2 273.1,226.4 273.6,228.8 274.1,231.0 274.6,232.6 275.1,232.7 275.6,231.5 276.1,230.1 276.6,228.2 277.1,226.5 277.6,225.3 278.1,224.4 278.6,223.7 279.1,223.3 279.6,223.0 280.1,222.8 280.6,222.6 281.1,222.5 281.6,222.4 282.1,222.3 282.6,222.3 283.1,222.3 283.6,222.2 284.1,222.2 284.6,222.1 285.1,222.1 285.6,222.0 286.1,222.0 286.6,221.9 287.1,221.9 287.6,221.8 288.1,221.8 288.6,221.7 289.1,221.7 289.6,221.6 290.1,221.5 290.6,221.5 291.1,221.4 291.6,221.4 292.1,221.3 292.6,221.3 293.1,221.2 293.6,221.2 294.1,221.1 294.6,221.1 295.1,221.0 295.6,221.0 296.1,220.9 296.6,220.9 297.1,220.8 297.6,220.7 298.1,220.7 298.6,220.6 299.1,220.6 299.6,220.5 300.1,220.5 300.6,220.4 301.1,220.4 301.6,220.2 302.1,220.2 302.6,220.2 303.1,220.1 303.6,220.0 304.1,219.9 304.6,219.9 305.1,219.9 305.6,219.9 306.1,219.9 306.6,219.9 307.1,219.9 307.6,219.7 308.1,219.7 308.6,219.6 309.1,219.6 309.6,219.6 310.1,219.6 310.6,219.5 311.1,219.3 311.6,219.3 312.1,219.4 312.6,219.4 313.1,219.2 313.6,219.1 314.1,219.0 314.6,218.9 315.1,218.9 315.6,219.0 316.1,218.9 316.6,219.0 317.1,218.8 317.6,218.8 318.1,218.7 318.6,218.6 319.1,218.6 319.6,218.6 320.1,218.6 320.6,218.6 321.1,218.5 321.6,218.4 322.1,218.4 322.6,218.4 323.1,218.4 323.6,218.3 324.1,218.4 324.6,218.3 325.1,218.3 325.6,218.1 326.1,218.1 326.6,218.1 327.1,218.1 327.6,218.2 328.1,218.3 328.6,218.8 329.1,219.4 329.6,220.1 330.1,221.2 330.6,222.0 331.1,222.3 331.6,221.7 332.1,220.7 332.6,219.8 333.1,219.4 333.6,219.0 334.1,218.9 334.6,218.6 335.1,218.6 335.6,218.4 336.1,218.3 336.6,218.2 337.1,218.0 337.6,217.9 338.1,217.7 338.6,217.7 339.1,217.7 339.6,217.7 340.1,217.8 340.6,218.0 341.1,218.1 341.6,218.3 342.1,218.7 342.6,218.9 343.1,219.3 343.6,219.5 344.1,219.8 344.6,220.1 345.1,220.7 345.6,221.2 346.1,221.4 346.6,221.4 347.1,221.4 347.6,221.2 348.1,221.0 348.6,220.7 349.1,220.5 349.6,220.2 350.1,220.0 350.6,219.7 351.1,219.6 351.6,219.5 352.1,219.5 352.6,219.4 353.1,219.3 353.6,219.5 354.1,219.7 354.6,219.7 355.1,219.9 355.6,220.0 356.1,220.2 356.6,220.4 357.1,220.7 357.6,221.0 358.1,221.4 358.6,221.5 359.1,221.5 359.6,221.6 360.1,221.5 360.6,221.4 361.1,221.2 361.6,221.1 362.1,221.7 362.6,222.9 363.1,223.5 363.6,222.8 364.1,221.2 364.6,219.9 365.1,219.1 365.6,218.5 366.1,218.1 366.6,217.8 367.1,217.7 367.6,217.8 368.1,217.8 368.6,217.8 369.1,217.7 369.6,217.7 370.1,217.8 370.6,217.9 371.1,218.1 371.6,218.2 372.1,218.4 372.6,218.5 373.1,218.5 373.6,218.5 374.1,218.7 374.6,218.9 375.1,219.2 375.6,219.4 376.1,219.5 376.6,219.6 377.1,219.7 377.6,220.0 378.1,220.1 378.6,220.4 379.1,220.4 379.6,220.6 380.1,220.7 380.6,220.8 381.1,220.8 381.6,221.0 382.1,221.0 382.6,221.1 383.1,221.0 383.6,220.9 384.1,221.0 384.6,221.0 385.1,221.1 385.6,221.0 386.1,221.1 386.6,221.3 387.1,221.6 387.6,221.9 388.1,222.3 388.6,222.7 389.1,223.2 389.6,223.8 390.1,224.3 390.6,224.8 391.1,225.2 391.6,225.5 392.1,225.7 392.6,225.7 393.1,225.4 393.6,225.1 394.1,224.4 394.6,224.2 395.1,224.1 395.6,224.4 396.1,224.6 396.6,224.9 397.1,225.2 397.6,225.6 398.1,225.9 398.6,226.1 399.1,226.3 399.6,226.3 400.1,226.3 400.6,226.2 401.1,226.3 401.6,226.4 402.1,226.5 402.6,226.5 403.1,226.5 403.6,226.6 404.1,226.5 404.6,226.7 405.1,226.8 405.6,227.1 406.1,227.3 406.6,227.5 407.1,227.6 407.6,227.8 408.1,228.0 408.6,228.0 409.1,228.1 409.6,228.2 410.1,228.1 410.6,227.8 411.1,227.5 411.6,227.4 412.1,227.3 412.6,227.3 413.1,227.3 413.6,227.4 414.1,227.7 414.6,228.0 415.1,228.3 415.6,228.5 416.1,228.6 416.6,228.4 417.1,228.0 417.6,227.5 418.1,227.2 418.6,227.3 419.1,227.6 419.6,227.8 420.1,228.1 420.6,228.4 421.1,228.7 421.6,229.1 422.1,229.4" fill="none" stroke="#4f9bd2" stroke-width="0.95" stroke-linejoin="round" />
<polyline points="260.6,231.0 261.1,230.9 261.6,230.9 262.1,230.8 262.6,230.8 263.1,230.7 263.6,230.6 264.1,230.5 264.6,230.3 265.1,230.1 265.6,230.0 266.1,229.8 266.6,229.6 267.1,229.4 267.6,229.2 268.1,228.9 268.6,228.7 269.1,228.3 269.6,228.0 270.1,227.8 270.6,227.8 271.1,228.1 271.6,228.7 272.1,229.8 272.6,231.4 273.1,233.8 273.6,236.7 274.1,239.5 274.6,241.9 275.1,243.3 275.6,243.3 276.1,242.0 276.6,240.0 277.1,237.8 277.6,236.2 278.1,235.2 278.6,234.4 279.1,233.9 279.6,233.6 280.1,233.3 280.6,233.1 281.1,233.0 281.6,232.9 282.1,232.8 282.6,232.7 283.1,232.7 283.6,232.7 284.1,232.7 284.6,232.7 285.1,232.7 285.6,232.7 286.1,232.7 286.6,232.6 287.1,232.6 287.6,232.5 288.1,232.4 288.6,232.3 289.1,232.2 289.6,232.1 290.1,232.0 290.6,231.9 291.1,231.7 291.6,231.6 292.1,231.5 292.6,231.3 293.1,231.2 293.6,231.1 294.1,230.9 294.6,230.8 295.1,230.6 295.6,230.5 296.1,230.4 296.6,230.3 297.1,230.1 297.6,230.0 298.1,229.9 298.6,229.8 299.1,229.7 299.6,229.6 300.1,229.6 300.6,229.5 301.1,229.4 301.6,229.3 302.1,229.1 302.6,229.0 303.1,228.9 303.6,228.9 304.1,228.9 304.6,228.8 305.1,228.7 305.6,228.5 306.1,228.5 306.6,228.5 307.1,228.4 307.6,228.3 308.1,228.2 308.6,228.1 309.1,228.1 309.6,228.1 310.1,228.1 310.6,228.0 311.1,228.0 311.6,227.8 312.1,227.7 312.6,227.8 313.1,227.7 313.6,227.6 314.1,227.5 314.6,227.5 315.1,227.4 315.6,227.4 316.1,227.4 316.6,227.4 317.1,227.4 317.6,227.3 318.1,227.2 318.6,227.1 319.1,227.1 319.6,227.1 320.1,227.1 320.6,227.1 321.1,227.1 321.6,227.0 322.1,226.9 322.6,227.0 323.1,227.0 323.6,226.9 324.1,226.8 324.6,226.8 325.1,226.8 325.6,226.8 326.1,226.8 326.6,226.8 327.1,226.9 327.6,227.0 328.1,227.1 328.6,227.4 329.1,227.7 329.6,228.4 330.1,229.1 330.6,229.7 331.1,229.9 331.6,229.7 332.1,229.0 332.6,228.5 333.1,228.0 333.6,227.7 334.1,227.4 334.6,227.2 335.1,227.2 335.6,226.7 336.1,226.5 336.6,226.3 337.1,226.3 337.6,226.1 338.1,225.8 338.6,225.5 339.1,225.3 339.6,225.3 340.1,225.4 340.6,225.5 341.1,225.8 341.6,226.1 342.1,226.6 342.6,226.9 343.1,227.3 343.6,227.5 344.1,227.8 344.6,228.1 345.1,228.8 345.6,229.7 346.1,230.1 346.6,229.9 347.1,229.5 347.6,229.1 348.1,228.7 348.6,228.3 349.1,227.9 349.6,227.6 350.1,227.2 350.6,226.9 351.1,226.5 351.6,226.4 352.1,226.4 352.6,226.6 353.1,226.7 353.6,227.0 354.1,227.2 354.6,227.5 355.1,227.8 355.6,228.2 356.1,228.5 356.6,229.0 357.1,229.4 357.6,229.8 358.1,230.2 358.6,230.7 359.1,231.1 359.6,231.4 360.1,231.3 360.6,230.9 361.1,230.6 361.6,231.3 362.1,232.5 362.6,233.7 363.1,234.2 363.6,233.7 364.1,232.1 364.6,230.1 365.1,228.2 365.6,227.0 366.1,226.4 366.6,226.2 367.1,226.1 367.6,226.0 368.1,225.9 368.6,225.8 369.1,225.8 369.6,225.7 370.1,225.8 370.6,226.0 371.1,226.1 371.6,226.3 372.1,226.4 372.6,226.6 373.1,226.7 373.6,227.0 374.1,227.3 374.6,227.6 375.1,227.8 375.6,228.1 376.1,228.3 376.6,228.9 377.1,229.1 377.6,229.4 378.1,229.6 378.6,230.0 379.1,230.4 379.6,230.6 380.1,230.8 380.6,231.0 381.1,231.2 381.6,231.5 382.1,231.8 382.6,232.1 383.1,232.2 383.6,232.4 384.1,232.6 384.6,232.9 385.1,233.3 385.6,233.6 386.1,233.8 386.6,234.1 387.1,234.6 387.6,235.2 388.1,235.8 388.6,236.4 389.1,237.0 389.6,237.6 390.1,238.2 390.6,238.8 391.1,239.3 391.6,239.7 392.1,239.8 392.6,239.7 393.1,239.5 393.6,239.1 394.1,238.9 394.6,238.7 395.1,238.6 395.6,238.5 396.1,238.6 396.6,238.6 397.1,238.7 397.6,238.7 398.1,238.8 398.6,238.8 399.1,238.9 399.6,239.1 400.1,239.1 400.6,239.2 401.1,239.3 401.6,239.4 402.1,239.5 402.6,239.6 403.1,239.7 403.6,239.8 404.1,239.8 404.6,239.9 405.1,240.1 405.6,240.4 406.1,240.8 406.6,240.9 407.1,241.3 407.6,241.5 408.1,241.8 408.6,242.0 409.1,242.2 409.6,242.1 410.1,241.8 410.6,241.4 411.1,241.1 411.6,240.9 412.1,241.1 412.6,241.6 413.1,242.3 413.6,243.1 414.1,243.8 414.6,244.1 415.1,244.2 415.6,244.0 416.1,243.6 416.6,243.1 417.1,242.7 417.6,242.2 418.1,242.1 418.6,242.1 419.1,242.2 419.6,242.5 420.1,242.8 420.6,243.2 421.1,243.6 421.6,243.7 422.1,244.0" fill="none" stroke="#5398c8" stroke-width="0.95" stroke-linejoin="round" />
<polyline points="260.6,245.0 261.1,244.8 261.6,244.7 262.1,244.5 262.6,244.3 263.1,244.0 263.6,243.8 264.1,243.4 264.6,243.0 265.1,242.5 265.6,242.0 266.1,241.5 266.6,240.9 267.1,240.4 267.6,239.9 268.1,239.4 268.6,238.9 269.1,238.4 269.6,237.9 270.1,237.5 270.6,237.2 271.1,237.0 271.6,237.1 272.1,237.7 272.6,238.9 273.1,240.3 273.6,242.2 274.1,244.4 274.6,246.5 275.1,248.2 275.6,249.2 276.1,249.5 276.6,248.7 277.1,247.2 277.6,245.8 278.1,244.8 278.6,244.0 279.1,243.5 279.6,243.1 280.1,242.8 280.6,242.5 281.1,242.2 281.6,242.0 282.1,241.7 282.6,241.5 283.1,241.2 283.6,241.0 284.1,240.8 284.6,240.7 285.1,240.5 285.6,240.3 286.1,240.2 286.6,240.0 287.1,239.9 287.6,239.8 288.1,239.6 288.6,239.5 289.1,239.5 289.6,239.4 290.1,239.3 290.6,239.3 291.1,239.2 291.6,239.2 292.1,239.2 292.6,239.1 293.1,239.1 293.6,239.1 294.1,239.1 294.6,239.1 295.1,239.1 295.6,239.1 296.1,239.1 296.6,239.1 297.1,239.1 297.6,239.1 298.1,239.1 298.6,239.1 299.1,239.0 299.6,239.0 300.1,238.9 300.6,239.0 301.1,239.0 301.6,238.9 302.1,238.8 302.6,238.8 303.1,238.8 303.6,238.9 304.1,238.8 304.6,238.7 305.1,238.7 305.6,238.7 306.1,238.7 306.6,238.6 307.1,238.6 307.6,238.6 308.1,238.5 308.6,238.4 309.1,238.4 309.6,238.4 310.1,238.3 310.6,238.3 311.1,238.3 311.6,238.3 312.1,238.2 312.6,238.2 313.1,238.1 313.6,238.2 314.1,238.1 314.6,238.0 315.1,238.0 315.6,237.9 316.1,237.9 316.6,237.9 317.1,237.8 317.6,237.9 318.1,237.9 318.6,237.9 319.1,237.9 319.6,237.8 320.1,237.7 320.6,237.5 321.1,237.5 321.6,237.6 322.1,237.6 322.6,237.5 323.1,237.4 323.6,237.3 324.1,237.4 324.6,237.4 325.1,237.4 325.6,237.3 326.1,237.3 326.6,237.2 327.1,237.2 327.6,237.2 328.1,237.4 328.6,237.7 329.1,238.0 329.6,238.5 330.1,239.2 330.6,239.7 331.1,239.8 331.6,239.6 332.1,238.9 332.6,238.2 333.1,237.8 333.6,237.3 334.1,236.9 334.6,236.3 335.1,236.1 335.6,235.8 336.1,235.7 336.6,235.6 337.1,235.7 337.6,235.7 338.1,235.9 338.6,235.9 339.1,236.1 339.6,236.2 340.1,236.5 340.6,236.7 341.1,237.1 341.6,237.7 342.1,238.1 342.6,238.5 343.1,238.7 343.6,239.0 344.1,239.3 344.6,239.6 345.1,239.8 345.6,239.9 346.1,239.9 346.6,239.7 347.1,239.5 347.6,239.0 348.1,238.5 348.6,237.8 349.1,237.2 349.6,236.7 350.1,236.3 350.6,236.0 351.1,235.5 351.6,235.2 352.1,235.0 352.6,234.9 353.1,235.2 353.6,235.5 354.1,235.9 354.6,236.2 355.1,236.6 355.6,237.0 356.1,237.6 356.6,238.1 357.1,238.7 357.6,239.2 358.1,239.7 358.6,240.4 359.1,241.2 359.6,241.9 360.1,242.4 360.6,242.7 361.1,243.3 361.6,243.9 362.1,245.1 362.6,246.9 363.1,246.9 363.6,244.7 364.1,242.1 364.6,240.1 365.1,238.9 365.6,237.9 366.1,237.3 366.6,236.9 367.1,236.7 367.6,236.5 368.1,236.4 368.6,236.4 369.1,236.4 369.6,236.6 370.1,236.6 370.6,236.8 371.1,237.0 371.6,237.2 372.1,237.5 372.6,237.8 373.1,238.3 373.6,238.8 374.1,239.4 374.6,240.1 375.1,240.7 375.6,241.2 376.1,241.5 376.6,241.9 377.1,242.2 377.6,242.4 378.1,242.5 378.6,242.6 379.1,242.8 379.6,242.9 380.1,243.2 380.6,243.5 381.1,243.8 381.6,244.0 382.1,244.2 382.6,244.5 383.1,244.7 383.6,245.0 384.1,245.2 384.6,245.6 385.1,245.9 385.6,246.3 386.1,246.8 386.6,247.3 387.1,248.0 387.6,248.8 388.1,249.6 388.6,250.1 389.1,250.7 389.6,251.2 390.1,251.7 390.6,252.3 391.1,252.8 391.6,253.3 392.1,253.5 392.6,253.4 393.1,252.8 393.6,252.1 394.1,251.6 394.6,251.3 395.1,251.4 395.6,251.3 396.1,251.3 396.6,251.3 397.1,251.4 397.6,251.4 398.1,251.5 398.6,251.7 399.1,251.9 399.6,252.0 400.1,252.0 400.6,252.0 401.1,252.1 401.6,252.3 402.1,252.4 402.6,252.6 403.1,252.9 403.6,253.1 404.1,253.3 404.6,253.4 405.1,253.6 405.6,254.0 406.1,254.4 406.6,254.9 407.1,255.5 407.6,256.1 408.1,256.6 408.6,256.9 409.1,257.0 409.6,257.1 410.1,257.1 410.6,256.8 411.1,256.6 411.6,256.3 412.1,256.3 412.6,256.4 413.1,256.7 413.6,257.0 414.1,257.4 414.6,257.6 415.1,257.9 415.6,258.1 416.1,258.5 416.6,258.6 417.1,258.8 417.6,258.8 418.1,259.1 418.6,259.4 419.1,259.5 419.6,259.6 420.1,259.7 420.6,260.0 421.1,260.2 421.6,260.5 422.1,260.6" fill="none" stroke="#5894bc" stroke-width="0.95" stroke-linejoin="round" />
<polyline points="260.6,253.0 261.1,252.9 261.6,252.7 262.1,252.6 262.6,252.5 263.1,252.3 263.6,252.2 264.1,252.0 264.6,251.7 265.1,251.5 265.6,251.3 266.1,251.0 266.6,250.7 267.1,250.5 267.6,250.2 268.1,249.9 268.6,249.7 269.1,249.3 269.6,249.0 270.1,248.6 270.6,248.3 271.1,248.1 271.6,247.9 272.1,247.9 272.6,248.2 273.1,248.9 273.6,250.1 274.1,251.2 274.6,252.6 275.1,254.2 275.6,255.7 276.1,256.9 276.6,257.4 277.1,257.5 277.6,257.2 278.1,256.7 278.6,256.3 279.1,255.9 279.6,255.7 280.1,255.4 280.6,255.1 281.1,254.9 281.6,254.7 282.1,254.4 282.6,254.2 283.1,254.0 283.6,253.8 284.1,253.6 284.6,253.4 285.1,253.2 285.6,253.0 286.1,252.8 286.6,252.6 287.1,252.4 287.6,252.2 288.1,252.1 288.6,251.9 289.1,251.8 289.6,251.6 290.1,251.5 290.6,251.4 291.1,251.2 291.6,251.1 292.1,251.0 292.6,250.9 293.1,250.8 293.6,250.7 294.1,250.6 294.6,250.5 295.1,250.4 295.6,250.3 296.1,250.3 296.6,250.2 297.1,250.1 297.6,250.1 298.1,250.0 298.6,250.0 299.1,249.9 299.6,249.8 300.1,249.7 300.6,249.7 301.1,249.5 301.6,249.5 302.1,249.5 302.6,249.6 303.1,249.5 303.6,249.4 304.1,249.2 304.6,249.2 305.1,249.4 305.6,249.3 306.1,249.3 306.6,249.2 307.1,249.3 307.6,249.2 308.1,249.2 308.6,249.2 309.1,249.1 309.6,249.2 310.1,249.1 310.6,249.1 311.1,249.1 311.6,249.2 312.1,249.1 312.6,249.1 313.1,249.0 313.6,249.0 314.1,248.9 314.6,249.0 315.1,248.9 315.6,248.9 316.1,248.9 316.6,249.0 317.1,249.0 317.6,249.1 318.1,249.0 318.6,249.0 319.1,248.9 319.6,249.1 320.1,249.1 320.6,249.1 321.1,249.1 321.6,249.1 322.1,249.2 322.6,249.2 323.1,249.2 323.6,249.3 324.1,249.4 324.6,249.4 325.1,249.5 325.6,249.5 326.1,249.6 326.6,249.5 327.1,249.6 327.6,249.6 328.1,249.8 328.6,249.9 329.1,250.1 329.6,250.4 330.1,250.8 330.6,251.3 331.1,251.4 331.6,251.1 332.1,250.4 332.6,249.8 333.1,249.4 333.6,249.2 334.1,248.9 334.6,248.8 335.1,248.6 335.6,248.7 336.1,248.6 336.6,248.6 337.1,248.6 337.6,248.8 338.1,249.0 338.6,249.3 339.1,249.4 339.6,249.5 340.1,249.6 340.6,249.5 341.1,249.4 341.6,249.3 342.1,249.1 342.6,249.0 343.1,248.9 343.6,248.8 344.1,248.6 344.6,248.6 345.1,248.6 345.6,248.6 346.1,248.5 346.6,248.6 347.1,248.9 347.6,249.1 348.1,249.3 348.6,249.5 349.1,249.9 349.6,250.2 350.1,250.4 350.6,250.7 351.1,251.1 351.6,251.4 352.1,251.7 352.6,251.9 353.1,252.3 353.6,252.8 354.1,253.3 354.6,253.7 355.1,254.1 355.6,254.6 356.1,255.1 356.6,255.6 357.1,256.4 357.6,257.1 358.1,257.8 358.6,258.4 359.1,259.0 359.6,259.6 360.1,259.9 360.6,259.6 361.1,259.0 361.6,259.6 362.1,261.2 362.6,261.7 363.1,260.2 363.6,257.4 364.1,255.3 364.6,254.0 365.1,253.1 365.6,252.3 366.1,251.6 366.6,251.0 367.1,250.5 367.6,250.0 368.1,249.7 368.6,249.4 369.1,249.1 369.6,248.9 370.1,248.9 370.6,248.8 371.1,249.0 371.6,249.2 372.1,249.7 372.6,250.0 373.1,250.4 373.6,250.7 374.1,251.1 374.6,251.3 375.1,251.4 375.6,251.4 376.1,251.5 376.6,251.7 377.1,251.7 377.6,251.6 378.1,251.5 378.6,251.3 379.1,251.3 379.6,251.2 380.1,251.5 380.6,251.8 381.1,252.2 381.6,252.4 382.1,252.7 382.6,253.0 383.1,253.4 383.6,253.7 384.1,254.1 384.6,254.3 385.1,254.6 385.6,254.8 386.1,255.1 386.6,255.3 387.1,255.5 387.6,255.7 388.1,256.0 388.6,256.4 389.1,256.8 389.6,257.1 390.1,257.4 390.6,257.6 391.1,257.8 391.6,257.7 392.1,257.5 392.6,257.1 393.1,256.6 393.6,256.0 394.1,255.4 394.6,255.0 395.1,254.8 395.6,254.7 396.1,254.7 396.6,254.7 397.1,254.8 397.6,254.9 398.1,255.2 398.6,255.4 399.1,255.6 399.6,255.7 400.1,255.8 400.6,256.0 401.1,256.1 401.6,256.4 402.1,256.5 402.6,256.6 403.1,256.9 403.6,257.0 404.1,257.2 404.6,257.4 405.1,257.6 405.6,257.8 406.1,257.8 406.6,257.9 407.1,258.0 407.6,258.2 408.1,258.4 408.6,258.5 409.1,258.5 409.6,258.5 410.1,258.5 410.6,258.6 411.1,258.5 411.6,258.5 412.1,258.2 412.6,258.1 413.1,258.0 413.6,258.1 414.1,258.1 414.6,258.2 415.1,258.1 415.6,258.0 416.1,257.9 416.6,258.0 417.1,258.1 417.6,258.3 418.1,258.7 418.6,259.0 419.1,259.4 419.6,259.8 420.1,260.4 420.6,260.8 421.1,261.3 421.6,261.8 422.1,262.4" fill="none" stroke="#5f90b0" stroke-width="0.95" stroke-linejoin="round" />
<polyline points="260.6,263.1 261.1,263.0 261.6,262.8 262.1,262.7 262.6,262.5 263.1,262.3 263.6,262.2 264.1,262.0 264.6,261.7 265.1,261.5 265.6,261.2 266.1,260.9 266.6,260.6 267.1,260.4 267.6,260.2 268.1,260.0 268.6,259.8 269.1,259.6 269.6,259.4 270.1,259.2 270.6,259.1 271.1,258.9 271.6,258.8 272.1,258.8 272.6,258.8 273.1,258.9 273.6,259.3 274.1,260.0 274.6,261.1 275.1,262.2 275.6,263.5 276.1,264.9 276.6,266.0 277.1,266.7 277.6,266.8 278.1,266.6 278.6,266.2 279.1,265.8 279.6,265.3 280.1,264.9 280.6,264.6 281.1,264.3 281.6,264.1 282.1,263.8 282.6,263.6 283.1,263.4 283.6,263.2 284.1,263.0 284.6,262.8 285.1,262.6 285.6,262.4 286.1,262.3 286.6,262.1 287.1,261.9 287.6,261.7 288.1,261.6 288.6,261.4 289.1,261.3 289.6,261.1 290.1,261.0 290.6,260.9 291.1,260.7 291.6,260.6 292.1,260.5 292.6,260.4 293.1,260.3 293.6,260.2 294.1,260.1 294.6,260.0 295.1,260.0 295.6,259.9 296.1,259.8 296.6,259.8 297.1,259.7 297.6,259.6 298.1,259.6 298.6,259.5 299.1,259.5 299.6,259.4 300.1,259.3 300.6,259.4 301.1,259.4 301.6,259.5 302.1,259.4 302.6,259.2 303.1,259.1 303.6,259.0 304.1,259.1 304.6,259.0 305.1,258.9 305.6,258.9 306.1,258.8 306.6,258.8 307.1,258.7 307.6,258.7 308.1,258.6 308.6,258.7 309.1,258.7 309.6,258.7 310.1,258.5 310.6,258.6 311.1,258.6 311.6,258.7 312.1,258.5 312.6,258.5 313.1,258.4 313.6,258.5 314.1,258.4 314.6,258.4 315.1,258.5 315.6,258.5 316.1,258.6 316.6,258.6 317.1,258.6 317.6,258.5 318.1,258.5 318.6,258.6 319.1,258.6 319.6,258.7 320.1,258.6 320.6,258.8 321.1,258.8 321.6,258.9 322.1,258.9 322.6,258.9 323.1,259.0 323.6,259.1 324.1,259.2 324.6,259.3 325.1,259.3 325.6,259.3 326.1,259.3 326.6,259.5 327.1,259.6 327.6,259.6 328.1,259.9 328.6,260.4 329.1,261.0 329.6,261.6 330.1,262.5 330.6,263.2 331.1,263.5 331.6,263.4 332.1,263.1 332.6,262.8 333.1,262.5 333.6,262.2 334.1,262.1 334.6,261.8 335.1,261.7 335.6,261.5 336.1,261.2 336.6,261.0 337.1,260.7 337.6,260.6 338.1,260.5 338.6,260.5 339.1,260.5 339.6,260.3 340.1,260.3 340.6,260.3 341.1,260.4 341.6,260.4 342.1,260.6 342.6,260.7 343.1,260.9 343.6,261.0 344.1,261.2 344.6,261.5 345.1,261.8 345.6,261.9 346.1,262.2 346.6,262.2 347.1,262.6 347.6,262.8 348.1,263.3 348.6,263.7 349.1,263.9 349.6,264.1 350.1,264.3 350.6,264.7 351.1,265.0 351.6,265.4 352.1,265.8 352.6,266.3 353.1,266.7 353.6,267.0 354.1,267.4 354.6,267.7 355.1,268.1 355.6,268.5 356.1,268.7 356.6,269.2 357.1,269.5 357.6,270.0 358.1,270.4 358.6,270.9 359.1,271.4 359.6,271.9 360.1,272.4 360.6,273.2 361.1,274.1 361.6,274.5 362.1,274.4 362.6,274.0 363.1,272.7 363.6,269.9 364.1,267.3 364.6,265.8 365.1,265.0 365.6,264.3 366.1,263.8 366.6,263.3 367.1,262.7 367.6,262.1 368.1,261.7 368.6,261.3 369.1,261.0 369.6,260.6 370.1,260.4 370.6,260.3 371.1,260.3 371.6,260.2 372.1,260.2 372.6,260.2 373.1,260.3 373.6,260.3 374.1,260.4 374.6,260.3 375.1,260.3 375.6,260.2 376.1,260.3 376.6,260.3 377.1,260.4 377.6,260.3 378.1,260.3 378.6,260.4 379.1,260.5 379.6,260.4 380.1,260.6 380.6,260.7 381.1,260.8 381.6,260.9 382.1,261.1 382.6,261.4 383.1,261.7 383.6,261.9 384.1,262.1 384.6,262.5 385.1,263.0 385.6,263.5 386.1,263.9 386.6,264.5 387.1,265.0 387.6,265.6 388.1,266.1 388.6,266.7 389.1,267.1 389.6,267.7 390.1,268.2 390.6,268.6 391.1,268.5 391.6,268.2 392.1,267.7 392.6,267.2 393.1,266.5 393.6,265.8 394.1,265.1 394.6,264.7 395.1,264.4 395.6,264.3 396.1,264.1 396.6,264.0 397.1,263.9 397.6,263.8 398.1,263.7 398.6,263.6 399.1,263.6 399.6,263.5 400.1,263.4 400.6,263.3 401.1,263.2 401.6,263.1 402.1,263.0 402.6,262.9 403.1,262.7 403.6,262.7 404.1,262.7 404.6,262.6 405.1,262.4 405.6,262.4 406.1,262.5 406.6,262.7 407.1,262.6 407.6,262.7 408.1,262.7 408.6,262.9 409.1,262.8 409.6,262.8 410.1,262.7 410.6,262.8 411.1,262.7 411.6,262.5 412.1,262.4 412.6,262.2 413.1,262.0 413.6,261.9 414.1,261.9 414.6,262.1 415.1,262.1 415.6,262.2 416.1,262.2 416.6,262.2 417.1,262.2 417.6,262.3 418.1,262.4 418.6,262.6 419.1,262.7 419.6,262.9 420.1,262.9 420.6,263.0 421.1,263.2 421.6,263.3 422.1,263.5" fill="none" stroke="#6a8ca4" stroke-width="0.95" stroke-linejoin="round" />
<polyline points="260.6,271.8 261.1,271.6 261.6,271.4 262.1,271.3 262.6,271.1 263.1,270.9 263.6,270.7 264.1,270.5 264.6,270.2 265.1,269.9 265.6,269.7 266.1,269.4 266.6,269.1 267.1,268.9 267.6,268.7 268.1,268.5 268.6,268.3 269.1,268.1 269.6,268.0 270.1,267.8 270.6,267.7 271.1,267.6 271.6,267.5 272.1,267.4 272.6,267.5 273.1,267.6 273.6,268.0 274.1,268.8 274.6,269.8 275.1,270.7 275.6,271.7 276.1,272.8 276.6,273.9 277.1,274.8 277.6,275.4 278.1,275.5 278.6,275.2 279.1,274.8 279.6,274.3 280.1,274.0 280.6,273.8 281.1,273.7 281.6,273.5 282.1,273.3 282.6,273.2 283.1,273.0 283.6,272.8 284.1,272.6 284.6,272.4 285.1,272.2 285.6,272.0 286.1,271.8 286.6,271.7 287.1,271.5 287.6,271.3 288.1,271.1 288.6,271.0 289.1,270.8 289.6,270.6 290.1,270.5 290.6,270.3 291.1,270.2 291.6,270.0 292.1,269.8 292.6,269.7 293.1,269.5 293.6,269.3 294.1,269.2 294.6,269.0 295.1,268.9 295.6,268.8 296.1,268.7 296.6,268.6 297.1,268.5 297.6,268.4 298.1,268.3 298.6,268.3 299.1,268.2 299.6,268.1 300.1,268.0 300.6,267.9 301.1,267.8 301.6,267.8 302.1,267.9 302.6,268.0 303.1,267.9 303.6,267.7 304.1,267.7 304.6,267.5 305.1,267.6 305.6,267.7 306.1,267.7 306.6,267.7 307.1,267.6 307.6,267.7 308.1,267.5 308.6,267.4 309.1,267.4 309.6,267.4 310.1,267.5 310.6,267.4 311.1,267.5 311.6,267.5 312.1,267.5 312.6,267.5 313.1,267.5 313.6,267.5 314.1,267.4 314.6,267.4 315.1,267.5 315.6,267.5 316.1,267.5 316.6,267.6 317.1,267.7 317.6,267.7 318.1,267.6 318.6,267.7 319.1,267.7 319.6,267.8 320.1,267.8 320.6,267.9 321.1,268.0 321.6,268.1 322.1,268.2 322.6,268.3 323.1,268.4 323.6,268.5 324.1,268.6 324.6,268.8 325.1,268.7 325.6,268.8 326.1,268.7 326.6,268.7 327.1,268.9 327.6,269.0 328.1,269.2 328.6,269.4 329.1,269.6 329.6,270.0 330.1,270.4 330.6,270.5 331.1,270.6 331.6,270.5 332.1,270.5 332.6,270.3 333.1,270.2 333.6,270.1 334.1,270.0 334.6,269.8 335.1,269.7 335.6,269.6 336.1,269.6 336.6,269.5 337.1,269.5 337.6,269.4 338.1,269.3 338.6,269.2 339.1,269.1 339.6,269.1 340.1,269.0 340.6,269.0 341.1,268.9 341.6,268.8 342.1,269.0 342.6,269.1 343.1,269.2 343.6,269.1 344.1,269.2 344.6,269.3 345.1,269.3 345.6,269.5 346.1,269.8 346.6,270.1 347.1,270.3 347.6,270.6 348.1,270.9 348.6,271.2 349.1,271.5 349.6,271.9 350.1,272.2 350.6,272.6 351.1,273.1 351.6,273.7 352.1,274.4 352.6,275.1 353.1,275.7 353.6,276.5 354.1,277.2 354.6,277.8 355.1,278.4 355.6,279.0 356.1,279.8 356.6,280.5 357.1,281.3 357.6,282.1 358.1,282.9 358.6,283.7 359.1,284.4 359.6,285.2 360.1,286.1 360.6,287.3 361.1,288.5 361.6,288.9 362.1,288.9 362.6,288.1 363.1,286.6 363.6,283.0 364.1,279.6 364.6,277.8 365.1,276.5 365.6,275.5 366.1,274.6 366.6,274.0 367.1,273.2 367.6,272.6 368.1,272.0 368.6,271.6 369.1,271.0 369.6,270.5 370.1,270.3 370.6,269.9 371.1,269.6 371.6,269.3 372.1,269.3 372.6,269.2 373.1,269.1 373.6,269.0 374.1,268.8 374.6,268.8 375.1,268.7 375.6,268.7 376.1,268.6 376.6,268.6 377.1,268.6 377.6,268.6 378.1,268.5 378.6,268.5 379.1,268.5 379.6,268.6 380.1,268.8 380.6,269.0 381.1,269.2 381.6,269.5 382.1,269.9 382.6,270.4 383.1,270.8 383.6,271.3 384.1,271.8 384.6,272.4 385.1,272.9 385.6,273.4 386.1,273.8 386.6,274.2 387.1,274.7 387.6,275.4 388.1,275.8 388.6,276.2 389.1,276.5 389.6,277.1 390.1,277.9 390.6,278.4 391.1,278.6 391.6,278.2 392.1,277.7 392.6,277.0 393.1,276.2 393.6,275.4 394.1,274.7 394.6,274.2 395.1,273.8 395.6,273.6 396.1,273.3 396.6,273.2 397.1,273.1 397.6,273.0 398.1,272.9 398.6,272.8 399.1,272.6 399.6,272.5 400.1,272.4 400.6,272.2 401.1,272.0 401.6,271.7 402.1,271.6 402.6,271.4 403.1,271.2 403.6,271.0 404.1,270.9 404.6,270.8 405.1,270.7 405.6,270.5 406.1,270.4 406.6,270.3 407.1,270.4 407.6,270.4 408.1,270.4 408.6,270.5 409.1,270.6 409.6,270.7 410.1,270.7 410.6,270.9 411.1,271.0 411.6,271.1 412.1,271.0 412.6,271.0 413.1,271.1 413.6,271.3 414.1,271.5 414.6,271.6 415.1,271.7 415.6,271.8 416.1,271.9 416.6,271.9 417.1,272.0 417.6,272.0 418.1,272.0 418.6,271.9 419.1,271.9 419.6,271.9 420.1,271.9 420.6,271.8 421.1,271.6 421.6,271.5 422.1,271.4" fill="none" stroke="#788698" stroke-width="0.95" stroke-linejoin="round" />
<polyline points="260.6,279.8 261.1,279.7 261.6,279.6 262.1,279.5 262.6,279.4 263.1,279.2 263.6,279.1 264.1,279.0 264.6,278.8 265.1,278.6 265.6,278.4 266.1,278.2 266.6,278.0 267.1,277.8 267.6,277.6 268.1,277.5 268.6,277.3 269.1,277.1 269.6,276.9 270.1,276.8 270.6,276.6 271.1,276.4 271.6,276.3 272.1,276.2 272.6,276.2 273.1,276.3 273.6,276.5 274.1,277.1 274.6,277.9 275.1,278.7 275.6,279.6 276.1,280.6 276.6,281.6 277.1,282.5 277.6,283.2 278.1,283.5 278.6,283.4 279.1,282.9 279.6,282.4 280.1,281.9 280.6,281.5 281.1,281.1 281.6,280.8 282.1,280.5 282.6,280.3 283.1,280.1 283.6,279.9 284.1,279.7 284.6,279.5 285.1,279.3 285.6,279.1 286.1,278.9 286.6,278.7 287.1,278.5 287.6,278.3 288.1,278.1 288.6,278.0 289.1,277.8 289.6,277.6 290.1,277.5 290.6,277.3 291.1,277.2 291.6,277.0 292.1,276.8 292.6,276.7 293.1,276.5 293.6,276.4 294.1,276.2 294.6,276.1 295.1,276.0 295.6,275.9 296.1,275.8 296.6,275.7 297.1,275.6 297.6,275.5 298.1,275.5 298.6,275.4 299.1,275.4 299.6,275.4 300.1,275.3 300.6,275.4 301.1,275.5 301.6,275.3 302.1,275.1 302.6,275.0 303.1,274.9 303.6,275.0 304.1,275.1 304.6,275.2 305.1,275.2 305.6,275.2 306.1,275.1 306.6,275.1 307.1,275.0 307.6,275.2 308.1,275.2 308.6,275.3 309.1,275.2 309.6,275.2 310.1,275.2 310.6,275.2 311.1,275.2 311.6,275.3 312.1,275.3 312.6,275.3 313.1,275.3 313.6,275.4 314.1,275.6 314.6,275.5 315.1,275.4 315.6,275.5 316.1,275.6 316.6,275.7 317.1,275.7 317.6,275.8 318.1,275.9 318.6,275.9 319.1,275.8 319.6,275.8 320.1,276.0 320.6,276.2 321.1,276.3 321.6,276.3 322.1,276.3 322.6,276.4 323.1,276.5 323.6,276.8 324.1,277.0 324.6,277.1 325.1,277.1 325.6,277.2 326.1,277.3 326.6,277.4 327.1,277.5 327.6,277.7 328.1,278.1 328.6,278.6 329.1,278.9 329.6,279.2 330.1,279.5 330.6,279.6 331.1,279.7 331.6,279.5 332.1,279.4 332.6,279.1 333.1,278.8 333.6,278.6 334.1,278.3 334.6,278.2 335.1,278.0 335.6,277.8 336.1,277.6 336.6,277.4 337.1,277.3 337.6,277.1 338.1,276.9 338.6,276.6 339.1,276.5 339.6,276.4 340.1,276.4 340.6,276.5 341.1,276.5 341.6,276.5 342.1,276.5 342.6,276.7 343.1,276.8 343.6,276.9 344.1,276.9 344.6,277.1 345.1,277.4 345.6,277.9 346.1,278.1 346.6,278.3 347.1,278.4 347.6,278.5 348.1,278.6 348.6,278.6 349.1,278.9 349.6,279.0 350.1,279.4 350.6,279.6 351.1,280.1 351.6,280.7 352.1,281.3 352.6,282.0 353.1,282.8 353.6,283.6 354.1,284.5 354.6,285.4 355.1,286.3 355.6,287.1 356.1,288.0 356.6,288.8 357.1,289.6 357.6,290.4 358.1,291.3 358.6,292.2 359.1,293.2 359.6,294.1 360.1,295.2 360.6,296.6 361.1,298.2 361.6,298.9 362.1,298.3 362.6,296.6 363.1,294.7 363.6,292.2 364.1,290.5 364.6,289.2 365.1,288.0 365.6,286.9 366.1,286.1 366.6,285.2 367.1,284.4 367.6,283.3 368.1,282.5 368.6,281.8 369.1,281.2 369.6,280.6 370.1,280.1 370.6,279.5 371.1,279.1 371.6,278.8 372.1,278.6 372.6,278.5 373.1,278.2 373.6,278.1 374.1,278.0 374.6,277.9 375.1,277.9 375.6,277.7 376.1,277.7 376.6,277.5 377.1,277.3 377.6,277.2 378.1,277.2 378.6,277.3 379.1,277.4 379.6,277.4 380.1,277.3 380.6,277.4 381.1,277.6 381.6,277.9 382.1,278.1 382.6,278.4 383.1,278.7 383.6,279.1 384.1,279.7 384.6,280.2 385.1,280.6 385.6,281.1 386.1,281.8 386.6,282.4 387.1,283.0 387.6,283.6 388.1,284.3 388.6,285.0 389.1,285.7 389.6,286.4 390.1,287.3 390.6,288.0 391.1,288.2 391.6,288.0 392.1,287.5 392.6,286.7 393.1,285.8 393.6,285.0 394.1,284.3 394.6,283.8 395.1,283.4 395.6,283.1 396.1,282.8 396.6,282.7 397.1,282.4 397.6,282.2 398.1,282.1 398.6,281.8 399.1,281.8 399.6,281.6 400.1,281.5 400.6,281.3 401.1,281.2 401.6,280.8 402.1,280.6 402.6,280.2 403.1,280.1 403.6,280.0 404.1,279.8 404.6,279.7 405.1,279.6 405.6,279.5 406.1,279.4 406.6,279.4 407.1,279.6 407.6,279.9 408.1,280.1 408.6,280.3 409.1,280.5 409.6,280.5 410.1,280.6 410.6,280.6 411.1,280.7 411.6,280.7 412.1,280.7 412.6,280.8 413.1,280.8 413.6,280.9 414.1,281.0 414.6,281.1 415.1,281.3 415.6,281.6 416.1,281.8 416.6,282.1 417.1,282.3 417.6,282.4 418.1,282.6 418.6,282.7 419.1,283.0 419.6,282.9 420.1,283.1 420.6,283.2 421.1,283.6 421.6,283.7 422.1,284.0" fill="none" stroke="#86808a" stroke-width="0.95" stroke-linejoin="round" />
<polyline points="260.6,290.0 261.1,289.8 261.6,289.5 262.1,289.3 262.6,289.1 263.1,288.9 263.6,288.7 264.1,288.5 264.6,288.3 265.1,288.0 265.6,287.8 266.1,287.6 266.6,287.5 267.1,287.3 267.6,287.1 268.1,287.0 268.6,286.8 269.1,286.7 269.6,286.5 270.1,286.4 270.6,286.3 271.1,286.2 271.6,286.2 272.1,286.3 272.6,286.6 273.1,287.1 273.6,287.7 274.1,288.5 274.6,289.1 275.1,289.9 275.6,290.6 276.1,291.4 276.6,292.2 277.1,292.9 277.6,293.4 278.1,293.7 278.6,293.7 279.1,293.3 279.6,292.8 280.1,292.4 280.6,292.2 281.1,291.9 281.6,291.6 282.1,291.4 282.6,291.2 283.1,291.0 283.6,290.8 284.1,290.6 284.6,290.4 285.1,290.2 285.6,290.0 286.1,289.9 286.6,289.7 287.1,289.5 287.6,289.3 288.1,289.1 288.6,289.0 289.1,288.8 289.6,288.6 290.1,288.5 290.6,288.3 291.1,288.2 291.6,288.0 292.1,287.8 292.6,287.7 293.1,287.5 293.6,287.4 294.1,287.3 294.6,287.1 295.1,287.0 295.6,286.9 296.1,286.8 296.6,286.7 297.1,286.6 297.6,286.5 298.1,286.4 298.6,286.4 299.1,286.3 299.6,286.2 300.1,286.2 300.6,286.0 301.1,286.0 301.6,286.0 302.1,286.0 302.6,285.8 303.1,285.8 303.6,285.8 304.1,286.0 304.6,286.0 305.1,285.9 305.6,285.8 306.1,285.6 306.6,285.6 307.1,285.5 307.6,285.6 308.1,285.5 308.6,285.4 309.1,285.4 309.6,285.4 310.1,285.4 310.6,285.4 311.1,285.3 311.6,285.4 312.1,285.4 312.6,285.4 313.1,285.5 313.6,285.4 314.1,285.4 314.6,285.3 315.1,285.2 315.6,285.3 316.1,285.3 316.6,285.4 317.1,285.4 317.6,285.5 318.1,285.5 318.6,285.5 319.1,285.5 319.6,285.6 320.1,285.7 320.6,285.7 321.1,285.7 321.6,285.7 322.1,285.7 322.6,285.8 323.1,285.8 323.6,286.0 324.1,286.1 324.6,286.2 325.1,286.2 325.6,286.3 326.1,286.4 326.6,286.6 327.1,286.8 327.6,287.0 328.1,287.2 328.6,287.6 329.1,288.1 329.6,288.3 330.1,288.4 330.6,288.3 331.1,288.3 331.6,288.1 332.1,287.9 332.6,287.7 333.1,287.6 333.6,287.4 334.1,287.2 334.6,287.0 335.1,286.9 335.6,286.9 336.1,286.8 336.6,286.6 337.1,286.7 337.6,286.6 338.1,286.6 338.6,286.5 339.1,286.4 339.6,286.3 340.1,286.3 340.6,286.4 341.1,286.5 341.6,286.6 342.1,286.5 342.6,286.5 343.1,286.5 343.6,286.6 344.1,286.8 344.6,286.9 345.1,287.0 345.6,287.2 346.1,287.6 346.6,287.9 347.1,288.2 347.6,288.6 348.1,289.0 348.6,289.6 349.1,289.9 349.6,290.7 350.1,291.3 350.6,292.0 351.1,292.7 351.6,293.4 352.1,294.2 352.6,295.0 353.1,296.0 353.6,296.9 354.1,298.0 354.6,298.9 355.1,299.9 355.6,300.8 356.1,301.7 356.6,302.5 357.1,303.4 357.6,304.1 358.1,305.0 358.6,305.7 359.1,306.6 359.6,307.5 360.1,308.6 360.6,309.8 361.1,312.7 361.6,313.2 362.1,309.7 362.6,305.1 363.1,301.1 363.6,297.7 364.1,294.7 364.6,293.6 365.1,292.8 365.6,292.1 366.1,291.4 366.6,290.8 367.1,290.3 367.6,290.0 368.1,289.5 368.6,289.2 369.1,288.8 369.6,288.5 370.1,288.1 370.6,287.8 371.1,287.6 371.6,287.4 372.1,287.2 372.6,287.0 373.1,286.9 373.6,286.6 374.1,286.4 374.6,286.4 375.1,286.3 375.6,286.1 376.1,286.0 376.6,285.7 377.1,285.5 377.6,285.3 378.1,285.0 378.6,284.8 379.1,284.7 379.6,284.5 380.1,284.6 380.6,284.9 381.1,285.6 381.6,286.2 382.1,286.9 382.6,287.6 383.1,288.6 383.6,289.7 384.1,290.9 384.6,291.9 385.1,292.7 385.6,293.7 386.1,294.9 386.6,296.1 387.1,297.3 387.6,298.5 388.1,299.4 388.6,300.0 389.1,300.2 389.6,300.3 390.1,300.1 390.6,300.0 391.1,299.6 391.6,299.1 392.1,298.6 392.6,298.0 393.1,297.4 393.6,296.9 394.1,296.6 394.6,296.5 395.1,296.2 395.6,296.0 396.1,295.8 396.6,295.7 397.1,295.6 397.6,295.5 398.1,295.4 398.6,295.3 399.1,295.3 399.6,295.5 400.1,295.5 400.6,295.5 401.1,295.5 401.6,295.4 402.1,295.5 402.6,295.6 403.1,295.7 403.6,295.8 404.1,295.9 404.6,296.0 405.1,296.2 405.6,296.3 406.1,296.3 406.6,296.4 407.1,296.4 407.6,296.5 408.1,296.6 408.6,296.7 409.1,296.8 409.6,296.9 410.1,296.9 410.6,296.9 411.1,296.7 411.6,296.6 412.1,296.3 412.6,296.2 413.1,296.1 413.6,296.2 414.1,296.4 414.6,296.7 415.1,297.1 415.6,297.5 416.1,297.9 416.6,298.3 417.1,298.6 417.6,299.0 418.1,299.3 418.6,299.8 419.1,300.2 419.6,300.6 420.1,300.9 420.6,301.2 421.1,301.5 421.6,302.0 422.1,302.5" fill="none" stroke="#977a7c" stroke-width="0.95" stroke-linejoin="round" />
<polyline points="260.6,322.6 261.1,322.3 261.6,322.0 262.1,321.7 262.6,321.4 263.1,321.1 263.6,320.8 264.1,320.4 264.6,320.0 265.1,319.6 265.6,319.1 266.1,318.6 266.6,318.2 267.1,317.7 267.6,317.3 268.1,317.0 268.6,316.7 269.1,316.5 269.6,316.5 270.1,316.7 270.6,317.2 271.1,318.1 271.6,319.3 272.1,321.2 272.6,324.0 273.1,326.4 273.6,328.8 274.1,330.8 274.6,331.8 275.1,331.4 275.6,330.3 276.1,329.0 276.6,327.8 277.1,326.4 277.6,325.1 278.1,324.1 278.6,323.4 279.1,322.9 279.6,322.4 280.1,322.0 280.6,321.6 281.1,321.3 281.6,321.0 282.1,320.7 282.6,320.5 283.1,320.3 283.6,320.1 284.1,320.0 284.6,319.8 285.1,319.7 285.6,319.6 286.1,319.5 286.6,319.4 287.1,319.3 287.6,319.2 288.1,319.1 288.6,319.1 289.1,319.0 289.6,318.9 290.1,318.9 290.6,318.8 291.1,318.8 291.6,318.7 292.1,318.7 292.6,318.6 293.1,318.6 293.6,318.5 294.1,318.5 294.6,318.4 295.1,318.4 295.6,318.3 296.1,318.3 296.6,318.2 297.1,318.2 297.6,318.1 298.1,318.1 298.6,318.1 299.1,318.0 299.6,318.0 300.1,318.1 300.6,318.1 301.1,318.1 301.6,318.1 302.1,317.9 302.6,317.8 303.1,317.7 303.6,317.7 304.1,317.5 304.6,317.6 305.1,317.7 305.6,317.8 306.1,317.9 306.6,317.8 307.1,317.6 307.6,317.5 308.1,317.5 308.6,317.6 309.1,317.6 309.6,317.5 310.1,317.5 310.6,317.5 311.1,317.5 311.6,317.4 312.1,317.4 312.6,317.4 313.1,317.5 313.6,317.3 314.1,317.3 314.6,317.2 315.1,317.4 315.6,317.3 316.1,317.2 316.6,317.1 317.1,317.1 317.6,317.1 318.1,317.1 318.6,317.1 319.1,317.2 319.6,317.2 320.1,317.1 320.6,317.2 321.1,317.2 321.6,317.2 322.1,317.1 322.6,317.2 323.1,317.3 323.6,317.3 324.1,317.3 324.6,317.4 325.1,317.5 325.6,317.8 326.1,318.1 326.6,318.4 327.1,318.6 327.6,318.9 328.1,319.2 328.6,319.7 329.1,320.2 329.6,320.9 330.1,321.6 330.6,322.3 331.1,322.6 331.6,322.3 332.1,321.7 332.6,320.8 333.1,320.1 333.6,319.5 334.1,319.0 334.6,318.7 335.1,318.5 335.6,318.4 336.1,318.4 336.6,318.4 337.1,318.3 337.6,318.4 338.1,318.5 338.6,318.7 339.1,318.7 339.6,318.8 340.1,319.0 340.6,319.2 341.1,319.3 341.6,319.3 342.1,319.4 342.6,319.5 343.1,319.6 343.6,319.8 344.1,319.9 344.6,319.9 345.1,319.9 345.6,320.0 346.1,320.2 346.6,320.2 347.1,320.2 347.6,319.9 348.1,319.7 348.6,319.3 349.1,319.2 349.6,319.1 350.1,319.1 350.6,318.9 351.1,318.8 351.6,318.7 352.1,318.6 352.6,318.5 353.1,318.4 353.6,318.4 354.1,318.5 354.6,318.6 355.1,318.6 355.6,318.7 356.1,318.8 356.6,319.0 357.1,319.3 357.6,319.5 358.1,319.7 358.6,319.6 359.1,319.7 359.6,319.7 360.1,319.8 360.6,320.0 361.1,320.6 361.6,321.5 362.1,322.2 362.6,322.7 363.1,322.4 363.6,321.1 364.1,319.0 364.6,318.0 365.1,317.4 365.6,317.2 366.1,317.1 366.6,317.1 367.1,317.2 367.6,317.2 368.1,317.3 368.6,317.5 369.1,317.5 369.6,317.8 370.1,317.8 370.6,318.1 371.1,318.1 371.6,318.3 372.1,318.6 372.6,318.9 373.1,319.0 373.6,318.9 374.1,318.9 374.6,319.0 375.1,319.2 375.6,319.4 376.1,319.5 376.6,319.8 377.1,320.0 377.6,320.2 378.1,320.3 378.6,320.4 379.1,320.5 379.6,320.8 380.1,321.1 380.6,321.3 381.1,321.4 381.6,321.6 382.1,321.7 382.6,321.9 383.1,322.0 383.6,322.1 384.1,322.2 384.6,322.4 385.1,322.6 385.6,322.8 386.1,322.9 386.6,323.2 387.1,323.5 387.6,323.8 388.1,323.9 388.6,324.1 389.1,324.3 389.6,324.6 390.1,324.6 390.6,324.7 391.1,324.7 391.6,324.8 392.1,324.9 392.6,325.0 393.1,325.0 393.6,325.1 394.1,325.1 394.6,325.3 395.1,325.4 395.6,325.6 396.1,325.7 396.6,325.7 397.1,325.8 397.6,325.9 398.1,326.0 398.6,326.1 399.1,326.3 399.6,326.6 400.1,326.6 400.6,326.7 401.1,326.8 401.6,327.0 402.1,327.2 402.6,327.2 403.1,327.5 403.6,327.7 404.1,327.9 404.6,327.8 405.1,328.0 405.6,328.1 406.1,328.4 406.6,328.6 407.1,328.7 407.6,328.9 408.1,329.0 408.6,329.1 409.1,329.4 409.6,329.6 410.1,329.9 410.6,330.0 411.1,330.1 411.6,330.3 412.1,330.5 412.6,330.7 413.1,330.9 413.6,331.2 414.1,331.5 414.6,331.8 415.1,332.0 415.6,332.3 416.1,332.4 416.6,332.7 417.1,333.0 417.6,333.3 418.1,333.5 418.6,333.8 419.1,334.0 419.6,334.3 420.1,334.6 420.6,334.8 421.1,335.0 421.6,335.3 422.1,335.6" fill="none" stroke="#4f9bd2" stroke-width="0.9" stroke-linejoin="round" />
<polyline points="260.6,331.8 261.1,331.6 261.6,331.3 262.1,331.1 262.6,330.8 263.1,330.5 263.6,330.2 264.1,329.9 264.6,329.6 265.1,329.2 265.6,328.8 266.1,328.4 266.6,327.9 267.1,327.6 267.6,327.2 268.1,326.9 268.6,326.6 269.1,326.5 269.6,326.5 270.1,326.7 270.6,327.2 271.1,328.1 271.6,329.3 272.1,330.9 272.6,333.1 273.1,335.4 273.6,337.4 274.1,339.5 274.6,341.5 275.1,343.2 275.6,344.0 276.1,343.3 276.6,341.4 277.1,339.3 277.6,337.8 278.1,336.6 278.6,335.6 279.1,334.8 279.6,334.2 280.1,333.7 280.6,333.3 281.1,332.9 281.6,332.5 282.1,332.2 282.6,331.9 283.1,331.7 283.6,331.5 284.1,331.3 284.6,331.1 285.1,331.0 285.6,330.8 286.1,330.7 286.6,330.6 287.1,330.5 287.6,330.4 288.1,330.3 288.6,330.2 289.1,330.1 289.6,330.0 290.1,330.0 290.6,329.9 291.1,329.8 291.6,329.8 292.1,329.7 292.6,329.6 293.1,329.6 293.6,329.5 294.1,329.5 294.6,329.4 295.1,329.3 295.6,329.3 296.1,329.2 296.6,329.2 297.1,329.1 297.6,329.1 298.1,329.0 298.6,329.0 299.1,329.0 299.6,328.9 300.1,328.9 300.6,328.9 301.1,328.9 301.6,329.0 302.1,328.8 302.6,328.7 303.1,328.7 303.6,328.7 304.1,328.7 304.6,328.6 305.1,328.4 305.6,328.4 306.1,328.4 306.6,328.5 307.1,328.5 307.6,328.3 308.1,328.2 308.6,328.1 309.1,328.1 309.6,328.3 310.1,328.3 310.6,328.4 311.1,328.1 311.6,328.0 312.1,328.0 312.6,328.0 313.1,327.9 313.6,327.9 314.1,327.8 314.6,327.8 315.1,327.7 315.6,327.7 316.1,327.6 316.6,327.4 317.1,327.4 317.6,327.5 318.1,327.6 318.6,327.7 319.1,327.7 319.6,327.6 320.1,327.5 320.6,327.5 321.1,327.5 321.6,327.5 322.1,327.5 322.6,327.5 323.1,327.4 323.6,327.3 324.1,327.3 324.6,327.4 325.1,327.6 325.6,327.8 326.1,328.1 326.6,328.2 327.1,328.3 327.6,328.6 328.1,329.0 328.6,329.3 329.1,329.5 329.6,330.0 330.1,330.6 330.6,331.1 331.1,331.3 331.6,331.2 332.1,330.7 332.6,330.0 333.1,329.5 333.6,329.1 334.1,328.9 334.6,328.7 335.1,328.5 335.6,328.4 336.1,328.3 336.6,328.1 337.1,327.9 337.6,327.8 338.1,327.7 338.6,327.7 339.1,327.6 339.6,327.6 340.1,327.6 340.6,327.6 341.1,327.7 341.6,328.0 342.1,328.3 342.6,328.6 343.1,329.0 343.6,329.4 344.1,329.9 344.6,330.2 345.1,330.4 345.6,330.5 346.1,330.5 346.6,330.4 347.1,330.0 347.6,329.7 348.1,329.3 348.6,329.0 349.1,328.4 349.6,328.0 350.1,327.8 350.6,327.8 351.1,327.6 351.6,327.5 352.1,327.4 352.6,327.3 353.1,327.3 353.6,327.2 354.1,327.3 354.6,327.3 355.1,327.5 355.6,327.6 356.1,327.9 356.6,328.0 357.1,328.2 357.6,328.4 358.1,328.6 358.6,328.7 359.1,328.7 359.6,328.9 360.1,329.2 360.6,329.6 361.1,330.3 361.6,331.2 362.1,332.1 362.6,332.5 363.1,332.2 363.6,330.8 364.1,329.0 364.6,328.0 365.1,327.6 365.6,327.3 366.1,327.1 366.6,327.1 367.1,327.2 367.6,327.4 368.1,327.6 368.6,327.9 369.1,328.1 369.6,328.2 370.1,328.3 370.6,328.4 371.1,328.5 371.6,328.6 372.1,328.8 372.6,328.9 373.1,329.0 373.6,329.1 374.1,329.3 374.6,329.4 375.1,329.4 375.6,329.4 376.1,329.6 376.6,329.8 377.1,329.9 377.6,329.9 378.1,330.0 378.6,330.2 379.1,330.2 379.6,330.5 380.1,330.6 380.6,330.8 381.1,331.0 381.6,331.2 382.1,331.4 382.6,331.7 383.1,332.1 383.6,332.3 384.1,332.6 384.6,332.7 385.1,333.1 385.6,333.4 386.1,333.7 386.6,334.0 387.1,334.3 387.6,334.6 388.1,334.8 388.6,335.1 389.1,335.2 389.6,335.3 390.1,335.5 390.6,335.9 391.1,336.1 391.6,336.2 392.1,336.3 392.6,336.5 393.1,336.8 393.6,336.9 394.1,337.1 394.6,337.3 395.1,337.5 395.6,337.6 396.1,337.6 396.6,337.7 397.1,337.8 397.6,337.8 398.1,338.1 398.6,338.2 399.1,338.4 399.6,338.3 400.1,338.4 400.6,338.5 401.1,338.5 401.6,338.7 402.1,338.8 402.6,339.0 403.1,339.0 403.6,339.0 404.1,339.1 404.6,339.4 405.1,339.5 405.6,339.6 406.1,339.6 406.6,339.7 407.1,339.8 407.6,339.9 408.1,340.0 408.6,340.2 409.1,340.4 409.6,340.6 410.1,340.7 410.6,340.8 411.1,340.9 411.6,341.1 412.1,341.2 412.6,341.4 413.1,341.6 413.6,341.6 414.1,341.6 414.6,341.7 415.1,341.9 415.6,342.2 416.1,342.3 416.6,342.4 417.1,342.3 417.6,342.5 418.1,342.7 418.6,343.0 419.1,343.1 419.6,343.3 420.1,343.4 420.6,343.6 421.1,343.6 421.6,343.7 422.1,343.7" fill="none" stroke="#4f98d0" stroke-width="0.9" stroke-linejoin="round" />
<polyline points="274.6,222 277.6,300 279.4,300 279.4,316.4 274.8,318.4 276.6,347.6" stroke="#333" stroke-width="0.8" stroke-dasharray="1.6,1.4" fill="none"/>
<line x1="331.2" y1="218.5" x2="332.2" y2="300" stroke="#333" stroke-width="0.8" stroke-dasharray="1.6,1.4" fill="none"/>
<line x1="363.6" y1="219.5" x2="361" y2="320" stroke="#333" stroke-width="0.8" stroke-dasharray="1.6,1.4" fill="none"/>
<text x="281" y="309.2" font-size="9.3" text-anchor="start" fill="#111"  style="stroke-width:0.1px"><tspan font-size="7.5" dy="-0.6">*</tspan><tspan dy="0.6">CO</tspan><tspan font-size="6.4" dy="2" style="stroke-width:0.1px">atop</tspan></text>
<text x="321.6" y="309.3" font-size="9.3" text-anchor="start" fill="#111"  style="stroke-width:0.1px"><tspan font-size="7.5" dy="-0.6">*</tspan><tspan dy="0.6">CHO</tspan></text>
<text x="364" y="309.3" font-size="9.3" text-anchor="start" fill="#111"  style="stroke-width:0.1px"><tspan font-size="7.5" dy="-0.6">*</tspan><tspan dy="0.6">COCHO</tspan></text>
<text x="425" y="218.2" font-size="9" text-anchor="start" fill="#111"  style="stroke-width:0.1px">OCP</text>
<text x="425" y="235.2" font-size="9" text-anchor="start" fill="#111"  style="stroke-width:0.1px">-0.5 V</text>
<text x="425" y="309.2" font-size="9" text-anchor="start" fill="#111"  style="stroke-width:0.1px">-1.2 V</text>
<text x="424.5" y="336.2" font-size="9" text-anchor="start" fill="#111"  style="stroke-width:0.1px">-0.6 V</text>
<text x="424.5" y="345.2" font-size="9" text-anchor="start" fill="#111"  style="stroke-width:0.1px">-0.7 V</text>
<line x1="434.4" y1="238" x2="434.4" y2="294" stroke="#111" stroke-width="0.9"/>
<polygon points="432.6,293.5 436.2,293.5 434.4,299.3" fill="#111"/>
<rect x="260.6" y="201.7" width="161.79999999999995" height="150.5" fill="none" stroke="#333" stroke-width="1.0"/>
<line x1="422.40" y1="352.2" x2="422.40" y2="354.9" stroke="#333" stroke-width="1"/>
<text x="422.40" y="365" font-size="10" text-anchor="middle" fill="#111" >1200</text>
<line x1="406.22" y1="352.2" x2="406.22" y2="353.7" stroke="#333" stroke-width="1"/>
<line x1="390.04" y1="352.2" x2="390.04" y2="354.9" stroke="#333" stroke-width="1"/>
<text x="390.04" y="365" font-size="10" text-anchor="middle" fill="#111" >1400</text>
<line x1="373.86" y1="352.2" x2="373.86" y2="353.7" stroke="#333" stroke-width="1"/>
<line x1="357.68" y1="352.2" x2="357.68" y2="354.9" stroke="#333" stroke-width="1"/>
<text x="357.68" y="365" font-size="10" text-anchor="middle" fill="#111" >1600</text>
<line x1="341.50" y1="352.2" x2="341.50" y2="353.7" stroke="#333" stroke-width="1"/>
<line x1="325.32" y1="352.2" x2="325.32" y2="354.9" stroke="#333" stroke-width="1"/>
<text x="325.32" y="365" font-size="10" text-anchor="middle" fill="#111" >1800</text>
<line x1="309.14" y1="352.2" x2="309.14" y2="353.7" stroke="#333" stroke-width="1"/>
<line x1="292.96" y1="352.2" x2="292.96" y2="354.9" stroke="#333" stroke-width="1"/>
<text x="292.96" y="365" font-size="10" text-anchor="middle" fill="#111" >2000</text>
<line x1="276.78" y1="352.2" x2="276.78" y2="353.7" stroke="#333" stroke-width="1"/>
<line x1="260.60" y1="352.2" x2="260.60" y2="354.9" stroke="#333" stroke-width="1"/>
<text x="260.60" y="365" font-size="10" text-anchor="middle" fill="#111" >2200</text>
<text x="341.5" y="377.3" font-size="11.8" text-anchor="middle" fill="#111" >Wavenumber (cm<tspan font-size="8" dy="-4.6">-1</tspan><tspan dy="4.6">)</tspan></text>
<text transform="translate(251.3,272.7) rotate(-90)" font-size="11.9" text-anchor="middle" fill="#111">Intensity (a.u.)</text>
<text x="467.6" y="211.5" font-size="22" text-anchor="start" fill="#111" >f</text>
<polyline points="496.0,212.5 496.5,212.4 497.0,212.4 497.5,212.3 498.0,212.3 498.5,212.3 499.0,212.5 499.5,212.4 500.0,212.4 500.5,212.4 501.0,212.4 501.5,212.4 502.0,212.4 502.5,212.4 503.0,212.5 503.5,212.5 504.0,212.5 504.5,212.5 505.0,212.6 505.5,212.6 506.0,212.5 506.5,212.6 507.0,212.7 507.5,212.6 508.0,212.7 508.5,212.6 509.0,212.5 509.5,212.5 510.0,212.5 510.5,212.4 511.0,212.4 511.5,212.4 512.0,212.4 512.5,212.5 513.0,212.5 513.5,212.6 514.0,212.5 514.5,212.6 515.0,212.6 515.5,212.5 516.0,212.4 516.5,212.5 517.0,212.5 517.5,212.4 518.0,212.5 518.5,212.5 519.0,212.4 519.5,212.3 520.0,212.4 520.5,212.4 521.0,212.5 521.5,212.6 522.0,212.7 522.5,212.6 523.0,212.7 523.5,212.6 524.0,212.5 524.5,212.5 525.0,212.5 525.5,212.5 526.0,212.5 526.5,212.5 527.0,212.6 527.5,212.6 528.0,212.5 528.5,212.6 529.0,212.6 529.5,212.4 530.0,212.5 530.5,212.6 531.0,212.5 531.5,212.6 532.0,212.7 532.5,212.7 533.0,212.7 533.5,212.6 534.0,212.6 534.5,212.4 535.0,212.4 535.5,212.3 536.0,212.4 536.5,212.5 537.0,212.5 537.5,212.5 538.0,212.5 538.5,212.5 539.0,212.4 539.5,212.4 540.0,212.4 540.5,212.5 541.0,212.5 541.5,212.5 542.0,212.5 542.5,212.5 543.0,212.6 543.5,212.4 544.0,212.6 544.5,212.6 545.0,212.6 545.5,212.6 546.0,212.5 546.5,212.5 547.0,212.5 547.5,212.4 548.0,212.4 548.5,212.6 549.0,212.7 549.5,212.7 550.0,212.8 550.5,212.7 551.0,212.5 551.5,212.4 552.0,212.4 552.5,212.4 553.0,212.5 553.5,212.6 554.0,212.6 554.5,212.6 555.0,212.5 555.5,212.5 556.0,212.5 556.5,212.5 557.0,212.5 557.5,212.6 558.0,212.5 558.5,212.5 559.0,212.5 559.5,212.6 560.0,212.6 560.5,212.6 561.0,212.6 561.5,212.5 562.0,212.5 562.5,212.6 563.0,212.6 563.5,212.6 564.0,212.6 564.5,212.6 565.0,212.4 565.5,212.4 566.0,212.5 566.5,212.5 567.0,212.4 567.5,212.5 568.0,212.4 568.5,212.4 569.0,212.4 569.5,212.5 570.0,212.6 570.5,212.5 571.0,212.5 571.5,212.5 572.0,212.4 572.5,212.4 573.0,212.4 573.5,212.5 574.0,212.5 574.5,212.5 575.0,212.4 575.5,212.4 576.0,212.4 576.5,212.4 577.0,212.5 577.5,212.6 578.0,212.7 578.5,212.7 579.0,212.8 579.5,212.8 580.0,212.7 580.5,212.7 581.0,212.6 581.5,212.5 582.0,212.5 582.5,212.5 583.0,212.5 583.5,212.5 584.0,212.5 584.5,212.5 585.0,212.4 585.5,212.5 586.0,212.4 586.5,212.5 587.0,212.5 587.5,212.5 588.0,212.4 588.5,212.4 589.0,212.4 589.5,212.4 590.0,212.4 590.5,212.5 591.0,212.4 591.5,212.2 592.0,212.3 592.5,212.3 593.0,212.3 593.5,212.4 594.0,212.5 594.5,212.6 595.0,212.6 595.5,212.8 596.0,212.6 596.5,212.6 597.0,212.6 597.5,212.5 598.0,212.3 598.5,212.4 599.0,212.3 599.5,212.2 600.0,212.3 600.5,212.4 601.0,212.5 601.5,212.6 602.0,212.6 602.5,212.5 603.0,212.5 603.5,212.4 604.0,212.4 604.5,212.4 605.0,212.4 605.5,212.3 606.0,212.3 606.5,212.3 607.0,212.4 607.5,212.5 608.0,212.5 608.5,212.5 609.0,212.5 609.5,212.5 610.0,212.4 610.5,212.5 611.0,212.5 611.5,212.5 612.0,212.5 612.5,212.4 613.0,212.5 613.5,212.4 614.0,212.4 614.5,212.5 615.0,212.6 615.5,212.7 616.0,212.7 616.5,212.6 617.0,212.6 617.5,212.5 618.0,212.4 618.5,212.4 619.0,212.3 619.5,212.4 620.0,212.4 620.5,212.5 621.0,212.4 621.5,212.6 622.0,212.6 622.5,212.6 623.0,212.6 623.5,212.6 624.0,212.5 624.5,212.5 625.0,212.6 625.5,212.6 626.0,212.7 626.5,212.7 627.0,212.7 627.5,212.6 628.0,212.6 628.5,212.5 629.0,212.6 629.5,212.6 630.0,212.7 630.5,212.7 631.0,212.6 631.5,212.5 632.0,212.5 632.5,212.5 633.0,212.4 633.5,212.4 634.0,212.5 634.5,212.3 635.0,212.3 635.5,212.3 636.0,212.4 636.5,212.4 637.0,212.5 637.5,212.5 638.0,212.6 638.5,212.6 639.0,212.5 639.5,212.6 640.0,212.6 640.5,212.7 641.0,212.6 641.5,212.7 642.0,212.6 642.5,212.5 643.0,212.3 643.5,212.5 644.0,212.4 644.5,212.3 645.0,212.3 645.5,212.5 646.0,212.4 646.5,212.5 647.0,212.4 647.5,212.5 648.0,212.4 648.5,212.4 649.0,212.5 649.5,212.6 650.0,212.5 650.5,212.6 651.0,212.6 651.5,212.4 652.0,212.3 652.5,212.3 653.0,212.3 653.5,212.3 654.0,212.3 654.5,212.5 655.0,212.6 655.5,212.6 656.0,212.6 656.5,212.5 657.0,212.4 657.5,212.4" fill="none" stroke="#9ca1bf" stroke-width="1.0" stroke-linejoin="round" />
<polyline points="496.0,225.0 496.5,224.9 497.0,224.9 497.5,224.8 498.0,224.7 498.5,224.7 499.0,224.6 499.5,224.5 500.0,224.4 500.5,224.4 501.0,224.3 501.5,224.1 502.0,224.0 502.5,223.8 503.0,223.5 503.5,223.2 504.0,222.8 504.5,222.4 505.0,222.0 505.5,221.5 506.0,220.9 506.5,220.5 507.0,221.0 507.5,222.3 508.0,224.1 508.5,226.0 509.0,228.7 509.5,231.6 510.0,233.0 510.5,232.4 511.0,230.7 511.5,229.1 512.0,228.0 512.5,227.0 513.0,226.5 513.5,226.3 514.0,226.2 514.5,226.1 515.0,226.0 515.5,226.0 516.0,226.0 516.5,225.9 517.0,225.8 517.5,225.8 518.0,225.7 518.5,225.8 519.0,225.7 519.5,225.7 520.0,225.6 520.5,225.7 521.0,225.8 521.5,225.8 522.0,225.8 522.5,225.7 523.0,225.7 523.5,225.7 524.0,225.8 524.5,225.7 525.0,225.7 525.5,225.6 526.0,225.6 526.5,225.6 527.0,225.6 527.5,225.7 528.0,225.6 528.5,225.6 529.0,225.6 529.5,225.6 530.0,225.6 530.5,225.6 531.0,225.6 531.5,225.6 532.0,225.6 532.5,225.5 533.0,225.5 533.5,225.5 534.0,225.5 534.5,225.4 535.0,225.4 535.5,225.3 536.0,225.3 536.5,225.3 537.0,225.3 537.5,225.3 538.0,225.2 538.5,225.2 539.0,225.1 539.5,225.1 540.0,225.1 540.5,225.1 541.0,225.0 541.5,225.0 542.0,224.9 542.5,224.9 543.0,224.9 543.5,225.0 544.0,224.9 544.5,224.9 545.0,224.9 545.5,224.9 546.0,225.0 546.5,225.0 547.0,225.0 547.5,225.0 548.0,224.9 548.5,225.0 549.0,225.0 549.5,225.1 550.0,225.2 550.5,225.3 551.0,225.6 551.5,226.0 552.0,226.4 552.5,227.0 553.0,227.5 553.5,228.0 554.0,228.8 554.5,229.9 555.0,230.9 555.5,231.7 556.0,232.0 556.5,231.8 557.0,231.1 557.5,230.1 558.0,229.1 558.5,228.5 559.0,228.0 559.5,227.7 560.0,227.4 560.5,227.0 561.0,226.8 561.5,226.6 562.0,226.5 562.5,226.4 563.0,226.1 563.5,226.0 564.0,225.9 564.5,225.8 565.0,225.8 565.5,225.7 566.0,225.7 566.5,225.6 567.0,225.7 567.5,225.7 568.0,225.7 568.5,225.7 569.0,225.7 569.5,225.7 570.0,225.6 570.5,225.6 571.0,225.7 571.5,225.7 572.0,225.8 572.5,225.7 573.0,225.7 573.5,225.8 574.0,225.8 574.5,225.9 575.0,225.9 575.5,226.0 576.0,226.0 576.5,226.1 577.0,226.2 577.5,226.2 578.0,226.3 578.5,226.4 579.0,226.6 579.5,226.8 580.0,227.1 580.5,227.3 581.0,227.5 581.5,227.8 582.0,228.1 582.5,228.5 583.0,228.8 583.5,229.3 584.0,229.7 584.5,230.1 585.0,230.4 585.5,230.7 586.0,230.9 586.5,231.2 587.0,231.4 587.5,231.3 588.0,231.3 588.5,231.2 589.0,231.1 589.5,230.9 590.0,230.8 590.5,230.5 591.0,230.3 591.5,230.1 592.0,230.0 592.5,229.7 593.0,229.5 593.5,229.2 594.0,229.0 594.5,228.8 595.0,228.5 595.5,228.3 596.0,228.0 596.5,227.8 597.0,227.5 597.5,227.3 598.0,227.0 598.5,226.9 599.0,226.8 599.5,226.6 600.0,226.5 600.5,226.4 601.0,226.3 601.5,226.2 602.0,226.2 602.5,226.1 603.0,226.1 603.5,226.1 604.0,226.1 604.5,226.1 605.0,226.1 605.5,226.1 606.0,226.0 606.5,226.0 607.0,225.9 607.5,225.9 608.0,225.8 608.5,225.9 609.0,225.9 609.5,225.9 610.0,225.8 610.5,225.8 611.0,225.8 611.5,225.8 612.0,225.8 612.5,225.9 613.0,225.8 613.5,225.8 614.0,225.8 614.5,226.0 615.0,226.0 615.5,226.0 616.0,226.1 616.5,226.2 617.0,226.2 617.5,226.3 618.0,226.3 618.5,226.4 619.0,226.5 619.5,226.5 620.0,226.5 620.5,226.5 621.0,226.5 621.5,226.6 622.0,226.6 622.5,226.6 623.0,226.7 623.5,226.8 624.0,226.8 624.5,226.8 625.0,226.9 625.5,226.9 626.0,226.9 626.5,226.9 627.0,227.0 627.5,227.0 628.0,227.0 628.5,227.0 629.0,227.0 629.5,226.9 630.0,227.0 630.5,227.0 631.0,227.1 631.5,227.1 632.0,227.0 632.5,227.0 633.0,226.9 633.5,226.9 634.0,226.9 634.5,226.8 635.0,226.8 635.5,226.8 636.0,226.8 636.5,226.7 637.0,226.7 637.5,226.7 638.0,226.6 638.5,226.6 639.0,226.5 639.5,226.5 640.0,226.5 640.5,226.5 641.0,226.4 641.5,226.4 642.0,226.4 642.5,226.4 643.0,226.4 643.5,226.4 644.0,226.4 644.5,226.4 645.0,226.3 645.5,226.3 646.0,226.2 646.5,226.3 647.0,226.3 647.5,226.3 648.0,226.3 648.5,226.2 649.0,226.2 649.5,226.2 650.0,226.2 650.5,226.3 651.0,226.3 651.5,226.2 652.0,226.2 652.5,226.3 653.0,226.4 653.5,226.4 654.0,226.5 654.5,226.5 655.0,226.6 655.5,226.7 656.0,226.8 656.5,226.8 657.0,227.0 657.5,227.0" fill="none" stroke="#5a9fd6" stroke-width="0.9" stroke-linejoin="round" />
<polyline points="496.0,239.0 496.5,238.9 497.0,238.9 497.5,238.8 498.0,238.7 498.5,238.7 499.0,238.6 499.5,238.5 500.0,238.4 500.5,238.4 501.0,238.3 501.5,238.1 502.0,238.0 502.5,237.8 503.0,237.6 503.5,237.3 504.0,236.9 504.5,236.5 505.0,236.0 505.5,235.2 506.0,233.9 506.5,233.0 507.0,233.4 507.5,235.1 508.0,237.5 508.5,240.0 509.0,243.0 509.5,246.1 510.0,247.7 510.5,247.2 511.0,245.6 511.5,244.1 512.0,243.0 512.5,242.0 513.0,241.4 513.5,241.2 514.0,241.1 514.5,241.0 515.0,241.0 515.5,241.0 516.0,241.0 516.5,240.9 517.0,241.0 517.5,241.0 518.0,241.1 518.5,241.2 519.0,241.2 519.5,241.2 520.0,241.3 520.5,241.4 521.0,241.5 521.5,241.5 522.0,241.4 522.5,241.5 523.0,241.7 523.5,241.7 524.0,241.7 524.5,241.7 525.0,241.8 525.5,241.8 526.0,241.8 526.5,241.8 527.0,241.9 527.5,241.9 528.0,241.9 528.5,242.0 529.0,242.0 529.5,242.0 530.0,242.0 530.5,241.9 531.0,242.0 531.5,241.9 532.0,241.9 532.5,241.8 533.0,241.8 533.5,241.8 534.0,241.9 534.5,241.9 535.0,241.8 535.5,241.7 536.0,241.7 536.5,241.7 537.0,241.7 537.5,241.7 538.0,241.6 538.5,241.6 539.0,241.6 539.5,241.6 540.0,241.4 540.5,241.4 541.0,241.2 541.5,241.3 542.0,241.3 542.5,241.3 543.0,241.2 543.5,241.2 544.0,241.1 544.5,241.1 545.0,241.0 545.5,241.1 546.0,241.1 546.5,241.0 547.0,241.0 547.5,241.0 548.0,241.1 548.5,241.1 549.0,241.1 549.5,241.1 550.0,241.2 550.5,241.3 551.0,241.4 551.5,241.5 552.0,241.9 552.5,242.3 553.0,242.5 553.5,242.8 554.0,243.2 554.5,243.7 555.0,244.2 555.5,244.7 556.0,244.8 556.5,244.7 557.0,244.2 557.5,243.5 558.0,242.9 558.5,242.4 559.0,242.0 559.5,241.7 560.0,241.6 560.5,241.4 561.0,241.1 561.5,240.8 562.0,240.7 562.5,240.6 563.0,240.5 563.5,240.4 564.0,240.3 564.5,240.2 565.0,240.1 565.5,240.1 566.0,240.1 566.5,240.1 567.0,240.1 567.5,240.1 568.0,240.1 568.5,240.1 569.0,240.1 569.5,240.1 570.0,240.1 570.5,240.1 571.0,240.0 571.5,240.0 572.0,240.0 572.5,240.0 573.0,240.1 573.5,240.1 574.0,240.2 574.5,240.2 575.0,240.3 575.5,240.3 576.0,240.5 576.5,240.7 577.0,240.9 577.5,241.1 578.0,241.4 578.5,241.7 579.0,242.1 579.5,242.5 580.0,243.1 580.5,243.6 581.0,244.1 581.5,244.6 582.0,245.2 582.5,245.9 583.0,246.5 583.5,247.3 584.0,247.9 584.5,248.5 585.0,249.0 585.5,249.6 586.0,250.0 586.5,250.3 587.0,250.5 587.5,250.5 588.0,250.4 588.5,250.3 589.0,250.1 589.5,249.7 590.0,249.4 590.5,248.9 591.0,248.5 591.5,248.1 592.0,247.7 592.5,247.3 593.0,247.0 593.5,246.7 594.0,246.3 594.5,245.9 595.0,245.4 595.5,245.0 596.0,244.6 596.5,244.2 597.0,243.9 597.5,243.5 598.0,243.3 598.5,243.1 599.0,242.9 599.5,242.6 600.0,242.4 600.5,242.3 601.0,242.1 601.5,242.0 602.0,241.9 602.5,241.8 603.0,241.7 603.5,241.6 604.0,241.6 604.5,241.6 605.0,241.5 605.5,241.5 606.0,241.4 606.5,241.4 607.0,241.4 607.5,241.3 608.0,241.3 608.5,241.2 609.0,241.1 609.5,241.1 610.0,241.1 610.5,241.1 611.0,241.1 611.5,241.0 612.0,240.9 612.5,240.9 613.0,240.8 613.5,240.8 614.0,240.7 614.5,240.7 615.0,240.6 615.5,240.7 616.0,240.6 616.5,240.6 617.0,240.5 617.5,240.4 618.0,240.4 618.5,240.4 619.0,240.5 619.5,240.5 620.0,240.6 620.5,240.8 621.0,240.9 621.5,241.1 622.0,241.2 622.5,241.4 623.0,241.5 623.5,241.8 624.0,242.0 624.5,242.2 625.0,242.3 625.5,242.5 626.0,242.8 626.5,243.0 627.0,243.1 627.5,243.2 628.0,243.4 628.5,243.5 629.0,243.6 629.5,243.7 630.0,243.9 630.5,243.9 631.0,243.8 631.5,243.8 632.0,243.8 632.5,243.7 633.0,243.7 633.5,243.6 634.0,243.6 634.5,243.5 635.0,243.5 635.5,243.4 636.0,243.3 636.5,243.1 637.0,243.0 637.5,242.9 638.0,242.8 638.5,242.7 639.0,242.6 639.5,242.6 640.0,242.5 640.5,242.4 641.0,242.4 641.5,242.4 642.0,242.4 642.5,242.3 643.0,242.3 643.5,242.2 644.0,242.2 644.5,242.2 645.0,242.2 645.5,242.2 646.0,242.2 646.5,242.2 647.0,242.1 647.5,242.1 648.0,242.1 648.5,242.1 649.0,242.0 649.5,242.0 650.0,242.0 650.5,242.0 651.0,242.0 651.5,242.0 652.0,242.0 652.5,241.9 653.0,241.9 653.5,241.8 654.0,241.9 654.5,241.8 655.0,241.7 655.5,241.7 656.0,241.7 656.5,241.6 657.0,241.7 657.5,241.6" fill="none" stroke="#5b9bcc" stroke-width="0.9" stroke-linejoin="round" />
<polyline points="496.0,253.5 496.5,253.4 497.0,253.3 497.5,253.2 498.0,253.1 498.5,252.9 499.0,252.8 499.5,252.7 500.0,252.6 500.5,252.5 501.0,252.3 501.5,252.2 502.0,252.0 502.5,251.8 503.0,251.6 503.5,251.3 504.0,251.0 504.5,250.5 505.0,250.0 505.5,249.0 506.0,247.4 506.5,246.2 507.0,246.6 507.5,248.8 508.0,251.8 508.5,255.0 509.0,258.9 509.5,263.0 510.0,265.0 510.5,264.1 511.0,261.8 511.5,259.5 512.0,258.0 512.5,256.8 513.0,256.2 513.5,256.1 514.0,256.0 514.5,256.0 515.0,256.0 515.5,256.0 516.0,256.1 516.5,256.0 517.0,256.1 517.5,256.2 518.0,256.3 518.5,256.5 519.0,256.6 519.5,256.6 520.0,256.6 520.5,256.6 521.0,256.8 521.5,256.9 522.0,257.0 522.5,257.0 523.0,257.1 523.5,257.3 524.0,257.4 524.5,257.4 525.0,257.5 525.5,257.6 526.0,257.6 526.5,257.7 527.0,257.8 527.5,257.9 528.0,257.8 528.5,257.9 529.0,257.9 529.5,258.0 530.0,258.0 530.5,258.1 531.0,258.0 531.5,258.0 532.0,257.9 532.5,258.0 533.0,258.0 533.5,258.0 534.0,258.0 534.5,257.9 535.0,257.8 535.5,257.8 536.0,257.9 536.5,257.9 537.0,257.9 537.5,257.8 538.0,257.7 538.5,257.7 539.0,257.6 539.5,257.6 540.0,257.6 540.5,257.6 541.0,257.6 541.5,257.5 542.0,257.4 542.5,257.3 543.0,257.3 543.5,257.3 544.0,257.2 544.5,257.2 545.0,257.2 545.5,257.1 546.0,257.1 546.5,257.0 547.0,256.9 547.5,257.0 548.0,257.0 548.5,257.0 549.0,256.9 549.5,257.0 550.0,257.0 550.5,257.1 551.0,257.2 551.5,257.3 552.0,257.5 552.5,257.8 553.0,258.0 553.5,258.3 554.0,258.7 554.5,259.4 555.0,259.9 555.5,260.4 556.0,260.5 556.5,260.5 557.0,260.0 557.5,259.3 558.0,258.7 558.5,258.2 559.0,257.9 559.5,257.7 560.0,257.6 560.5,257.4 561.0,257.2 561.5,257.1 562.0,256.9 562.5,256.9 563.0,256.8 563.5,256.8 564.0,256.7 564.5,256.6 565.0,256.5 565.5,256.6 566.0,256.6 566.5,256.5 567.0,256.4 567.5,256.3 568.0,256.2 568.5,256.3 569.0,256.2 569.5,256.3 570.0,256.4 570.5,256.4 571.0,256.5 571.5,256.4 572.0,256.4 572.5,256.5 573.0,256.5 573.5,256.4 574.0,256.5 574.5,256.6 575.0,256.7 575.5,256.9 576.0,257.1 576.5,257.3 577.0,257.4 577.5,257.7 578.0,258.1 578.5,258.6 579.0,259.2 579.5,259.9 580.0,260.7 580.5,261.4 581.0,262.1 581.5,262.6 582.0,263.4 582.5,264.1 583.0,265.1 583.5,265.9 584.0,266.6 584.5,267.4 585.0,268.1 585.5,268.8 586.0,269.3 586.5,269.6 587.0,269.9 587.5,269.9 588.0,269.9 588.5,269.8 589.0,269.6 589.5,269.3 590.0,269.0 590.5,268.5 591.0,268.0 591.5,267.5 592.0,267.1 592.5,266.7 593.0,266.1 593.5,265.5 594.0,264.9 594.5,264.2 595.0,263.5 595.5,262.7 596.0,262.0 596.5,261.3 597.0,260.7 597.5,260.1 598.0,259.6 598.5,259.1 599.0,258.7 599.5,258.4 600.0,258.0 600.5,257.8 601.0,257.6 601.5,257.5 602.0,257.3 602.5,257.1 603.0,256.8 603.5,256.7 604.0,256.7 604.5,256.7 605.0,256.6 605.5,256.4 606.0,256.3 606.5,256.3 607.0,256.4 607.5,256.3 608.0,256.3 608.5,256.2 609.0,256.3 609.5,256.2 610.0,256.1 610.5,256.0 611.0,256.0 611.5,256.1 612.0,256.0 612.5,255.9 613.0,255.9 613.5,255.9 614.0,255.8 614.5,255.7 615.0,255.7 615.5,255.6 616.0,255.5 616.5,255.5 617.0,255.5 617.5,255.6 618.0,255.6 618.5,255.8 619.0,255.8 619.5,255.8 620.0,255.9 620.5,256.0 621.0,256.2 621.5,256.3 622.0,256.7 622.5,256.9 623.0,257.2 623.5,257.4 624.0,257.6 624.5,257.7 625.0,257.9 625.5,258.2 626.0,258.6 626.5,258.8 627.0,259.1 627.5,259.2 628.0,259.4 628.5,259.5 629.0,259.6 629.5,259.6 630.0,259.7 630.5,259.7 631.0,259.8 631.5,259.8 632.0,259.7 632.5,259.6 633.0,259.5 633.5,259.5 634.0,259.3 634.5,258.9 635.0,258.7 635.5,258.5 636.0,258.5 636.5,258.3 637.0,258.2 637.5,257.9 638.0,257.9 638.5,257.7 639.0,257.7 639.5,257.6 640.0,257.6 640.5,257.5 641.0,257.4 641.5,257.4 642.0,257.3 642.5,257.3 643.0,257.2 643.5,257.3 644.0,257.3 644.5,257.4 645.0,257.2 645.5,257.2 646.0,257.1 646.5,257.1 647.0,257.0 647.5,257.0 648.0,257.0 648.5,257.0 649.0,257.1 649.5,257.0 650.0,256.9 650.5,256.8 651.0,256.8 651.5,256.8 652.0,256.8 652.5,256.9 653.0,256.9 653.5,256.8 654.0,256.8 654.5,256.9 655.0,256.9 655.5,256.9 656.0,256.9 656.5,256.9 657.0,256.8 657.5,256.8" fill="none" stroke="#5e96c0" stroke-width="0.9" stroke-linejoin="round" />
<polyline points="496.0,263.6 496.5,263.5 497.0,263.5 497.5,263.4 498.0,263.3 498.5,263.3 499.0,263.2 499.5,263.1 500.0,263.0 500.5,262.9 501.0,262.8 501.5,262.7 502.0,262.5 502.5,262.3 503.0,262.0 503.5,261.6 504.0,261.2 504.5,260.6 505.0,260.0 505.5,259.0 506.0,257.6 506.5,256.5 507.0,256.6 507.5,258.0 508.0,260.0 508.5,262.0 509.0,264.3 509.5,266.7 510.0,268.0 510.5,267.9 511.0,267.2 511.5,266.4 512.0,266.0 512.5,265.8 513.0,265.7 513.5,265.8 514.0,265.9 514.5,265.9 515.0,266.0 515.5,266.1 516.0,266.1 516.5,266.3 517.0,266.5 517.5,266.6 518.0,266.8 518.5,266.8 519.0,267.0 519.5,267.0 520.0,267.1 520.5,267.1 521.0,267.2 521.5,267.4 522.0,267.6 522.5,267.6 523.0,267.7 523.5,267.7 524.0,267.9 524.5,267.9 525.0,268.0 525.5,268.1 526.0,268.2 526.5,268.2 527.0,268.3 527.5,268.4 528.0,268.4 528.5,268.6 529.0,268.8 529.5,268.8 530.0,268.7 530.5,268.5 531.0,268.5 531.5,268.5 532.0,268.5 532.5,268.5 533.0,268.5 533.5,268.6 534.0,268.6 534.5,268.6 535.0,268.6 535.5,268.7 536.0,268.7 536.5,268.7 537.0,268.5 537.5,268.5 538.0,268.4 538.5,268.5 539.0,268.6 539.5,268.6 540.0,268.5 540.5,268.5 541.0,268.4 541.5,268.4 542.0,268.3 542.5,268.3 543.0,268.1 543.5,268.1 544.0,268.2 544.5,268.3 545.0,268.2 545.5,268.2 546.0,268.0 546.5,268.0 547.0,267.9 547.5,268.1 548.0,268.0 548.5,268.1 549.0,268.0 549.5,268.1 550.0,268.1 550.5,268.1 551.0,268.2 551.5,268.2 552.0,268.1 552.5,268.3 553.0,268.5 553.5,268.9 554.0,269.2 554.5,269.7 555.0,270.1 555.5,270.2 556.0,270.3 556.5,270.2 557.0,270.0 557.5,269.5 558.0,269.0 558.5,268.7 559.0,268.5 559.5,268.3 560.0,268.0 560.5,267.9 561.0,267.8 561.5,267.7 562.0,267.6 562.5,267.5 563.0,267.4 563.5,267.3 564.0,267.2 564.5,267.1 565.0,267.1 565.5,267.0 566.0,266.9 566.5,266.9 567.0,266.9 567.5,266.9 568.0,267.0 568.5,267.1 569.0,267.1 569.5,267.1 570.0,267.1 570.5,267.1 571.0,267.1 571.5,267.1 572.0,267.3 572.5,267.4 573.0,267.4 573.5,267.3 574.0,267.3 574.5,267.4 575.0,267.6 575.5,267.9 576.0,267.9 576.5,268.1 577.0,268.4 577.5,268.9 578.0,269.4 578.5,270.1 579.0,270.9 579.5,271.7 580.0,272.6 580.5,273.4 581.0,274.1 581.5,274.7 582.0,275.4 582.5,276.3 583.0,277.2 583.5,278.0 584.0,278.9 584.5,279.7 585.0,280.6 585.5,281.3 586.0,281.9 586.5,282.3 587.0,282.5 587.5,282.6 588.0,282.6 588.5,282.4 589.0,282.1 589.5,281.7 590.0,281.2 590.5,280.7 591.0,280.0 591.5,279.5 592.0,279.0 592.5,278.6 593.0,278.1 593.5,277.4 594.0,276.8 594.5,276.1 595.0,275.4 595.5,274.8 596.0,274.0 596.5,273.4 597.0,272.6 597.5,272.0 598.0,271.6 598.5,271.1 599.0,270.6 599.5,270.4 600.0,270.1 600.5,269.9 601.0,269.6 601.5,269.4 602.0,269.2 602.5,269.0 603.0,268.9 603.5,268.8 604.0,268.8 604.5,268.8 605.0,268.8 605.5,268.8 606.0,268.6 606.5,268.5 607.0,268.4 607.5,268.3 608.0,268.3 608.5,268.4 609.0,268.4 609.5,268.3 610.0,268.2 610.5,268.2 611.0,268.1 611.5,268.0 612.0,268.0 612.5,267.9 613.0,267.8 613.5,267.8 614.0,267.8 614.5,267.8 615.0,267.8 615.5,267.8 616.0,267.7 616.5,267.7 617.0,267.7 617.5,267.8 618.0,267.7 618.5,267.9 619.0,267.9 619.5,268.1 620.0,268.1 620.5,268.1 621.0,268.3 621.5,268.3 622.0,268.5 622.5,268.6 623.0,268.9 623.5,269.1 624.0,269.3 624.5,269.4 625.0,269.7 625.5,269.8 626.0,270.2 626.5,270.2 627.0,270.4 627.5,270.5 628.0,270.7 628.5,270.7 629.0,270.8 629.5,270.9 630.0,270.9 630.5,270.9 631.0,270.9 631.5,271.0 632.0,270.9 632.5,270.9 633.0,270.9 633.5,270.8 634.0,270.8 634.5,270.6 635.0,270.6 635.5,270.3 636.0,270.1 636.5,270.0 637.0,270.0 637.5,269.9 638.0,269.8 638.5,269.8 639.0,269.7 639.5,269.5 640.0,269.3 640.5,269.3 641.0,269.4 641.5,269.4 642.0,269.4 642.5,269.4 643.0,269.4 643.5,269.3 644.0,269.4 644.5,269.3 645.0,269.1 645.5,269.1 646.0,269.1 646.5,269.2 647.0,269.2 647.5,269.2 648.0,269.2 648.5,269.1 649.0,269.2 649.5,269.1 650.0,269.1 650.5,269.0 651.0,269.0 651.5,269.0 652.0,268.9 652.5,268.8 653.0,268.8 653.5,268.9 654.0,268.8 654.5,268.9 655.0,268.8 655.5,268.9 656.0,269.0 656.5,269.0 657.0,269.0 657.5,268.9" fill="none" stroke="#6592b2" stroke-width="0.9" stroke-linejoin="round" />
<polyline points="496.0,273.2 496.5,273.1 497.0,273.0 497.5,272.9 498.0,272.9 498.5,272.8 499.0,272.7 499.5,272.6 500.0,272.5 500.5,272.4 501.0,272.3 501.5,272.2 502.0,272.0 502.5,271.8 503.0,271.6 503.5,271.3 504.0,271.0 504.5,270.5 505.0,270.0 505.5,269.1 506.0,267.8 506.5,266.7 507.0,266.7 507.5,267.7 508.0,269.3 508.5,271.0 509.0,273.1 509.5,275.3 510.0,276.7 510.5,276.9 511.0,276.6 511.5,276.2 512.0,276.0 512.5,276.2 513.0,276.5 513.5,276.7 514.0,276.8 514.5,276.9 515.0,277.0 515.5,277.1 516.0,277.1 516.5,277.1 517.0,277.2 517.5,277.4 518.0,277.6 518.5,277.8 519.0,277.9 519.5,278.0 520.0,278.0 520.5,278.2 521.0,278.1 521.5,278.2 522.0,278.2 522.5,278.4 523.0,278.4 523.5,278.5 524.0,278.5 524.5,278.7 525.0,278.7 525.5,278.8 526.0,278.9 526.5,278.9 527.0,279.0 527.5,279.1 528.0,279.1 528.5,279.1 529.0,279.2 529.5,279.1 530.0,279.2 530.5,279.3 531.0,279.2 531.5,279.3 532.0,279.1 532.5,279.3 533.0,279.2 533.5,279.3 534.0,279.2 534.5,279.1 535.0,279.1 535.5,279.2 536.0,279.2 536.5,279.3 537.0,279.3 537.5,279.2 538.0,279.2 538.5,279.1 539.0,279.0 539.5,279.1 540.0,279.0 540.5,279.0 541.0,279.0 541.5,278.9 542.0,278.9 542.5,278.8 543.0,278.5 543.5,278.5 544.0,278.4 544.5,278.6 545.0,278.6 545.5,278.7 546.0,278.6 546.5,278.7 547.0,278.6 547.5,278.7 548.0,278.7 548.5,278.7 549.0,278.6 549.5,278.6 550.0,278.6 550.5,278.8 551.0,278.7 551.5,278.8 552.0,278.9 552.5,279.1 553.0,279.2 553.5,279.3 554.0,279.7 554.5,280.1 555.0,280.7 555.5,280.9 556.0,281.0 556.5,280.9 557.0,280.6 557.5,280.1 558.0,279.6 558.5,279.2 559.0,279.0 559.5,278.9 560.0,278.7 560.5,278.4 561.0,278.2 561.5,278.0 562.0,277.9 562.5,277.9 563.0,277.9 563.5,278.0 564.0,277.9 564.5,277.9 565.0,277.9 565.5,277.9 566.0,277.8 566.5,278.0 567.0,277.9 567.5,278.0 568.0,277.9 568.5,278.0 569.0,278.0 569.5,278.0 570.0,277.9 570.5,278.0 571.0,278.0 571.5,278.2 572.0,278.2 572.5,278.2 573.0,278.2 573.5,278.2 574.0,278.4 574.5,278.5 575.0,278.7 575.5,278.9 576.0,279.0 576.5,279.3 577.0,279.7 577.5,280.1 578.0,280.7 578.5,281.3 579.0,282.0 579.5,282.6 580.0,283.4 580.5,284.2 581.0,285.1 581.5,285.8 582.0,286.5 582.5,287.3 583.0,288.2 583.5,289.0 584.0,289.7 584.5,290.3 585.0,290.9 585.5,291.6 586.0,292.2 586.5,292.9 587.0,293.1 587.5,293.2 588.0,293.0 588.5,292.8 589.0,292.5 589.5,292.4 590.0,292.1 590.5,291.6 591.0,291.0 591.5,290.5 592.0,290.1 592.5,289.5 593.0,289.0 593.5,288.3 594.0,287.7 594.5,287.1 595.0,286.4 595.5,285.8 596.0,285.1 596.5,284.5 597.0,283.8 597.5,283.3 598.0,282.8 598.5,282.3 599.0,281.8 599.5,281.3 600.0,280.9 600.5,280.6 601.0,280.5 601.5,280.2 602.0,280.1 602.5,279.9 603.0,279.9 603.5,279.7 604.0,279.7 604.5,279.5 605.0,279.4 605.5,279.3 606.0,279.2 606.5,279.2 607.0,279.1 607.5,279.1 608.0,279.0 608.5,278.8 609.0,278.7 609.5,278.7 610.0,278.7 610.5,278.8 611.0,278.5 611.5,278.5 612.0,278.4 612.5,278.5 613.0,278.4 613.5,278.3 614.0,278.0 614.5,278.0 615.0,278.1 615.5,278.2 616.0,278.3 616.5,278.1 617.0,278.0 617.5,277.7 618.0,277.8 618.5,277.9 619.0,277.9 619.5,278.0 620.0,278.0 620.5,278.1 621.0,278.1 621.5,278.3 622.0,278.4 622.5,278.4 623.0,278.5 623.5,278.7 624.0,278.9 624.5,278.9 625.0,278.9 625.5,278.9 626.0,279.2 626.5,279.4 627.0,279.5 627.5,279.6 628.0,279.7 628.5,279.8 629.0,279.8 629.5,279.8 630.0,279.8 630.5,279.9 631.0,280.0 631.5,280.0 632.0,280.1 632.5,280.2 633.0,280.1 633.5,280.1 634.0,279.9 634.5,280.0 635.0,280.0 635.5,280.0 636.0,279.8 636.5,279.7 637.0,279.7 637.5,279.6 638.0,279.5 638.5,279.4 639.0,279.6 639.5,279.7 640.0,279.8 640.5,279.7 641.0,279.7 641.5,279.7 642.0,279.6 642.5,279.5 643.0,279.5 643.5,279.5 644.0,279.5 644.5,279.3 645.0,279.3 645.5,279.2 646.0,279.4 646.5,279.4 647.0,279.5 647.5,279.4 648.0,279.3 648.5,279.3 649.0,279.3 649.5,279.5 650.0,279.5 650.5,279.5 651.0,279.5 651.5,279.5 652.0,279.6 652.5,279.5 653.0,279.6 653.5,279.7 654.0,279.7 654.5,279.8 655.0,279.8 655.5,280.0 656.0,280.0 656.5,280.0 657.0,280.0 657.5,280.0" fill="none" stroke="#7090a6" stroke-width="0.9" stroke-linejoin="round" />
<polyline points="496.0,284.8 496.5,284.7 497.0,284.6 497.5,284.5 498.0,284.4 498.5,284.3 499.0,284.2 499.5,284.1 500.0,284.0 500.5,283.9 501.0,283.8 501.5,283.7 502.0,283.5 502.5,283.3 503.0,283.1 503.5,282.8 504.0,282.5 504.5,282.0 505.0,281.5 505.5,280.6 506.0,279.3 506.5,278.2 507.0,278.1 507.5,279.0 508.0,280.4 508.5,282.0 509.0,284.1 509.5,286.6 510.0,288.0 510.5,288.2 511.0,287.8 511.5,287.3 512.0,287.0 512.5,286.9 513.0,286.9 513.5,286.9 514.0,286.9 514.5,287.0 515.0,287.0 515.5,287.0 516.0,287.1 516.5,287.2 517.0,287.2 517.5,287.3 518.0,287.4 518.5,287.5 519.0,287.4 519.5,287.6 520.0,287.6 520.5,287.8 521.0,287.7 521.5,287.8 522.0,287.8 522.5,287.8 523.0,287.8 523.5,287.7 524.0,287.8 524.5,288.0 525.0,288.2 525.5,288.1 526.0,288.0 526.5,288.0 527.0,288.1 527.5,288.2 528.0,288.2 528.5,288.3 529.0,288.3 529.5,288.4 530.0,288.2 530.5,288.2 531.0,288.2 531.5,288.4 532.0,288.4 532.5,288.4 533.0,288.2 533.5,288.2 534.0,288.2 534.5,288.3 535.0,288.3 535.5,288.2 536.0,288.2 536.5,288.3 537.0,288.3 537.5,288.2 538.0,288.2 538.5,288.3 539.0,288.3 539.5,288.2 540.0,288.0 540.5,288.1 541.0,288.1 541.5,288.2 542.0,288.3 542.5,288.3 543.0,288.2 543.5,288.1 544.0,288.1 544.5,288.1 545.0,288.1 545.5,288.1 546.0,288.2 546.5,288.1 547.0,288.0 547.5,287.9 548.0,287.9 548.5,287.9 549.0,288.0 549.5,288.1 550.0,288.0 550.5,288.0 551.0,287.8 551.5,288.0 552.0,288.1 552.5,288.4 553.0,288.6 553.5,289.0 554.0,289.3 554.5,289.5 555.0,290.0 555.5,290.3 556.0,290.7 556.5,290.3 557.0,290.0 557.5,289.6 558.0,289.0 558.5,288.6 559.0,288.3 559.5,288.3 560.0,288.1 560.5,288.0 561.0,287.8 561.5,287.9 562.0,287.9 562.5,287.9 563.0,287.9 563.5,287.8 564.0,287.7 564.5,287.6 565.0,287.5 565.5,287.5 566.0,287.5 566.5,287.5 567.0,287.4 567.5,287.5 568.0,287.4 568.5,287.5 569.0,287.5 569.5,287.5 570.0,287.4 570.5,287.4 571.0,287.4 571.5,287.5 572.0,287.6 572.5,287.7 573.0,287.8 573.5,287.8 574.0,287.7 574.5,287.9 575.0,288.0 575.5,288.3 576.0,288.6 576.5,289.0 577.0,289.3 577.5,289.7 578.0,290.2 578.5,290.8 579.0,291.6 579.5,292.5 580.0,293.5 580.5,294.3 581.0,295.1 581.5,295.8 582.0,296.5 582.5,297.4 583.0,298.4 583.5,299.4 584.0,300.3 584.5,301.2 585.0,302.0 585.5,302.7 586.0,303.1 586.5,303.4 587.0,303.7 587.5,303.8 588.0,303.8 588.5,303.8 589.0,303.3 589.5,302.9 590.0,302.4 590.5,301.8 591.0,301.3 591.5,300.7 592.0,300.1 592.5,299.3 593.0,298.9 593.5,298.4 594.0,297.8 594.5,296.9 595.0,296.0 595.5,295.2 596.0,294.5 596.5,293.7 597.0,292.9 597.5,292.4 598.0,291.8 598.5,291.4 599.0,290.8 599.5,290.5 600.0,290.1 600.5,289.9 601.0,289.6 601.5,289.4 602.0,289.3 602.5,289.0 603.0,288.8 603.5,288.7 604.0,288.7 604.5,288.6 605.0,288.5 605.5,288.3 606.0,288.2 606.5,288.2 607.0,288.4 607.5,288.3 608.0,288.2 608.5,288.2 609.0,288.2 609.5,288.1 610.0,287.9 610.5,287.9 611.0,287.8 611.5,287.7 612.0,287.8 612.5,287.8 613.0,287.9 613.5,287.7 614.0,287.7 614.5,287.8 615.0,287.8 615.5,288.0 616.0,288.0 616.5,288.1 617.0,288.1 617.5,288.2 618.0,288.4 618.5,288.6 619.0,288.8 619.5,289.1 620.0,289.1 620.5,289.3 621.0,289.4 621.5,289.6 622.0,289.7 622.5,290.0 623.0,290.3 623.5,290.5 624.0,290.6 624.5,290.8 625.0,291.2 625.5,291.4 626.0,291.5 626.5,291.7 627.0,291.9 627.5,292.1 628.0,292.2 628.5,292.2 629.0,292.5 629.5,292.7 630.0,293.0 630.5,293.0 631.0,293.2 631.5,293.4 632.0,293.5 632.5,293.6 633.0,293.7 633.5,293.9 634.0,293.9 634.5,293.9 635.0,293.9 635.5,294.0 636.0,294.1 636.5,294.2 637.0,294.2 637.5,294.3 638.0,294.3 638.5,294.5 639.0,294.6 639.5,294.6 640.0,294.5 640.5,294.5 641.0,294.5 641.5,294.7 642.0,294.7 642.5,294.7 643.0,294.7 643.5,294.5 644.0,294.7 644.5,294.7 645.0,294.9 645.5,294.8 646.0,294.8 646.5,294.8 647.0,294.8 647.5,294.9 648.0,294.9 648.5,294.9 649.0,295.0 649.5,295.1 650.0,295.0 650.5,295.1 651.0,295.1 651.5,295.2 652.0,295.3 652.5,295.4 653.0,295.4 653.5,295.3 654.0,295.4 654.5,295.3 655.0,295.5 655.5,295.5 656.0,295.8 656.5,296.0 657.0,296.1 657.5,296.1" fill="none" stroke="#7e8a98" stroke-width="0.9" stroke-linejoin="round" />
<polyline points="496.0,295.0 496.5,294.9 497.0,294.9 497.5,294.8 498.0,294.7 498.5,294.7 499.0,294.6 499.5,294.5 500.0,294.4 500.5,294.4 501.0,294.3 501.5,294.1 502.0,294.0 502.5,293.8 503.0,293.6 503.5,293.3 504.0,293.0 504.5,292.5 505.0,292.0 505.5,291.2 506.0,290.0 506.5,289.0 507.0,288.9 507.5,289.5 508.0,290.7 508.5,292.0 509.0,293.7 509.5,295.7 510.0,297.0 510.5,297.5 511.0,297.5 511.5,297.5 512.0,297.5 512.5,297.7 513.0,297.8 513.5,297.9 514.0,297.9 514.5,298.0 515.0,298.0 515.5,298.0 516.0,298.2 516.5,298.2 517.0,298.4 517.5,298.4 518.0,298.4 518.5,298.3 519.0,298.3 519.5,298.5 520.0,298.4 520.5,298.5 521.0,298.4 521.5,298.5 522.0,298.5 522.5,298.6 523.0,298.6 523.5,298.8 524.0,298.7 524.5,298.8 525.0,298.9 525.5,299.0 526.0,299.1 526.5,299.0 527.0,298.9 527.5,298.9 528.0,299.1 528.5,299.1 529.0,299.1 529.5,298.9 530.0,299.0 530.5,298.9 531.0,298.9 531.5,298.8 532.0,298.7 532.5,298.9 533.0,299.0 533.5,299.3 534.0,299.1 534.5,299.2 535.0,298.9 535.5,298.9 536.0,298.9 536.5,298.9 537.0,298.9 537.5,299.0 538.0,299.0 538.5,299.0 539.0,298.7 539.5,298.9 540.0,298.9 540.5,298.9 541.0,298.6 541.5,298.5 542.0,298.5 542.5,298.6 543.0,298.5 543.5,298.6 544.0,298.5 544.5,298.6 545.0,298.4 545.5,298.5 546.0,298.5 546.5,298.5 547.0,298.4 547.5,298.3 548.0,298.3 548.5,298.3 549.0,298.4 549.5,298.6 550.0,298.6 550.5,298.6 551.0,298.7 551.5,298.7 552.0,298.7 552.5,298.8 553.0,299.1 553.5,299.3 554.0,299.5 554.5,299.9 555.0,300.6 555.5,301.0 556.0,301.1 556.5,300.9 557.0,300.5 557.5,299.9 558.0,299.4 558.5,299.1 559.0,299.0 559.5,299.0 560.0,298.7 560.5,298.6 561.0,298.5 561.5,298.3 562.0,298.5 562.5,298.5 563.0,298.7 563.5,298.5 564.0,298.5 564.5,298.5 565.0,298.7 565.5,298.8 566.0,298.7 566.5,298.7 567.0,298.8 567.5,298.9 568.0,298.7 568.5,298.6 569.0,298.5 569.5,298.7 570.0,298.8 570.5,298.9 571.0,298.9 571.5,299.0 572.0,299.2 572.5,299.2 573.0,299.2 573.5,299.2 574.0,299.5 574.5,299.6 575.0,299.8 575.5,299.8 576.0,300.0 576.5,300.3 577.0,300.6 577.5,301.0 578.0,301.4 578.5,302.0 579.0,302.7 579.5,303.5 580.0,304.4 580.5,305.2 581.0,306.1 581.5,306.8 582.0,307.8 582.5,308.6 583.0,309.5 583.5,310.7 584.0,311.9 584.5,313.0 585.0,313.7 585.5,314.5 586.0,315.2 586.5,315.9 587.0,316.2 587.5,316.2 588.0,316.0 588.5,315.9 589.0,315.6 589.5,315.0 590.0,314.5 590.5,314.1 591.0,313.5 591.5,312.7 592.0,311.9 592.5,311.4 593.0,310.9 593.5,310.4 594.0,309.6 594.5,308.8 595.0,308.0 595.5,307.3 596.0,306.5 596.5,305.6 597.0,304.8 597.5,304.1 598.0,303.6 598.5,303.1 599.0,302.6 599.5,302.2 600.0,301.9 600.5,301.8 601.0,301.7 601.5,301.4 602.0,301.4 602.5,301.1 603.0,300.9 603.5,300.6 604.0,300.5 604.5,300.6 605.0,300.6 605.5,300.7 606.0,300.6 606.5,300.5 607.0,300.2 607.5,300.0 608.0,300.1 608.5,300.0 609.0,300.0 609.5,300.0 610.0,300.1 610.5,300.0 611.0,299.8 611.5,299.7 612.0,299.9 612.5,299.9 613.0,299.9 613.5,299.9 614.0,300.0 614.5,300.3 615.0,300.3 615.5,300.3 616.0,300.1 616.5,300.3 617.0,300.4 617.5,300.7 618.0,300.8 618.5,301.0 619.0,301.2 619.5,301.4 620.0,301.4 620.5,301.5 621.0,301.6 621.5,301.9 622.0,302.0 622.5,302.2 623.0,302.4 623.5,302.7 624.0,303.2 624.5,303.4 625.0,303.7 625.5,303.7 626.0,304.0 626.5,304.2 627.0,304.5 627.5,304.9 628.0,305.1 628.5,305.6 629.0,305.8 629.5,306.2 630.0,306.2 630.5,306.2 631.0,306.2 631.5,306.4 632.0,306.5 632.5,306.6 633.0,306.8 633.5,306.8 634.0,307.0 634.5,307.1 635.0,307.1 635.5,307.0 636.0,307.0 636.5,307.2 637.0,307.3 637.5,307.3 638.0,307.3 638.5,307.3 639.0,307.2 639.5,307.2 640.0,307.4 640.5,307.5 641.0,307.5 641.5,307.6 642.0,307.8 642.5,307.9 643.0,307.7 643.5,307.5 644.0,307.5 644.5,307.6 645.0,307.7 645.5,307.6 646.0,307.7 646.5,307.6 647.0,307.7 647.5,307.7 648.0,307.7 648.5,307.5 649.0,307.4 649.5,307.3 650.0,307.6 650.5,307.7 651.0,307.8 651.5,307.7 652.0,307.7 652.5,307.9 653.0,307.8 653.5,308.0 654.0,308.0 654.5,308.2 655.0,308.4 655.5,308.5 656.0,308.5 656.5,308.4 657.0,308.6 657.5,308.7" fill="none" stroke="#8b8288" stroke-width="0.9" stroke-linejoin="round" />
<polyline points="496.0,305.0 496.5,304.9 497.0,304.9 497.5,304.8 498.0,304.7 498.5,304.6 499.0,304.6 499.5,304.5 500.0,304.4 500.5,304.3 501.0,304.2 501.5,304.1 502.0,304.0 502.5,303.9 503.0,303.7 503.5,303.5 504.0,303.2 504.5,302.9 505.0,302.5 505.5,301.9 506.0,300.9 506.5,300.1 507.0,300.1 507.5,300.7 508.0,301.8 508.5,303.0 509.0,304.5 509.5,306.3 510.0,307.5 510.5,308.2 511.0,308.6 511.5,308.8 512.0,309.0 512.5,309.1 513.0,309.0 513.5,309.0 514.0,309.0 514.5,309.0 515.0,309.0 515.5,309.0 516.0,309.5 516.5,309.6 517.0,309.6 517.5,309.2 518.0,309.1 518.5,309.0 519.0,309.1 519.5,309.0 520.0,309.2 520.5,309.5 521.0,309.7 521.5,309.9 522.0,309.6 522.5,309.6 523.0,309.3 523.5,309.5 524.0,309.3 524.5,309.3 525.0,309.3 525.5,309.4 526.0,309.5 526.5,309.6 527.0,309.8 527.5,309.6 528.0,309.5 528.5,309.3 529.0,309.4 529.5,309.6 530.0,309.7 530.5,309.5 531.0,309.4 531.5,309.4 532.0,309.6 532.5,309.5 533.0,309.5 533.5,309.6 534.0,309.5 534.5,309.4 535.0,309.3 535.5,309.2 536.0,309.1 536.5,309.1 537.0,309.3 537.5,309.2 538.0,309.1 538.5,309.0 539.0,308.9 539.5,308.8 540.0,308.9 540.5,308.9 541.0,309.0 541.5,309.0 542.0,308.9 542.5,308.7 543.0,308.6 543.5,308.5 544.0,308.5 544.5,308.5 545.0,308.4 545.5,308.4 546.0,308.3 546.5,308.5 547.0,308.6 547.5,308.8 548.0,308.9 548.5,308.9 549.0,308.7 549.5,308.6 550.0,308.6 550.5,308.6 551.0,308.6 551.5,308.5 552.0,308.7 552.5,308.8 553.0,308.9 553.5,308.9 554.0,309.5 554.5,309.8 555.0,310.2 555.5,309.9 556.0,310.1 556.5,309.9 557.0,309.9 557.5,309.6 558.0,309.3 558.5,309.1 559.0,309.0 559.5,308.9 560.0,308.6 560.5,308.4 561.0,308.5 561.5,308.4 562.0,308.5 562.5,308.2 563.0,308.3 563.5,308.1 564.0,308.2 564.5,308.0 565.0,308.0 565.5,307.9 566.0,308.0 566.5,308.0 567.0,308.1 567.5,308.2 568.0,308.2 568.5,308.3 569.0,308.2 569.5,308.5 570.0,308.6 570.5,308.7 571.0,308.7 571.5,308.9 572.0,309.2 572.5,309.2 573.0,309.3 573.5,309.2 574.0,309.3 574.5,309.6 575.0,309.9 575.5,310.2 576.0,310.5 576.5,310.7 577.0,311.2 577.5,311.8 578.0,312.6 578.5,313.5 579.0,314.7 579.5,316.6 580.0,318.4 580.5,320.4 581.0,322.3 581.5,324.4 582.0,326.2 582.5,327.9 583.0,329.8 583.5,332.1 584.0,334.7 584.5,337.2 585.0,339.7 585.5,342.0 586.0,344.1 586.5,345.6 587.0,346.6 587.5,346.8 588.0,346.2 588.5,345.3 589.0,344.1 589.5,342.6 590.0,341.0 590.5,339.4 591.0,338.1 591.5,336.6 592.0,335.1 592.5,333.4 593.0,331.8 593.5,330.2 594.0,328.5 594.5,326.8 595.0,325.2 595.5,323.9 596.0,322.3 596.5,320.5 597.0,318.9 597.5,317.4 598.0,316.0 598.5,314.3 599.0,313.0 599.5,311.7 600.0,310.9 600.5,310.3 601.0,310.1 601.5,309.9 602.0,309.6 602.5,309.4 603.0,309.2 603.5,309.3 604.0,309.1 604.5,309.0 605.0,308.6 605.5,308.7 606.0,308.8 606.5,308.8 607.0,308.5 607.5,308.5 608.0,308.3 608.5,308.3 609.0,308.4 609.5,308.5 610.0,308.8 610.5,308.9 611.0,308.7 611.5,308.4 612.0,308.1 612.5,308.2 613.0,308.2 613.5,308.3 614.0,308.1 614.5,308.3 615.0,308.2 615.5,308.4 616.0,308.2 616.5,308.4 617.0,308.3 617.5,308.4 618.0,308.5 618.5,308.9 619.0,309.3 619.5,309.4 620.0,309.7 620.5,309.8 621.0,310.1 621.5,310.0 622.0,310.2 622.5,310.2 623.0,310.5 623.5,310.7 624.0,311.0 624.5,311.4 625.0,311.8 625.5,312.3 626.0,312.9 626.5,313.5 627.0,314.1 627.5,314.7 628.0,315.0 628.5,315.5 629.0,315.8 629.5,316.3 630.0,316.7 630.5,316.8 631.0,317.3 631.5,317.6 632.0,317.8 632.5,317.7 633.0,317.5 633.5,317.5 634.0,317.4 634.5,317.3 635.0,317.5 635.5,317.6 636.0,317.5 636.5,317.4 637.0,317.3 637.5,317.4 638.0,317.4 638.5,317.3 639.0,317.1 639.5,317.0 640.0,316.7 640.5,316.6 641.0,316.6 641.5,316.7 642.0,316.7 642.5,316.6 643.0,316.9 643.5,317.0 644.0,316.9 644.5,316.7 645.0,316.7 645.5,316.8 646.0,316.7 646.5,316.5 647.0,316.3 647.5,316.2 648.0,316.2 648.5,316.1 649.0,316.0 649.5,315.8 650.0,315.8 650.5,315.9 651.0,315.9 651.5,315.9 652.0,316.1 652.5,316.3 653.0,316.6 653.5,316.6 654.0,316.8 654.5,317.0 655.0,317.5 655.5,318.0 656.0,318.3 656.5,318.7 657.0,319.0 657.5,319.4" fill="none" stroke="#9c7c7e" stroke-width="0.9" stroke-linejoin="round" />
<line x1="511.2" y1="221.5" x2="512.8" y2="318.7" stroke="#333" stroke-width="0.8" stroke-dasharray="2.2,1.6"/>
<line x1="556.2" y1="221" x2="558.2" y2="318" stroke="#333" stroke-width="0.8" stroke-dasharray="2.2,1.6"/>
<text x="503" y="327.3" font-size="9.3" text-anchor="start" fill="#111"  style="stroke-width:0.1px"><tspan font-size="7.5" dy="-0.6">*</tspan><tspan dy="0.6">CO</tspan><tspan font-size="6.4" dy="2.4" style="stroke-width:0.1px">atop</tspan></text>
<text x="543" y="328.4" font-size="9.3" text-anchor="start" fill="#111"  style="stroke-width:0.1px"><tspan font-size="7.5" dy="-0.6">*</tspan><tspan dy="0.6">CO</tspan><tspan font-size="6.4" dy="2.3" style="stroke-width:0.1px">bridge</tspan></text>
<text x="661" y="215.6" font-size="9" text-anchor="start" fill="#111"  style="stroke-width:0.1px">OCP</text>
<text x="659" y="230.2" font-size="9" text-anchor="start" fill="#111"  style="stroke-width:0.1px">-0.5 V</text>
<text x="659.6" y="322.8" font-size="9" text-anchor="start" fill="#111"  style="stroke-width:0.1px">-1.2 V</text>
<line x1="669.2" y1="232" x2="669.2" y2="306" stroke="#111" stroke-width="0.9"/>
<polygon points="667.4,305 671,305 669.2,311" fill="#111"/>
<rect x="496" y="201.7" width="161.79999999999995" height="150.5" fill="none" stroke="#333" stroke-width="1.0"/>
<line x1="657.80" y1="352.2" x2="657.80" y2="354.9" stroke="#333" stroke-width="1"/>
<text x="657.80" y="365" font-size="10" text-anchor="middle" fill="#111" >1200</text>
<line x1="641.62" y1="352.2" x2="641.62" y2="353.7" stroke="#333" stroke-width="1"/>
<line x1="625.44" y1="352.2" x2="625.44" y2="354.9" stroke="#333" stroke-width="1"/>
<text x="625.44" y="365" font-size="10" text-anchor="middle" fill="#111" >1400</text>
<line x1="609.26" y1="352.2" x2="609.26" y2="353.7" stroke="#333" stroke-width="1"/>
<line x1="593.08" y1="352.2" x2="593.08" y2="354.9" stroke="#333" stroke-width="1"/>
<text x="593.08" y="365" font-size="10" text-anchor="middle" fill="#111" >1600</text>
<line x1="576.90" y1="352.2" x2="576.90" y2="353.7" stroke="#333" stroke-width="1"/>
<line x1="560.72" y1="352.2" x2="560.72" y2="354.9" stroke="#333" stroke-width="1"/>
<text x="560.72" y="365" font-size="10" text-anchor="middle" fill="#111" >1800</text>
<line x1="544.54" y1="352.2" x2="544.54" y2="353.7" stroke="#333" stroke-width="1"/>
<line x1="528.36" y1="352.2" x2="528.36" y2="354.9" stroke="#333" stroke-width="1"/>
<text x="528.36" y="365" font-size="10" text-anchor="middle" fill="#111" >2000</text>
<line x1="512.18" y1="352.2" x2="512.18" y2="353.7" stroke="#333" stroke-width="1"/>
<line x1="496.00" y1="352.2" x2="496.00" y2="354.9" stroke="#333" stroke-width="1"/>
<text x="496.00" y="365" font-size="10" text-anchor="middle" fill="#111" >2200</text>
<text x="577" y="377.3" font-size="11.8" text-anchor="middle" fill="#111" >Wavenumber (cm<tspan font-size="8" dy="-4.6">-1</tspan><tspan dy="4.6">)</tspan></text>
<text transform="translate(487.3,272.7) rotate(-90)" font-size="11.9" text-anchor="middle" fill="#111">Intensity (a.u.)</text>
</svg>
</body></html>
